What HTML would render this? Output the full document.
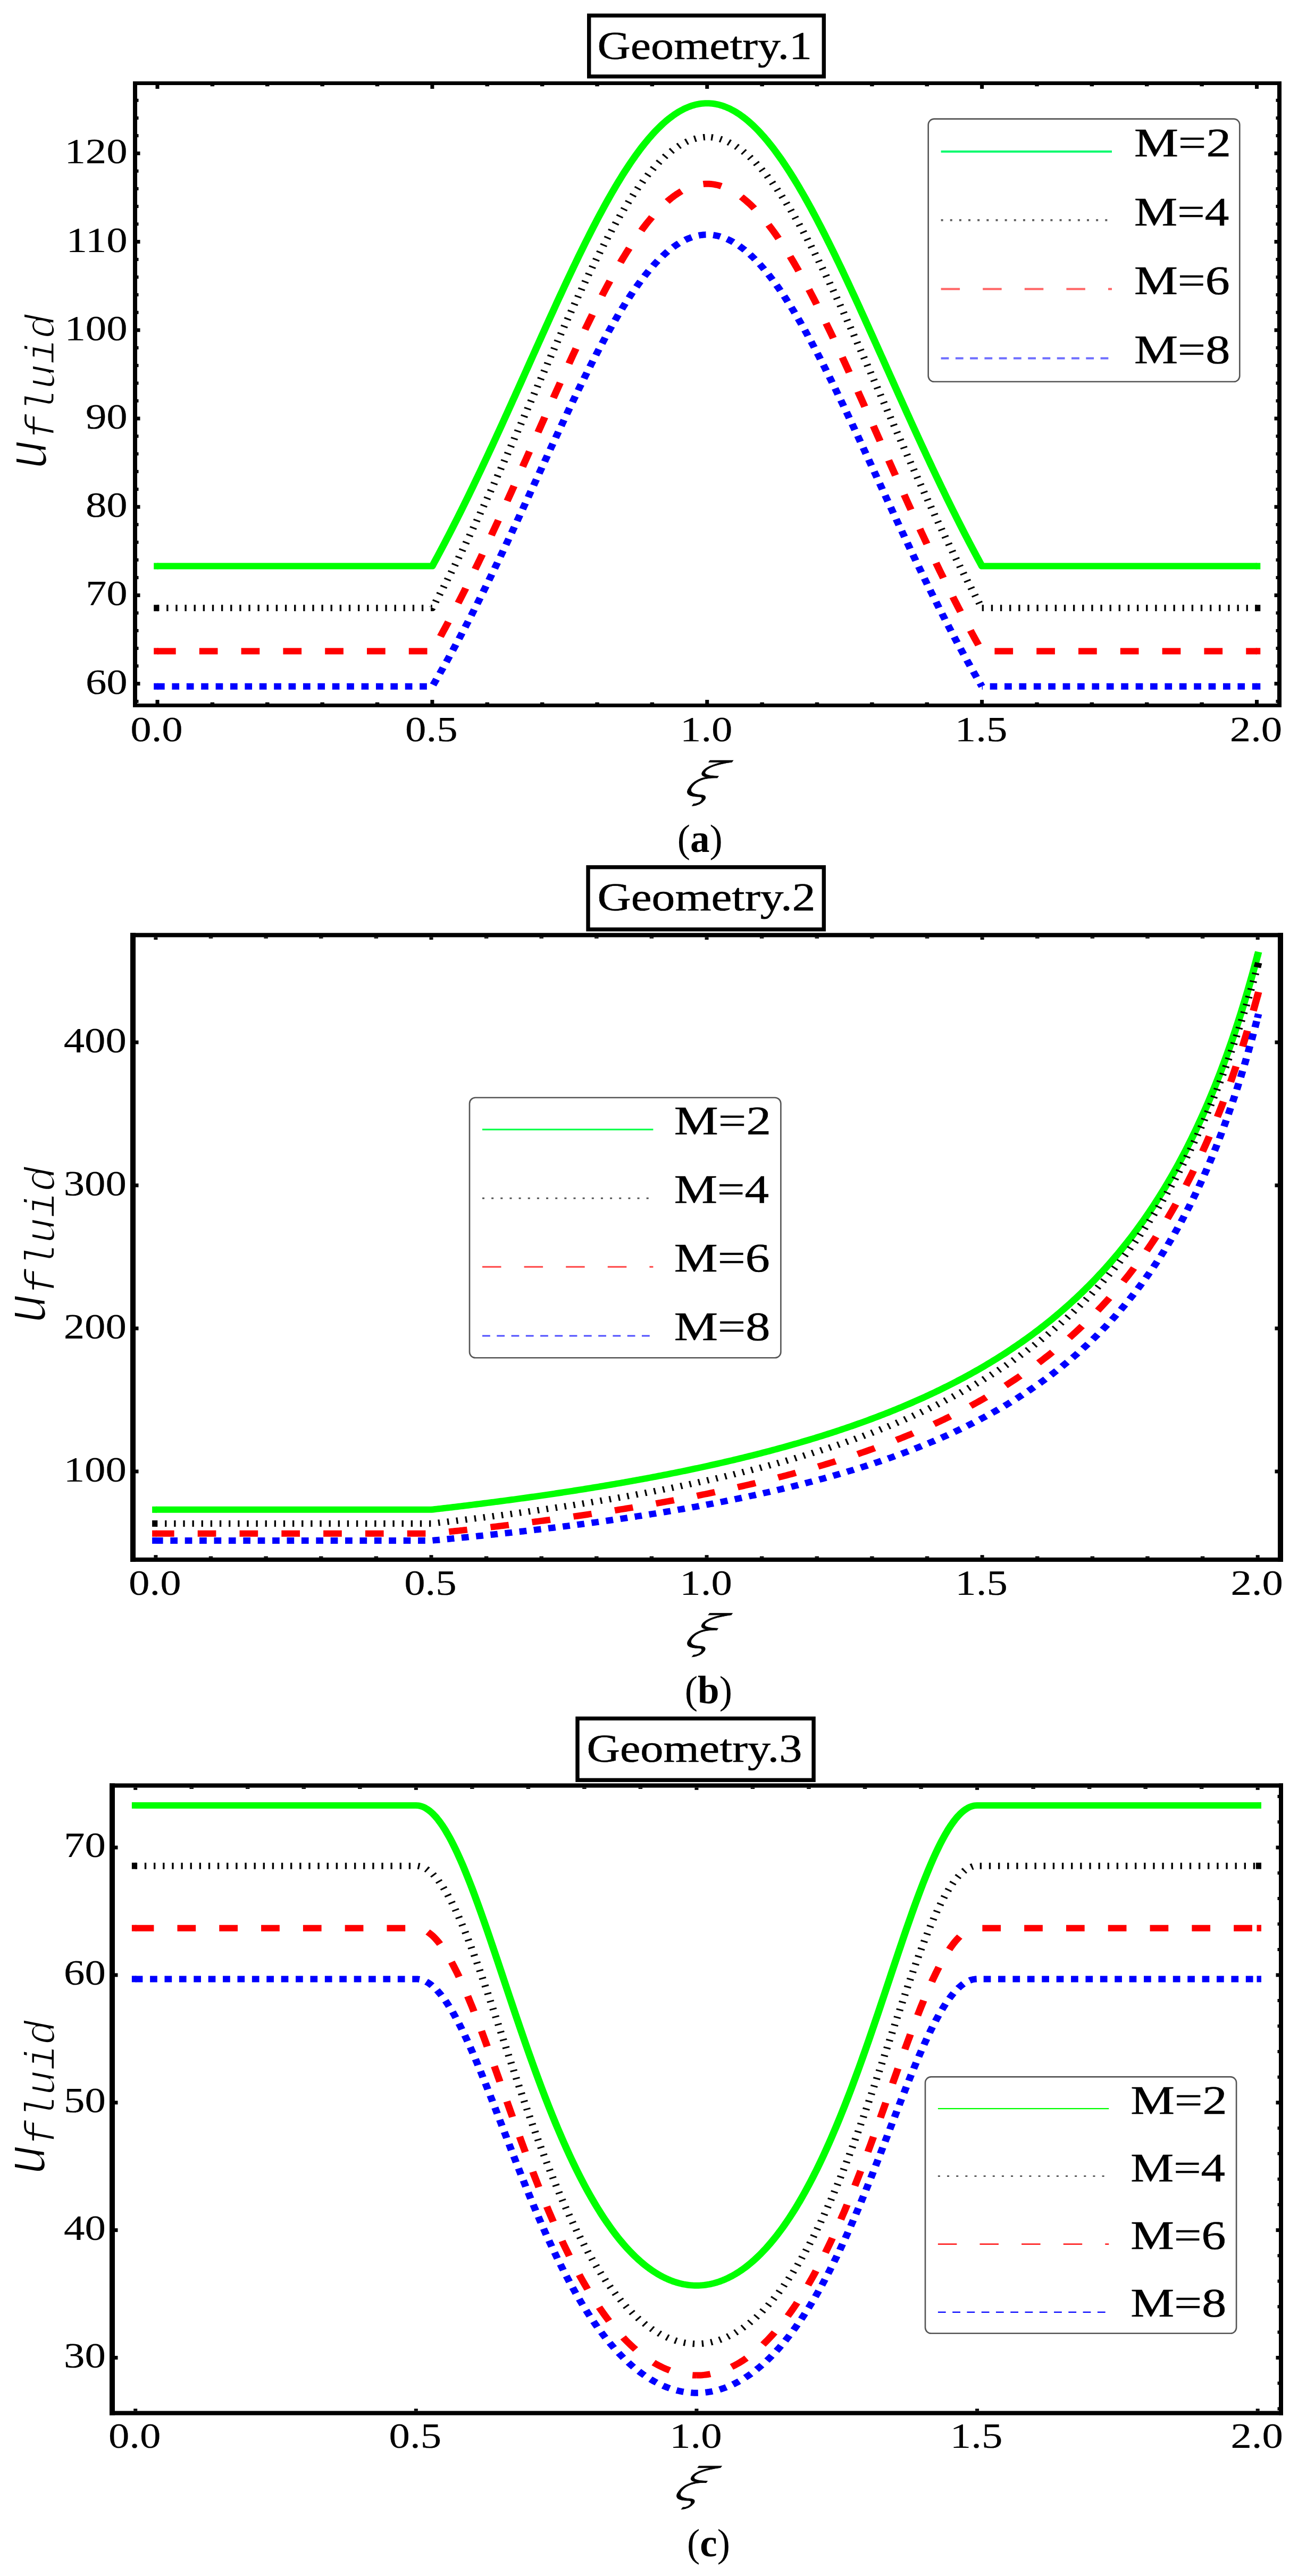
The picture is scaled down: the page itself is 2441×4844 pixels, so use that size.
<!DOCTYPE html>
<html><head><meta charset="utf-8"><title>Figure</title>
<style>html,body{margin:0;padding:0;background:#fff}svg{display:block}text{white-space:pre}</style></head>
<body><svg width="2441" height="4844" viewBox="0 0 2441 4844">
<defs><filter id="thinU" x="-10%" y="-10%" width="120%" height="120%"><feMorphology operator="erode" radius="1"/></filter>
<filter id="thinF" x="-10%" y="-10%" width="120%" height="120%"><feMorphology operator="erode" radius="1"/></filter>
<filter id="thinX" x="-10%" y="-10%" width="120%" height="120%"><feMorphology operator="erode" radius="1"/></filter></defs>
<rect width="2441" height="4844" fill="#fff"/>
<g transform="scale(1.134 1)">
<path d="M261.02 1064.55 L264.06 1064.55 L267.10 1064.55 L270.14 1064.55 L273.18 1064.55 L276.22 1064.55 L279.25 1064.55 L282.29 1064.55 L285.33 1064.55 L288.37 1064.55 L291.41 1064.55 L294.45 1064.55 L297.49 1064.55 L300.53 1064.55 L303.56 1064.55 L306.60 1064.55 L309.64 1064.55 L312.68 1064.55 L315.72 1064.55 L318.76 1064.55 L321.80 1064.55 L324.83 1064.55 L327.87 1064.55 L330.91 1064.55 L333.95 1064.55 L336.99 1064.55 L340.03 1064.55 L343.07 1064.55 L346.11 1064.55 L349.14 1064.55 L352.18 1064.55 L355.22 1064.55 L358.26 1064.55 L361.30 1064.55 L364.34 1064.55 L367.38 1064.55 L370.41 1064.55 L373.45 1064.55 L376.49 1064.55 L379.53 1064.55 L382.57 1064.55 L385.61 1064.55 L388.65 1064.55 L391.69 1064.55 L394.72 1064.55 L397.76 1064.55 L400.80 1064.55 L403.84 1064.55 L406.88 1064.55 L409.92 1064.55 L412.96 1064.55 L415.99 1064.55 L419.03 1064.55 L422.07 1064.55 L425.11 1064.55 L428.15 1064.55 L431.19 1064.55 L434.23 1064.55 L437.26 1064.55 L440.30 1064.55 L443.34 1064.55 L446.38 1064.55 L449.42 1064.55 L452.46 1064.55 L455.50 1064.55 L458.54 1064.55 L461.57 1064.55 L464.61 1064.55 L467.65 1064.55 L470.69 1064.55 L473.73 1064.55 L476.77 1064.55 L479.81 1064.55 L482.84 1064.55 L485.88 1064.55 L488.92 1064.55 L491.96 1064.55 L495.00 1064.55 L498.04 1064.55 L501.08 1064.55 L504.12 1064.55 L507.15 1064.55 L510.19 1064.55 L513.23 1064.55 L516.27 1064.55 L519.31 1064.55 L522.35 1064.55 L525.39 1064.55 L528.42 1064.55 L531.46 1064.55 L534.50 1064.55 L537.54 1064.55 L540.58 1064.55 L543.62 1064.55 L546.66 1064.55 L549.70 1064.55 L552.73 1064.55 L555.77 1064.55 L558.81 1064.55 L561.85 1064.55 L564.89 1064.55 L567.93 1064.55 L570.97 1064.55 L574.00 1064.55 L577.04 1064.55 L580.08 1064.55 L583.12 1064.55 L586.16 1064.55 L589.20 1064.55 L592.24 1064.55 L595.27 1064.55 L598.31 1064.55 L601.35 1064.55 L604.39 1064.55 L607.43 1064.55 L610.47 1064.55 L613.51 1064.55 L616.55 1064.55 L619.58 1064.55 L622.62 1064.55 L625.66 1064.55 L628.70 1064.55 L631.74 1064.55 L634.78 1064.55 L637.82 1064.55 L640.85 1064.55 L643.89 1064.55 L646.93 1064.55 L649.97 1064.55 L653.01 1064.55 L656.05 1064.55 L659.09 1064.55 L662.13 1064.55 L665.16 1064.55 L668.20 1064.55 L671.24 1064.55 L674.28 1064.55 L677.32 1064.55 L680.36 1064.55 L683.40 1064.55 L686.43 1064.55 L689.47 1064.55 L692.51 1064.55 L695.55 1064.55 L698.59 1064.55 L701.63 1064.55 L704.67 1064.55 L707.71 1064.55 L710.74 1064.55 L713.78 1064.55 L716.82 1064.55 L719.86 1058.24 L722.90 1051.88 L725.94 1045.48 L728.98 1039.03 L732.01 1032.54 L735.05 1026.02 L738.09 1019.45 L741.13 1012.84 L744.17 1006.19 L747.21 999.49 L750.25 992.77 L753.28 986.00 L756.32 979.19 L759.36 972.34 L762.40 965.46 L765.44 958.54 L768.48 951.59 L771.52 944.60 L774.56 937.57 L777.59 930.51 L780.63 923.42 L783.67 916.29 L786.71 909.13 L789.75 901.94 L792.79 894.72 L795.83 887.47 L798.86 880.19 L801.90 872.88 L804.94 865.54 L807.98 858.18 L811.02 850.79 L814.06 843.38 L817.10 835.94 L820.14 828.48 L823.17 821.00 L826.21 813.49 L829.25 805.97 L832.29 798.43 L835.33 790.87 L838.37 783.29 L841.41 775.69 L844.44 768.09 L847.48 760.46 L850.52 752.83 L853.56 745.18 L856.60 737.53 L859.64 729.87 L862.68 722.19 L865.72 714.52 L868.75 706.83 L871.79 699.15 L874.83 691.46 L877.87 683.77 L880.91 676.08 L883.95 668.40 L886.99 660.71 L890.02 653.04 L893.06 645.37 L896.10 637.70 L899.14 630.05 L902.18 622.41 L905.22 614.78 L908.26 607.16 L911.29 599.56 L914.33 591.98 L917.37 584.41 L920.41 576.87 L923.45 569.35 L926.49 561.85 L929.53 554.38 L932.57 546.93 L935.60 539.52 L938.64 532.14 L941.68 524.78 L944.72 517.47 L947.76 510.19 L950.80 502.94 L953.84 495.74 L956.87 488.58 L959.91 481.46 L962.95 474.39 L965.99 467.36 L969.03 460.39 L972.07 453.46 L975.11 446.59 L978.15 439.77 L981.18 433.01 L984.22 426.30 L987.26 419.66 L990.30 413.08 L993.34 406.56 L996.38 400.11 L999.42 393.72 L1002.45 387.41 L1005.49 381.16 L1008.53 374.99 L1011.57 368.89 L1014.61 362.87 L1017.65 356.93 L1020.69 351.07 L1023.73 345.29 L1026.76 339.60 L1029.80 333.99 L1032.84 328.47 L1035.88 323.04 L1038.92 317.70 L1041.96 312.45 L1045.00 307.29 L1048.03 302.24 L1051.07 297.28 L1054.11 292.42 L1057.15 287.66 L1060.19 283.00 L1063.23 278.44 L1066.27 274.00 L1069.30 269.66 L1072.34 265.42 L1075.38 261.30 L1078.42 257.29 L1081.46 253.39 L1084.50 249.61 L1087.54 245.94 L1090.58 242.39 L1093.61 238.95 L1096.65 235.64 L1099.69 232.44 L1102.73 229.37 L1105.77 226.42 L1108.81 223.59 L1111.85 220.89 L1114.88 218.31 L1117.92 215.86 L1120.96 213.54 L1124.00 211.34 L1127.04 209.28 L1130.08 207.34 L1133.12 205.54 L1136.16 203.86 L1139.19 202.32 L1142.23 200.91 L1145.27 199.63 L1148.31 198.48 L1151.35 197.47 L1154.39 196.60 L1157.43 195.85 L1160.46 195.25 L1163.50 194.77 L1166.54 194.44 L1169.58 194.23 L1172.62 194.16 L1175.66 194.23 L1178.70 194.44 L1181.74 194.77 L1184.77 195.25 L1187.81 195.85 L1190.85 196.60 L1193.89 197.47 L1196.93 198.48 L1199.97 199.63 L1203.01 200.91 L1206.04 202.32 L1209.08 203.86 L1212.12 205.54 L1215.16 207.34 L1218.20 209.28 L1221.24 211.34 L1224.28 213.54 L1227.31 215.86 L1230.35 218.31 L1233.39 220.89 L1236.43 223.59 L1239.47 226.42 L1242.51 229.37 L1245.55 232.44 L1248.59 235.64 L1251.62 238.95 L1254.66 242.39 L1257.70 245.94 L1260.74 249.61 L1263.78 253.39 L1266.82 257.29 L1269.86 261.30 L1272.89 265.42 L1275.93 269.66 L1278.97 274.00 L1282.01 278.44 L1285.05 283.00 L1288.09 287.66 L1291.13 292.42 L1294.17 297.28 L1297.20 302.24 L1300.24 307.29 L1303.28 312.45 L1306.32 317.70 L1309.36 323.04 L1312.40 328.47 L1315.44 333.99 L1318.47 339.60 L1321.51 345.29 L1324.55 351.07 L1327.59 356.93 L1330.63 362.87 L1333.67 368.89 L1336.71 374.99 L1339.75 381.16 L1342.78 387.41 L1345.82 393.72 L1348.86 400.11 L1351.90 406.56 L1354.94 413.08 L1357.98 419.66 L1361.02 426.30 L1364.05 433.01 L1367.09 439.77 L1370.13 446.59 L1373.17 453.46 L1376.21 460.39 L1379.25 467.36 L1382.29 474.39 L1385.32 481.46 L1388.36 488.58 L1391.40 495.74 L1394.44 502.94 L1397.48 510.19 L1400.52 517.47 L1403.56 524.78 L1406.60 532.14 L1409.63 539.52 L1412.67 546.93 L1415.71 554.38 L1418.75 561.85 L1421.79 569.35 L1424.83 576.87 L1427.87 584.41 L1430.90 591.98 L1433.94 599.56 L1436.98 607.16 L1440.02 614.78 L1443.06 622.41 L1446.10 630.05 L1449.14 637.70 L1452.18 645.37 L1455.21 653.04 L1458.25 660.71 L1461.29 668.40 L1464.33 676.08 L1467.37 683.77 L1470.41 691.46 L1473.45 699.15 L1476.48 706.83 L1479.52 714.52 L1482.56 722.19 L1485.60 729.87 L1488.64 737.53 L1491.68 745.18 L1494.72 752.83 L1497.75 760.46 L1500.79 768.09 L1503.83 775.69 L1506.87 783.29 L1509.91 790.87 L1512.95 798.43 L1515.99 805.97 L1519.03 813.49 L1522.06 821.00 L1525.10 828.48 L1528.14 835.94 L1531.18 843.38 L1534.22 850.79 L1537.26 858.18 L1540.30 865.54 L1543.33 872.88 L1546.37 880.19 L1549.41 887.47 L1552.45 894.72 L1555.49 901.94 L1558.53 909.13 L1561.57 916.29 L1564.61 923.42 L1567.64 930.51 L1570.68 937.57 L1573.72 944.60 L1576.76 951.59 L1579.80 958.54 L1582.84 965.46 L1585.88 972.34 L1588.91 979.19 L1591.95 986.00 L1594.99 992.77 L1598.03 999.49 L1601.07 1006.19 L1604.11 1012.84 L1607.15 1019.45 L1610.19 1026.02 L1613.22 1032.54 L1616.26 1039.03 L1619.30 1045.48 L1622.34 1051.88 L1625.38 1058.24 L1628.42 1064.55 L1631.46 1064.55 L1634.49 1064.55 L1637.53 1064.55 L1640.57 1064.55 L1643.61 1064.55 L1646.65 1064.55 L1649.69 1064.55 L1652.73 1064.55 L1655.76 1064.55 L1658.80 1064.55 L1661.84 1064.55 L1664.88 1064.55 L1667.92 1064.55 L1670.96 1064.55 L1674.00 1064.55 L1677.04 1064.55 L1680.07 1064.55 L1683.11 1064.55 L1686.15 1064.55 L1689.19 1064.55 L1692.23 1064.55 L1695.27 1064.55 L1698.31 1064.55 L1701.34 1064.55 L1704.38 1064.55 L1707.42 1064.55 L1710.46 1064.55 L1713.50 1064.55 L1716.54 1064.55 L1719.58 1064.55 L1722.62 1064.55 L1725.65 1064.55 L1728.69 1064.55 L1731.73 1064.55 L1734.77 1064.55 L1737.81 1064.55 L1740.85 1064.55 L1743.89 1064.55 L1746.92 1064.55 L1749.96 1064.55 L1753.00 1064.55 L1756.04 1064.55 L1759.08 1064.55 L1762.12 1064.55 L1765.16 1064.55 L1768.20 1064.55 L1771.23 1064.55 L1774.27 1064.55 L1777.31 1064.55 L1780.35 1064.55 L1783.39 1064.55 L1786.43 1064.55 L1789.47 1064.55 L1792.50 1064.55 L1795.54 1064.55 L1798.58 1064.55 L1801.62 1064.55 L1804.66 1064.55 L1807.70 1064.55 L1810.74 1064.55 L1813.77 1064.55 L1816.81 1064.55 L1819.85 1064.55 L1822.89 1064.55 L1825.93 1064.55 L1828.97 1064.55 L1832.01 1064.55 L1835.05 1064.55 L1838.08 1064.55 L1841.12 1064.55 L1844.16 1064.55 L1847.20 1064.55 L1850.24 1064.55 L1853.28 1064.55 L1856.32 1064.55 L1859.35 1064.55 L1862.39 1064.55 L1865.43 1064.55 L1868.47 1064.55 L1871.51 1064.55 L1874.55 1064.55 L1877.59 1064.55 L1880.63 1064.55 L1883.66 1064.55 L1886.70 1064.55 L1889.74 1064.55 L1892.78 1064.55 L1895.82 1064.55 L1898.86 1064.55 L1901.90 1064.55 L1904.93 1064.55 L1907.97 1064.55 L1911.01 1064.55 L1914.05 1064.55 L1917.09 1064.55 L1920.13 1064.55 L1923.17 1064.55 L1926.21 1064.55 L1929.24 1064.55 L1932.28 1064.55 L1935.32 1064.55 L1938.36 1064.55 L1941.40 1064.55 L1944.44 1064.55 L1947.48 1064.55 L1950.51 1064.55 L1953.55 1064.55 L1956.59 1064.55 L1959.63 1064.55 L1962.67 1064.55 L1965.71 1064.55 L1968.75 1064.55 L1971.78 1064.55 L1974.82 1064.55 L1977.86 1064.55 L1980.90 1064.55 L1983.94 1064.55 L1986.98 1064.55 L1990.02 1064.55 L1993.06 1064.55 L1996.09 1064.55 L1999.13 1064.55 L2002.17 1064.55 L2005.21 1064.55 L2008.25 1064.55 L2011.29 1064.55 L2014.33 1064.55 L2017.36 1064.55 L2020.40 1064.55 L2023.44 1064.55 L2026.48 1064.55 L2029.52 1064.55 L2032.56 1064.55 L2035.60 1064.55 L2038.64 1064.55 L2041.67 1064.55 L2044.71 1064.55 L2047.75 1064.55 L2050.79 1064.55 L2053.83 1064.55 L2056.87 1064.55 L2059.91 1064.55 L2062.94 1064.55 L2065.98 1064.55 L2069.02 1064.55 L2072.06 1064.55 L2075.10 1064.55 L2078.14 1064.55 L2081.18 1064.55 L2084.22 1064.55" fill="none" stroke="#00ff00" stroke-width="12.0" stroke-linejoin="round"/>
<path d="M262.52 1064.55 L255.02 1064.55" stroke="#00ff00" stroke-width="12.0" fill="none"/>
<path d="M2082.72 1064.55 L2090.22 1064.55" stroke="#00ff00" stroke-width="12.0" fill="none"/>
<path d="M261.02 1143.33 L264.06 1143.33 L267.10 1143.33 L270.14 1143.33 L273.18 1143.33 L276.22 1143.33 L279.25 1143.33 L282.29 1143.33 L285.33 1143.33 L288.37 1143.33 L291.41 1143.33 L294.45 1143.33 L297.49 1143.33 L300.53 1143.33 L303.56 1143.33 L306.60 1143.33 L309.64 1143.33 L312.68 1143.33 L315.72 1143.33 L318.76 1143.33 L321.80 1143.33 L324.83 1143.33 L327.87 1143.33 L330.91 1143.33 L333.95 1143.33 L336.99 1143.33 L340.03 1143.33 L343.07 1143.33 L346.11 1143.33 L349.14 1143.33 L352.18 1143.33 L355.22 1143.33 L358.26 1143.33 L361.30 1143.33 L364.34 1143.33 L367.38 1143.33 L370.41 1143.33 L373.45 1143.33 L376.49 1143.33 L379.53 1143.33 L382.57 1143.33 L385.61 1143.33 L388.65 1143.33 L391.69 1143.33 L394.72 1143.33 L397.76 1143.33 L400.80 1143.33 L403.84 1143.33 L406.88 1143.33 L409.92 1143.33 L412.96 1143.33 L415.99 1143.33 L419.03 1143.33 L422.07 1143.33 L425.11 1143.33 L428.15 1143.33 L431.19 1143.33 L434.23 1143.33 L437.26 1143.33 L440.30 1143.33 L443.34 1143.33 L446.38 1143.33 L449.42 1143.33 L452.46 1143.33 L455.50 1143.33 L458.54 1143.33 L461.57 1143.33 L464.61 1143.33 L467.65 1143.33 L470.69 1143.33 L473.73 1143.33 L476.77 1143.33 L479.81 1143.33 L482.84 1143.33 L485.88 1143.33 L488.92 1143.33 L491.96 1143.33 L495.00 1143.33 L498.04 1143.33 L501.08 1143.33 L504.12 1143.33 L507.15 1143.33 L510.19 1143.33 L513.23 1143.33 L516.27 1143.33 L519.31 1143.33 L522.35 1143.33 L525.39 1143.33 L528.42 1143.33 L531.46 1143.33 L534.50 1143.33 L537.54 1143.33 L540.58 1143.33 L543.62 1143.33 L546.66 1143.33 L549.70 1143.33 L552.73 1143.33 L555.77 1143.33 L558.81 1143.33 L561.85 1143.33 L564.89 1143.33 L567.93 1143.33 L570.97 1143.33 L574.00 1143.33 L577.04 1143.33 L580.08 1143.33 L583.12 1143.33 L586.16 1143.33 L589.20 1143.33 L592.24 1143.33 L595.27 1143.33 L598.31 1143.33 L601.35 1143.33 L604.39 1143.33 L607.43 1143.33 L610.47 1143.33 L613.51 1143.33 L616.55 1143.33 L619.58 1143.33 L622.62 1143.33 L625.66 1143.33 L628.70 1143.33 L631.74 1143.33 L634.78 1143.33 L637.82 1143.33 L640.85 1143.33 L643.89 1143.33 L646.93 1143.33 L649.97 1143.33 L653.01 1143.33 L656.05 1143.33 L659.09 1143.33 L662.13 1143.33 L665.16 1143.33 L668.20 1143.33 L671.24 1143.33 L674.28 1143.33 L677.32 1143.33 L680.36 1143.33 L683.40 1143.33 L686.43 1143.33 L689.47 1143.33 L692.51 1143.33 L695.55 1143.33 L698.59 1143.33 L701.63 1143.33 L704.67 1143.33 L707.71 1143.33 L710.74 1143.33 L713.78 1143.33 L716.82 1143.33 L719.86 1137.07 L722.90 1130.75 L725.94 1124.40 L728.98 1118.00 L732.01 1111.55 L735.05 1105.06 L738.09 1098.53 L741.13 1091.95 L744.17 1085.33 L747.21 1078.67 L750.25 1071.96 L753.28 1065.22 L756.32 1058.43 L759.36 1051.60 L762.40 1044.73 L765.44 1037.82 L768.48 1030.88 L771.52 1023.89 L774.56 1016.87 L777.59 1009.80 L780.63 1002.71 L783.67 995.57 L786.71 988.40 L789.75 981.20 L792.79 973.96 L795.83 966.69 L798.86 959.39 L801.90 952.05 L804.94 944.68 L807.98 937.29 L811.02 929.86 L814.06 922.41 L817.10 914.93 L820.14 907.42 L823.17 899.88 L826.21 892.33 L829.25 884.74 L832.29 877.14 L835.33 869.51 L838.37 861.87 L841.41 854.20 L844.44 846.52 L847.48 838.82 L850.52 831.10 L853.56 823.37 L856.60 815.63 L859.64 807.87 L862.68 800.10 L865.72 792.32 L868.75 784.54 L871.79 776.75 L874.83 768.95 L877.87 761.15 L880.91 753.34 L883.95 745.54 L886.99 737.73 L890.02 729.93 L893.06 722.13 L896.10 714.33 L899.14 706.54 L902.18 698.76 L905.22 690.99 L908.26 683.23 L911.29 675.48 L914.33 667.74 L917.37 660.03 L920.41 652.33 L923.45 644.65 L926.49 636.99 L929.53 629.36 L932.57 621.75 L935.60 614.16 L938.64 606.61 L941.68 599.09 L944.72 591.59 L947.76 584.14 L950.80 576.72 L953.84 569.33 L956.87 561.99 L959.91 554.69 L962.95 547.43 L965.99 540.22 L969.03 533.06 L972.07 525.94 L975.11 518.88 L978.15 511.87 L981.18 504.92 L984.22 498.02 L987.26 491.18 L990.30 484.41 L993.34 477.70 L996.38 471.05 L999.42 464.47 L1002.45 457.96 L1005.49 451.52 L1008.53 445.16 L1011.57 438.87 L1014.61 432.66 L1017.65 426.52 L1020.69 420.47 L1023.73 414.50 L1026.76 408.62 L1029.80 402.83 L1032.84 397.12 L1035.88 391.50 L1038.92 385.98 L1041.96 380.55 L1045.00 375.21 L1048.03 369.98 L1051.07 364.84 L1054.11 359.81 L1057.15 354.88 L1060.19 350.06 L1063.23 345.34 L1066.27 340.73 L1069.30 336.23 L1072.34 331.84 L1075.38 327.56 L1078.42 323.40 L1081.46 319.36 L1084.50 315.43 L1087.54 311.62 L1090.58 307.94 L1093.61 304.37 L1096.65 300.93 L1099.69 297.61 L1102.73 294.42 L1105.77 291.35 L1108.81 288.42 L1111.85 285.61 L1114.88 282.93 L1117.92 280.38 L1120.96 277.97 L1124.00 275.69 L1127.04 273.54 L1130.08 271.53 L1133.12 269.65 L1136.16 267.91 L1139.19 266.30 L1142.23 264.83 L1145.27 263.50 L1148.31 262.31 L1151.35 261.26 L1154.39 260.35 L1157.43 259.58 L1160.46 258.94 L1163.50 258.45 L1166.54 258.10 L1169.58 257.89 L1172.62 257.82" fill="none" stroke="#000000" stroke-width="12.0" stroke-linejoin="round" stroke-dasharray="3.000 12.110"/>
<path d="M1172.62 257.82 L1175.66 257.89 L1178.70 258.10 L1181.74 258.45 L1184.77 258.94 L1187.81 259.58 L1190.85 260.35 L1193.89 261.26 L1196.93 262.31 L1199.97 263.50 L1203.01 264.83 L1206.04 266.30 L1209.08 267.91 L1212.12 269.65 L1215.16 271.53 L1218.20 273.54 L1221.24 275.69 L1224.28 277.97 L1227.31 280.38 L1230.35 282.93 L1233.39 285.61 L1236.43 288.42 L1239.47 291.35 L1242.51 294.42 L1245.55 297.61 L1248.59 300.93 L1251.62 304.37 L1254.66 307.94 L1257.70 311.62 L1260.74 315.43 L1263.78 319.36 L1266.82 323.40 L1269.86 327.56 L1272.89 331.84 L1275.93 336.23 L1278.97 340.73 L1282.01 345.34 L1285.05 350.06 L1288.09 354.88 L1291.13 359.81 L1294.17 364.84 L1297.20 369.98 L1300.24 375.21 L1303.28 380.55 L1306.32 385.98 L1309.36 391.50 L1312.40 397.12 L1315.44 402.83 L1318.47 408.62 L1321.51 414.50 L1324.55 420.47 L1327.59 426.52 L1330.63 432.66 L1333.67 438.87 L1336.71 445.16 L1339.75 451.52 L1342.78 457.96 L1345.82 464.47 L1348.86 471.05 L1351.90 477.70 L1354.94 484.41 L1357.98 491.18 L1361.02 498.02 L1364.05 504.92 L1367.09 511.87 L1370.13 518.88 L1373.17 525.94 L1376.21 533.06 L1379.25 540.22 L1382.29 547.43 L1385.32 554.69 L1388.36 561.99 L1391.40 569.33 L1394.44 576.72 L1397.48 584.14 L1400.52 591.59 L1403.56 599.09 L1406.60 606.61 L1409.63 614.16 L1412.67 621.75 L1415.71 629.36 L1418.75 636.99 L1421.79 644.65 L1424.83 652.33 L1427.87 660.03 L1430.90 667.74 L1433.94 675.48 L1436.98 683.23 L1440.02 690.99 L1443.06 698.76 L1446.10 706.54 L1449.14 714.33 L1452.18 722.13 L1455.21 729.93 L1458.25 737.73 L1461.29 745.54 L1464.33 753.34 L1467.37 761.15 L1470.41 768.95 L1473.45 776.75 L1476.48 784.54 L1479.52 792.32 L1482.56 800.10 L1485.60 807.87 L1488.64 815.63 L1491.68 823.37 L1494.72 831.10 L1497.75 838.82 L1500.79 846.52 L1503.83 854.20 L1506.87 861.87 L1509.91 869.51 L1512.95 877.14 L1515.99 884.74 L1519.03 892.33 L1522.06 899.88 L1525.10 907.42 L1528.14 914.93 L1531.18 922.41 L1534.22 929.86 L1537.26 937.29 L1540.30 944.68 L1543.33 952.05 L1546.37 959.39 L1549.41 966.69 L1552.45 973.96 L1555.49 981.20 L1558.53 988.40 L1561.57 995.57 L1564.61 1002.71 L1567.64 1009.80 L1570.68 1016.87 L1573.72 1023.89 L1576.76 1030.88 L1579.80 1037.82 L1582.84 1044.73 L1585.88 1051.60 L1588.91 1058.43 L1591.95 1065.22 L1594.99 1071.96 L1598.03 1078.67 L1601.07 1085.33 L1604.11 1091.95 L1607.15 1098.53 L1610.19 1105.06 L1613.22 1111.55 L1616.26 1118.00 L1619.30 1124.40 L1622.34 1130.75 L1625.38 1137.07 L1628.42 1143.33" fill="none" stroke="#000000" stroke-width="12.0" stroke-linejoin="round" stroke-dasharray="3.000 12.110" stroke-dashoffset="8.46"/>
<path d="M1628.42 1143.33 L1631.46 1143.33 L1634.49 1143.33 L1637.53 1143.33 L1640.57 1143.33 L1643.61 1143.33 L1646.65 1143.33 L1649.69 1143.33 L1652.73 1143.33 L1655.76 1143.33 L1658.80 1143.33 L1661.84 1143.33 L1664.88 1143.33 L1667.92 1143.33 L1670.96 1143.33 L1674.00 1143.33 L1677.04 1143.33 L1680.07 1143.33 L1683.11 1143.33 L1686.15 1143.33 L1689.19 1143.33 L1692.23 1143.33 L1695.27 1143.33 L1698.31 1143.33 L1701.34 1143.33 L1704.38 1143.33 L1707.42 1143.33 L1710.46 1143.33 L1713.50 1143.33 L1716.54 1143.33 L1719.58 1143.33 L1722.62 1143.33 L1725.65 1143.33 L1728.69 1143.33 L1731.73 1143.33 L1734.77 1143.33 L1737.81 1143.33 L1740.85 1143.33 L1743.89 1143.33 L1746.92 1143.33 L1749.96 1143.33 L1753.00 1143.33 L1756.04 1143.33 L1759.08 1143.33 L1762.12 1143.33 L1765.16 1143.33 L1768.20 1143.33 L1771.23 1143.33 L1774.27 1143.33 L1777.31 1143.33 L1780.35 1143.33 L1783.39 1143.33 L1786.43 1143.33 L1789.47 1143.33 L1792.50 1143.33 L1795.54 1143.33 L1798.58 1143.33 L1801.62 1143.33 L1804.66 1143.33 L1807.70 1143.33 L1810.74 1143.33 L1813.77 1143.33 L1816.81 1143.33 L1819.85 1143.33 L1822.89 1143.33 L1825.93 1143.33 L1828.97 1143.33 L1832.01 1143.33 L1835.05 1143.33 L1838.08 1143.33 L1841.12 1143.33 L1844.16 1143.33 L1847.20 1143.33 L1850.24 1143.33 L1853.28 1143.33 L1856.32 1143.33 L1859.35 1143.33 L1862.39 1143.33 L1865.43 1143.33 L1868.47 1143.33 L1871.51 1143.33 L1874.55 1143.33 L1877.59 1143.33 L1880.63 1143.33 L1883.66 1143.33 L1886.70 1143.33 L1889.74 1143.33 L1892.78 1143.33 L1895.82 1143.33 L1898.86 1143.33 L1901.90 1143.33 L1904.93 1143.33 L1907.97 1143.33 L1911.01 1143.33 L1914.05 1143.33 L1917.09 1143.33 L1920.13 1143.33 L1923.17 1143.33 L1926.21 1143.33 L1929.24 1143.33 L1932.28 1143.33 L1935.32 1143.33 L1938.36 1143.33 L1941.40 1143.33 L1944.44 1143.33 L1947.48 1143.33 L1950.51 1143.33 L1953.55 1143.33 L1956.59 1143.33 L1959.63 1143.33 L1962.67 1143.33 L1965.71 1143.33 L1968.75 1143.33 L1971.78 1143.33 L1974.82 1143.33 L1977.86 1143.33 L1980.90 1143.33 L1983.94 1143.33 L1986.98 1143.33 L1990.02 1143.33 L1993.06 1143.33 L1996.09 1143.33 L1999.13 1143.33 L2002.17 1143.33 L2005.21 1143.33 L2008.25 1143.33 L2011.29 1143.33 L2014.33 1143.33 L2017.36 1143.33 L2020.40 1143.33 L2023.44 1143.33 L2026.48 1143.33 L2029.52 1143.33 L2032.56 1143.33 L2035.60 1143.33 L2038.64 1143.33 L2041.67 1143.33 L2044.71 1143.33 L2047.75 1143.33 L2050.79 1143.33 L2053.83 1143.33 L2056.87 1143.33 L2059.91 1143.33 L2062.94 1143.33 L2065.98 1143.33 L2069.02 1143.33 L2072.06 1143.33 L2075.10 1143.33 L2078.14 1143.33 L2081.18 1143.33 L2084.22 1143.33" fill="none" stroke="#000000" stroke-width="12.0" stroke-linejoin="round" stroke-dasharray="3.000 12.110"/>
<path d="M262.52 1143.33 L255.02 1143.33" stroke="#000000" stroke-width="12.0" fill="none"/>
<path d="M2081.22 1143.33 L2090.22 1143.33" stroke="#000000" stroke-width="12.0" fill="none"/>
<path d="M261.02 1224.44 L264.06 1224.44 L267.10 1224.44 L270.14 1224.44 L273.18 1224.44 L276.22 1224.44 L279.25 1224.44 L282.29 1224.44 L285.33 1224.44 L288.37 1224.44 L291.41 1224.44 L294.45 1224.44 L297.49 1224.44 L300.53 1224.44 L303.56 1224.44 L306.60 1224.44 L309.64 1224.44 L312.68 1224.44 L315.72 1224.44 L318.76 1224.44 L321.80 1224.44 L324.83 1224.44 L327.87 1224.44 L330.91 1224.44 L333.95 1224.44 L336.99 1224.44 L340.03 1224.44 L343.07 1224.44 L346.11 1224.44 L349.14 1224.44 L352.18 1224.44 L355.22 1224.44 L358.26 1224.44 L361.30 1224.44 L364.34 1224.44 L367.38 1224.44 L370.41 1224.44 L373.45 1224.44 L376.49 1224.44 L379.53 1224.44 L382.57 1224.44 L385.61 1224.44 L388.65 1224.44 L391.69 1224.44 L394.72 1224.44 L397.76 1224.44 L400.80 1224.44 L403.84 1224.44 L406.88 1224.44 L409.92 1224.44 L412.96 1224.44 L415.99 1224.44 L419.03 1224.44 L422.07 1224.44 L425.11 1224.44 L428.15 1224.44 L431.19 1224.44 L434.23 1224.44 L437.26 1224.44 L440.30 1224.44 L443.34 1224.44 L446.38 1224.44 L449.42 1224.44 L452.46 1224.44 L455.50 1224.44 L458.54 1224.44 L461.57 1224.44 L464.61 1224.44 L467.65 1224.44 L470.69 1224.44 L473.73 1224.44 L476.77 1224.44 L479.81 1224.44 L482.84 1224.44 L485.88 1224.44 L488.92 1224.44 L491.96 1224.44 L495.00 1224.44 L498.04 1224.44 L501.08 1224.44 L504.12 1224.44 L507.15 1224.44 L510.19 1224.44 L513.23 1224.44 L516.27 1224.44 L519.31 1224.44 L522.35 1224.44 L525.39 1224.44 L528.42 1224.44 L531.46 1224.44 L534.50 1224.44 L537.54 1224.44 L540.58 1224.44 L543.62 1224.44 L546.66 1224.44 L549.70 1224.44 L552.73 1224.44 L555.77 1224.44 L558.81 1224.44 L561.85 1224.44 L564.89 1224.44 L567.93 1224.44 L570.97 1224.44 L574.00 1224.44 L577.04 1224.44 L580.08 1224.44 L583.12 1224.44 L586.16 1224.44 L589.20 1224.44 L592.24 1224.44 L595.27 1224.44 L598.31 1224.44 L601.35 1224.44 L604.39 1224.44 L607.43 1224.44 L610.47 1224.44 L613.51 1224.44 L616.55 1224.44 L619.58 1224.44 L622.62 1224.44 L625.66 1224.44 L628.70 1224.44 L631.74 1224.44 L634.78 1224.44 L637.82 1224.44 L640.85 1224.44 L643.89 1224.44 L646.93 1224.44 L649.97 1224.44 L653.01 1224.44 L656.05 1224.44 L659.09 1224.44 L662.13 1224.44 L665.16 1224.44 L668.20 1224.44 L671.24 1224.44 L674.28 1224.44 L677.32 1224.44 L680.36 1224.44 L683.40 1224.44 L686.43 1224.44 L689.47 1224.44 L692.51 1224.44 L695.55 1224.44 L698.59 1224.44 L701.63 1224.44 L704.67 1224.44 L707.71 1224.44 L710.74 1224.44 L713.78 1224.44 L716.82 1224.44 L719.86 1218.35 L722.90 1212.21 L725.94 1206.03 L728.98 1199.80 L732.01 1193.53 L735.05 1187.21 L738.09 1180.84 L741.13 1174.44 L744.17 1167.98 L747.21 1161.49 L750.25 1154.95 L753.28 1148.37 L756.32 1141.74 L759.36 1135.08 L762.40 1128.37 L765.44 1121.62 L768.48 1114.83 L771.52 1108.00 L774.56 1101.13 L777.59 1094.22 L780.63 1087.27 L783.67 1080.29 L786.71 1073.27 L789.75 1066.21 L792.79 1059.11 L795.83 1051.98 L798.86 1044.82 L801.90 1037.62 L804.94 1030.39 L807.98 1023.13 L811.02 1015.84 L814.06 1008.51 L817.10 1001.16 L820.14 993.77 L823.17 986.36 L826.21 978.93 L829.25 971.46 L832.29 963.98 L835.33 956.46 L838.37 948.93 L841.41 941.37 L844.44 933.79 L847.48 926.20 L850.52 918.58 L853.56 910.95 L856.60 903.30 L859.64 895.64 L862.68 887.96 L865.72 880.27 L868.75 872.57 L871.79 864.87 L874.83 857.15 L877.87 849.42 L880.91 841.70 L883.95 833.96 L886.99 826.23 L890.02 818.49 L893.06 810.75 L896.10 803.02 L899.14 795.29 L902.18 787.56 L905.22 779.85 L908.26 772.14 L911.29 764.44 L914.33 756.75 L917.37 749.08 L920.41 741.42 L923.45 733.78 L926.49 726.15 L929.53 718.55 L932.57 710.97 L935.60 703.42 L938.64 695.89 L941.68 688.39 L944.72 680.91 L947.76 673.47 L950.80 666.07 L953.84 658.70 L956.87 651.37 L959.91 644.07 L962.95 636.82 L965.99 629.61 L969.03 622.45 L972.07 615.34 L975.11 608.27 L978.15 601.26 L981.18 594.30 L984.22 587.39 L987.26 580.55 L990.30 573.76 L993.34 567.04 L996.38 560.37 L999.42 553.78 L1002.45 547.25 L1005.49 540.79 L1008.53 534.41 L1011.57 528.10 L1014.61 521.86 L1017.65 515.70 L1020.69 509.63 L1023.73 503.63 L1026.76 497.72 L1029.80 491.89 L1032.84 486.16 L1035.88 480.51 L1038.92 474.95 L1041.96 469.49 L1045.00 464.13 L1048.03 458.86 L1051.07 453.69 L1054.11 448.62 L1057.15 443.66 L1060.19 438.80 L1063.23 434.05 L1066.27 429.40 L1069.30 424.87 L1072.34 420.45 L1075.38 416.14 L1078.42 411.94 L1081.46 407.86 L1084.50 403.90 L1087.54 400.06 L1090.58 396.34 L1093.61 392.75 L1096.65 389.27 L1099.69 385.93 L1102.73 382.70 L1105.77 379.61 L1108.81 376.65 L1111.85 373.81 L1114.88 371.11 L1117.92 368.53 L1120.96 366.10 L1124.00 363.79 L1127.04 361.62 L1130.08 359.59 L1133.12 357.69 L1136.16 355.93 L1139.19 354.31 L1142.23 352.83 L1145.27 351.48 L1148.31 350.28 L1151.35 349.22 L1154.39 348.30 L1157.43 347.52 L1160.46 346.88 L1163.50 346.38 L1166.54 346.02 L1169.58 345.81 L1172.62 345.74 L1175.66 345.81 L1178.70 346.02 L1181.74 346.38 L1184.77 346.88 L1187.81 347.52 L1190.85 348.30 L1193.89 349.22 L1196.93 350.28 L1199.97 351.48 L1203.01 352.83 L1206.04 354.31 L1209.08 355.93 L1212.12 357.69 L1215.16 359.59 L1218.20 361.62 L1221.24 363.79 L1224.28 366.10 L1227.31 368.53 L1230.35 371.11 L1233.39 373.81 L1236.43 376.65 L1239.47 379.61 L1242.51 382.70 L1245.55 385.93 L1248.59 389.27 L1251.62 392.75 L1254.66 396.34 L1257.70 400.06 L1260.74 403.90 L1263.78 407.86 L1266.82 411.94 L1269.86 416.14 L1272.89 420.45 L1275.93 424.87 L1278.97 429.40 L1282.01 434.05 L1285.05 438.80 L1288.09 443.66 L1291.13 448.62 L1294.17 453.69 L1297.20 458.86 L1300.24 464.13 L1303.28 469.49 L1306.32 474.95 L1309.36 480.51 L1312.40 486.16 L1315.44 491.89 L1318.47 497.72 L1321.51 503.63 L1324.55 509.63 L1327.59 515.70 L1330.63 521.86 L1333.67 528.10 L1336.71 534.41 L1339.75 540.79 L1342.78 547.25 L1345.82 553.78 L1348.86 560.37 L1351.90 567.04 L1354.94 573.76 L1357.98 580.55 L1361.02 587.39 L1364.05 594.30 L1367.09 601.26 L1370.13 608.27 L1373.17 615.34 L1376.21 622.45 L1379.25 629.61 L1382.29 636.82 L1385.32 644.07 L1388.36 651.37 L1391.40 658.70 L1394.44 666.07 L1397.48 673.47 L1400.52 680.91 L1403.56 688.39 L1406.60 695.89 L1409.63 703.42 L1412.67 710.97 L1415.71 718.55 L1418.75 726.15 L1421.79 733.78 L1424.83 741.42 L1427.87 749.08 L1430.90 756.75 L1433.94 764.44 L1436.98 772.14 L1440.02 779.85 L1443.06 787.56 L1446.10 795.29 L1449.14 803.02 L1452.18 810.75 L1455.21 818.49 L1458.25 826.23 L1461.29 833.96 L1464.33 841.70 L1467.37 849.42 L1470.41 857.15 L1473.45 864.87 L1476.48 872.57 L1479.52 880.27 L1482.56 887.96 L1485.60 895.64 L1488.64 903.30 L1491.68 910.95 L1494.72 918.58 L1497.75 926.20 L1500.79 933.79 L1503.83 941.37 L1506.87 948.93 L1509.91 956.46 L1512.95 963.98 L1515.99 971.46 L1519.03 978.93 L1522.06 986.36 L1525.10 993.77 L1528.14 1001.16 L1531.18 1008.51 L1534.22 1015.84 L1537.26 1023.13 L1540.30 1030.39 L1543.33 1037.62 L1546.37 1044.82 L1549.41 1051.98 L1552.45 1059.11 L1555.49 1066.21 L1558.53 1073.27 L1561.57 1080.29 L1564.61 1087.27 L1567.64 1094.22 L1570.68 1101.13 L1573.72 1108.00 L1576.76 1114.83 L1579.80 1121.62 L1582.84 1128.37 L1585.88 1135.08 L1588.91 1141.74 L1591.95 1148.37 L1594.99 1154.95 L1598.03 1161.49 L1601.07 1167.98 L1604.11 1174.44 L1607.15 1180.84 L1610.19 1187.21 L1613.22 1193.53 L1616.26 1199.80 L1619.30 1206.03 L1622.34 1212.21 L1625.38 1218.35 L1628.42 1224.44" fill="none" stroke="#ff0000" stroke-width="12.0" stroke-linejoin="round" stroke-dasharray="30.600 38.890"/>
<path d="M1628.42 1224.44 L1631.46 1224.44 L1634.49 1224.44 L1637.53 1224.44 L1640.57 1224.44 L1643.61 1224.44 L1646.65 1224.44 L1649.69 1224.44 L1652.73 1224.44 L1655.76 1224.44 L1658.80 1224.44 L1661.84 1224.44 L1664.88 1224.44 L1667.92 1224.44 L1670.96 1224.44 L1674.00 1224.44 L1677.04 1224.44 L1680.07 1224.44 L1683.11 1224.44 L1686.15 1224.44 L1689.19 1224.44 L1692.23 1224.44 L1695.27 1224.44 L1698.31 1224.44 L1701.34 1224.44 L1704.38 1224.44 L1707.42 1224.44 L1710.46 1224.44 L1713.50 1224.44 L1716.54 1224.44 L1719.58 1224.44 L1722.62 1224.44 L1725.65 1224.44 L1728.69 1224.44 L1731.73 1224.44 L1734.77 1224.44 L1737.81 1224.44 L1740.85 1224.44 L1743.89 1224.44 L1746.92 1224.44 L1749.96 1224.44 L1753.00 1224.44 L1756.04 1224.44 L1759.08 1224.44 L1762.12 1224.44 L1765.16 1224.44 L1768.20 1224.44 L1771.23 1224.44 L1774.27 1224.44 L1777.31 1224.44 L1780.35 1224.44 L1783.39 1224.44 L1786.43 1224.44 L1789.47 1224.44 L1792.50 1224.44 L1795.54 1224.44 L1798.58 1224.44 L1801.62 1224.44 L1804.66 1224.44 L1807.70 1224.44 L1810.74 1224.44 L1813.77 1224.44 L1816.81 1224.44 L1819.85 1224.44 L1822.89 1224.44 L1825.93 1224.44 L1828.97 1224.44 L1832.01 1224.44 L1835.05 1224.44 L1838.08 1224.44 L1841.12 1224.44 L1844.16 1224.44 L1847.20 1224.44 L1850.24 1224.44 L1853.28 1224.44 L1856.32 1224.44 L1859.35 1224.44 L1862.39 1224.44 L1865.43 1224.44 L1868.47 1224.44 L1871.51 1224.44 L1874.55 1224.44 L1877.59 1224.44 L1880.63 1224.44 L1883.66 1224.44 L1886.70 1224.44 L1889.74 1224.44 L1892.78 1224.44 L1895.82 1224.44 L1898.86 1224.44 L1901.90 1224.44 L1904.93 1224.44 L1907.97 1224.44 L1911.01 1224.44 L1914.05 1224.44 L1917.09 1224.44 L1920.13 1224.44 L1923.17 1224.44 L1926.21 1224.44 L1929.24 1224.44 L1932.28 1224.44 L1935.32 1224.44 L1938.36 1224.44 L1941.40 1224.44 L1944.44 1224.44 L1947.48 1224.44 L1950.51 1224.44 L1953.55 1224.44 L1956.59 1224.44 L1959.63 1224.44 L1962.67 1224.44 L1965.71 1224.44 L1968.75 1224.44 L1971.78 1224.44 L1974.82 1224.44 L1977.86 1224.44 L1980.90 1224.44 L1983.94 1224.44 L1986.98 1224.44 L1990.02 1224.44 L1993.06 1224.44 L1996.09 1224.44 L1999.13 1224.44 L2002.17 1224.44 L2005.21 1224.44 L2008.25 1224.44 L2011.29 1224.44 L2014.33 1224.44 L2017.36 1224.44 L2020.40 1224.44 L2023.44 1224.44 L2026.48 1224.44 L2029.52 1224.44 L2032.56 1224.44 L2035.60 1224.44 L2038.64 1224.44 L2041.67 1224.44 L2044.71 1224.44 L2047.75 1224.44 L2050.79 1224.44 L2053.83 1224.44 L2056.87 1224.44 L2059.91 1224.44 L2062.94 1224.44 L2065.98 1224.44 L2069.02 1224.44 L2072.06 1224.44 L2075.10 1224.44 L2078.14 1224.44 L2081.18 1224.44 L2084.22 1224.44" fill="none" stroke="#ff0000" stroke-width="12.0" stroke-linejoin="round" stroke-dasharray="30.600 38.890" stroke-dashoffset="48.50"/>
<path d="M262.52 1224.44 L255.02 1224.44" stroke="#ff0000" stroke-width="12.0" fill="none"/>
<path d="M2082.72 1224.44 L2090.22 1224.44" stroke="#ff0000" stroke-width="12.0" fill="none"/>
<path d="M261.02 1290.75 L264.06 1290.75 L267.10 1290.75 L270.14 1290.75 L273.18 1290.75 L276.22 1290.75 L279.25 1290.75 L282.29 1290.75 L285.33 1290.75 L288.37 1290.75 L291.41 1290.75 L294.45 1290.75 L297.49 1290.75 L300.53 1290.75 L303.56 1290.75 L306.60 1290.75 L309.64 1290.75 L312.68 1290.75 L315.72 1290.75 L318.76 1290.75 L321.80 1290.75 L324.83 1290.75 L327.87 1290.75 L330.91 1290.75 L333.95 1290.75 L336.99 1290.75 L340.03 1290.75 L343.07 1290.75 L346.11 1290.75 L349.14 1290.75 L352.18 1290.75 L355.22 1290.75 L358.26 1290.75 L361.30 1290.75 L364.34 1290.75 L367.38 1290.75 L370.41 1290.75 L373.45 1290.75 L376.49 1290.75 L379.53 1290.75 L382.57 1290.75 L385.61 1290.75 L388.65 1290.75 L391.69 1290.75 L394.72 1290.75 L397.76 1290.75 L400.80 1290.75 L403.84 1290.75 L406.88 1290.75 L409.92 1290.75 L412.96 1290.75 L415.99 1290.75 L419.03 1290.75 L422.07 1290.75 L425.11 1290.75 L428.15 1290.75 L431.19 1290.75 L434.23 1290.75 L437.26 1290.75 L440.30 1290.75 L443.34 1290.75 L446.38 1290.75 L449.42 1290.75 L452.46 1290.75 L455.50 1290.75 L458.54 1290.75 L461.57 1290.75 L464.61 1290.75 L467.65 1290.75 L470.69 1290.75 L473.73 1290.75 L476.77 1290.75 L479.81 1290.75 L482.84 1290.75 L485.88 1290.75 L488.92 1290.75 L491.96 1290.75 L495.00 1290.75 L498.04 1290.75 L501.08 1290.75 L504.12 1290.75 L507.15 1290.75 L510.19 1290.75 L513.23 1290.75 L516.27 1290.75 L519.31 1290.75 L522.35 1290.75 L525.39 1290.75 L528.42 1290.75 L531.46 1290.75 L534.50 1290.75 L537.54 1290.75 L540.58 1290.75 L543.62 1290.75 L546.66 1290.75 L549.70 1290.75 L552.73 1290.75 L555.77 1290.75 L558.81 1290.75 L561.85 1290.75 L564.89 1290.75 L567.93 1290.75 L570.97 1290.75 L574.00 1290.75 L577.04 1290.75 L580.08 1290.75 L583.12 1290.75 L586.16 1290.75 L589.20 1290.75 L592.24 1290.75 L595.27 1290.75 L598.31 1290.75 L601.35 1290.75 L604.39 1290.75 L607.43 1290.75 L610.47 1290.75 L613.51 1290.75 L616.55 1290.75 L619.58 1290.75 L622.62 1290.75 L625.66 1290.75 L628.70 1290.75 L631.74 1290.75 L634.78 1290.75 L637.82 1290.75 L640.85 1290.75 L643.89 1290.75 L646.93 1290.75 L649.97 1290.75 L653.01 1290.75 L656.05 1290.75 L659.09 1290.75 L662.13 1290.75 L665.16 1290.75 L668.20 1290.75 L671.24 1290.75 L674.28 1290.75 L677.32 1290.75 L680.36 1290.75 L683.40 1290.75 L686.43 1290.75 L689.47 1290.75 L692.51 1290.75 L695.55 1290.75 L698.59 1290.75 L701.63 1290.75 L704.67 1290.75 L707.71 1290.75 L710.74 1290.75 L713.78 1290.75 L716.82 1290.75 L719.86 1284.92 L722.90 1279.05 L725.94 1273.13 L728.98 1267.16 L732.01 1261.16 L735.05 1255.10 L738.09 1249.01 L741.13 1242.87 L744.17 1236.68 L747.21 1230.46 L750.25 1224.19 L753.28 1217.88 L756.32 1211.52 L759.36 1205.13 L762.40 1198.69 L765.44 1192.22 L768.48 1185.70 L771.52 1179.15 L774.56 1172.55 L777.59 1165.92 L780.63 1159.25 L783.67 1152.54 L786.71 1145.79 L789.75 1139.01 L792.79 1132.19 L795.83 1125.34 L798.86 1118.45 L801.90 1111.53 L804.94 1104.58 L807.98 1097.60 L811.02 1090.58 L814.06 1083.53 L817.10 1076.45 L820.14 1069.35 L823.17 1062.22 L826.21 1055.05 L829.25 1047.87 L832.29 1040.66 L835.33 1033.42 L838.37 1026.16 L841.41 1018.88 L844.44 1011.58 L847.48 1004.25 L850.52 996.91 L853.56 989.55 L856.60 982.18 L859.64 974.78 L862.68 967.38 L865.72 959.96 L868.75 952.53 L871.79 945.09 L874.83 937.64 L877.87 930.18 L880.91 922.71 L883.95 915.25 L886.99 907.77 L890.02 900.30 L893.06 892.82 L896.10 885.35 L899.14 877.87 L902.18 870.40 L905.22 862.94 L908.26 855.48 L911.29 848.04 L914.33 840.60 L917.37 833.17 L920.41 825.76 L923.45 818.36 L926.49 810.98 L929.53 803.62 L932.57 796.28 L935.60 788.96 L938.64 781.67 L941.68 774.40 L944.72 767.16 L947.76 759.95 L950.80 752.78 L953.84 745.63 L956.87 738.52 L959.91 731.45 L962.95 724.42 L965.99 717.43 L969.03 710.48 L972.07 703.57 L975.11 696.72 L978.15 689.91 L981.18 683.16 L984.22 676.45 L987.26 669.81 L990.30 663.21 L993.34 656.68 L996.38 650.21 L999.42 643.81 L1002.45 637.46 L1005.49 631.19 L1008.53 624.98 L1011.57 618.85 L1014.61 612.79 L1017.65 606.80 L1020.69 600.89 L1023.73 595.06 L1026.76 589.32 L1029.80 583.65 L1032.84 578.07 L1035.88 572.58 L1038.92 567.17 L1041.96 561.86 L1045.00 556.64 L1048.03 551.51 L1051.07 546.48 L1054.11 541.55 L1057.15 536.71 L1060.19 531.98 L1063.23 527.36 L1066.27 522.83 L1069.30 518.42 L1072.34 514.11 L1075.38 509.91 L1078.42 505.83 L1081.46 501.86 L1084.50 498.00 L1087.54 494.26 L1090.58 490.63 L1093.61 487.13 L1096.65 483.74 L1099.69 480.48 L1102.73 477.34 L1105.77 474.33 L1108.81 471.44 L1111.85 468.67 L1114.88 466.04 L1117.92 463.53 L1120.96 461.15 L1124.00 458.91 L1127.04 456.79 L1130.08 454.81 L1133.12 452.96 L1136.16 451.24 L1139.19 449.66 L1142.23 448.22 L1145.27 446.91 L1148.31 445.73 L1151.35 444.70 L1154.39 443.80 L1157.43 443.04 L1160.46 442.41 L1163.50 441.93 L1166.54 441.58 L1169.58 441.37 L1172.62 441.30 L1175.66 441.37 L1178.70 441.58 L1181.74 441.93 L1184.77 442.41 L1187.81 443.04 L1190.85 443.80 L1193.89 444.70 L1196.93 445.73 L1199.97 446.91 L1203.01 448.22 L1206.04 449.66 L1209.08 451.24 L1212.12 452.96 L1215.16 454.81 L1218.20 456.79 L1221.24 458.91 L1224.28 461.15 L1227.31 463.53 L1230.35 466.04 L1233.39 468.67 L1236.43 471.44 L1239.47 474.33 L1242.51 477.34 L1245.55 480.48 L1248.59 483.74 L1251.62 487.13 L1254.66 490.63 L1257.70 494.26 L1260.74 498.00 L1263.78 501.86 L1266.82 505.83 L1269.86 509.91 L1272.89 514.11 L1275.93 518.42 L1278.97 522.83 L1282.01 527.36 L1285.05 531.98 L1288.09 536.71 L1291.13 541.55 L1294.17 546.48 L1297.20 551.51 L1300.24 556.64 L1303.28 561.86 L1306.32 567.17 L1309.36 572.58 L1312.40 578.07 L1315.44 583.65 L1318.47 589.32 L1321.51 595.06 L1324.55 600.89 L1327.59 606.80 L1330.63 612.79 L1333.67 618.85 L1336.71 624.98 L1339.75 631.19 L1342.78 637.46 L1345.82 643.81 L1348.86 650.21 L1351.90 656.68 L1354.94 663.21 L1357.98 669.81 L1361.02 676.45 L1364.05 683.16 L1367.09 689.91 L1370.13 696.72 L1373.17 703.57 L1376.21 710.48 L1379.25 717.43 L1382.29 724.42 L1385.32 731.45 L1388.36 738.52 L1391.40 745.63 L1394.44 752.78 L1397.48 759.95 L1400.52 767.16 L1403.56 774.40 L1406.60 781.67 L1409.63 788.96 L1412.67 796.28 L1415.71 803.62 L1418.75 810.98 L1421.79 818.36 L1424.83 825.76 L1427.87 833.17 L1430.90 840.60 L1433.94 848.04 L1436.98 855.48 L1440.02 862.94 L1443.06 870.40 L1446.10 877.87 L1449.14 885.35 L1452.18 892.82 L1455.21 900.30 L1458.25 907.77 L1461.29 915.25 L1464.33 922.71 L1467.37 930.18 L1470.41 937.64 L1473.45 945.09 L1476.48 952.53 L1479.52 959.96 L1482.56 967.38 L1485.60 974.78 L1488.64 982.18 L1491.68 989.55 L1494.72 996.91 L1497.75 1004.25 L1500.79 1011.58 L1503.83 1018.88 L1506.87 1026.16 L1509.91 1033.42 L1512.95 1040.66 L1515.99 1047.87 L1519.03 1055.05 L1522.06 1062.22 L1525.10 1069.35 L1528.14 1076.45 L1531.18 1083.53 L1534.22 1090.58 L1537.26 1097.60 L1540.30 1104.58 L1543.33 1111.53 L1546.37 1118.45 L1549.41 1125.34 L1552.45 1132.19 L1555.49 1139.01 L1558.53 1145.79 L1561.57 1152.54 L1564.61 1159.25 L1567.64 1165.92 L1570.68 1172.55 L1573.72 1179.15 L1576.76 1185.70 L1579.80 1192.22 L1582.84 1198.69 L1585.88 1205.13 L1588.91 1211.52 L1591.95 1217.88 L1594.99 1224.19 L1598.03 1230.46 L1601.07 1236.68 L1604.11 1242.87 L1607.15 1249.01 L1610.19 1255.10 L1613.22 1261.16 L1616.26 1267.16 L1619.30 1273.13 L1622.34 1279.05 L1625.38 1284.92 L1628.42 1290.75" fill="none" stroke="#0000ff" stroke-width="12.0" stroke-linejoin="round" stroke-dasharray="12.080 12.080"/>
<path d="M1628.42 1290.75 L1631.46 1290.75 L1634.49 1290.75 L1637.53 1290.75 L1640.57 1290.75 L1643.61 1290.75 L1646.65 1290.75 L1649.69 1290.75 L1652.73 1290.75 L1655.76 1290.75 L1658.80 1290.75 L1661.84 1290.75 L1664.88 1290.75 L1667.92 1290.75 L1670.96 1290.75 L1674.00 1290.75 L1677.04 1290.75 L1680.07 1290.75 L1683.11 1290.75 L1686.15 1290.75 L1689.19 1290.75 L1692.23 1290.75 L1695.27 1290.75 L1698.31 1290.75 L1701.34 1290.75 L1704.38 1290.75 L1707.42 1290.75 L1710.46 1290.75 L1713.50 1290.75 L1716.54 1290.75 L1719.58 1290.75 L1722.62 1290.75 L1725.65 1290.75 L1728.69 1290.75 L1731.73 1290.75 L1734.77 1290.75 L1737.81 1290.75 L1740.85 1290.75 L1743.89 1290.75 L1746.92 1290.75 L1749.96 1290.75 L1753.00 1290.75 L1756.04 1290.75 L1759.08 1290.75 L1762.12 1290.75 L1765.16 1290.75 L1768.20 1290.75 L1771.23 1290.75 L1774.27 1290.75 L1777.31 1290.75 L1780.35 1290.75 L1783.39 1290.75 L1786.43 1290.75 L1789.47 1290.75 L1792.50 1290.75 L1795.54 1290.75 L1798.58 1290.75 L1801.62 1290.75 L1804.66 1290.75 L1807.70 1290.75 L1810.74 1290.75 L1813.77 1290.75 L1816.81 1290.75 L1819.85 1290.75 L1822.89 1290.75 L1825.93 1290.75 L1828.97 1290.75 L1832.01 1290.75 L1835.05 1290.75 L1838.08 1290.75 L1841.12 1290.75 L1844.16 1290.75 L1847.20 1290.75 L1850.24 1290.75 L1853.28 1290.75 L1856.32 1290.75 L1859.35 1290.75 L1862.39 1290.75 L1865.43 1290.75 L1868.47 1290.75 L1871.51 1290.75 L1874.55 1290.75 L1877.59 1290.75 L1880.63 1290.75 L1883.66 1290.75 L1886.70 1290.75 L1889.74 1290.75 L1892.78 1290.75 L1895.82 1290.75 L1898.86 1290.75 L1901.90 1290.75 L1904.93 1290.75 L1907.97 1290.75 L1911.01 1290.75 L1914.05 1290.75 L1917.09 1290.75 L1920.13 1290.75 L1923.17 1290.75 L1926.21 1290.75 L1929.24 1290.75 L1932.28 1290.75 L1935.32 1290.75 L1938.36 1290.75 L1941.40 1290.75 L1944.44 1290.75 L1947.48 1290.75 L1950.51 1290.75 L1953.55 1290.75 L1956.59 1290.75 L1959.63 1290.75 L1962.67 1290.75 L1965.71 1290.75 L1968.75 1290.75 L1971.78 1290.75 L1974.82 1290.75 L1977.86 1290.75 L1980.90 1290.75 L1983.94 1290.75 L1986.98 1290.75 L1990.02 1290.75 L1993.06 1290.75 L1996.09 1290.75 L1999.13 1290.75 L2002.17 1290.75 L2005.21 1290.75 L2008.25 1290.75 L2011.29 1290.75 L2014.33 1290.75 L2017.36 1290.75 L2020.40 1290.75 L2023.44 1290.75 L2026.48 1290.75 L2029.52 1290.75 L2032.56 1290.75 L2035.60 1290.75 L2038.64 1290.75 L2041.67 1290.75 L2044.71 1290.75 L2047.75 1290.75 L2050.79 1290.75 L2053.83 1290.75 L2056.87 1290.75 L2059.91 1290.75 L2062.94 1290.75 L2065.98 1290.75 L2069.02 1290.75 L2072.06 1290.75 L2075.10 1290.75 L2078.14 1290.75 L2081.18 1290.75 L2084.22 1290.75" fill="none" stroke="#0000ff" stroke-width="12.0" stroke-linejoin="round" stroke-dasharray="12.080 12.080" stroke-dashoffset="10.90"/>
<path d="M262.52 1290.75 L255.02 1290.75" stroke="#0000ff" stroke-width="12.0" fill="none"/>
<path d="M2082.72 1290.75 L2090.22 1290.75" stroke="#0000ff" stroke-width="12.0" fill="none"/>
</g>
<rect x="250.00" y="153.00" width="8.00" height="1177.00" fill="#000"/>
<rect x="2402.00" y="153.00" width="8.00" height="1177.00" fill="#000"/>
<rect x="250.00" y="153.00" width="2160.00" height="7.00" fill="#000"/>
<rect x="250.00" y="1323.00" width="2160.00" height="7.00" fill="#000"/>
<rect x="292.50" y="160.00" width="7.00" height="7.00" fill="#000"/>
<rect x="292.50" y="1316.00" width="7.00" height="7.00" fill="#000"/>
<rect x="395.62" y="160.00" width="7.50" height="2.30" fill="#000"/>
<rect x="395.62" y="1320.70" width="7.50" height="2.30" fill="#000"/>
<rect x="499.00" y="160.00" width="7.50" height="2.30" fill="#000"/>
<rect x="499.00" y="1320.70" width="7.50" height="2.30" fill="#000"/>
<rect x="602.38" y="160.00" width="7.50" height="2.30" fill="#000"/>
<rect x="602.38" y="1320.70" width="7.50" height="2.30" fill="#000"/>
<rect x="705.75" y="160.00" width="7.50" height="2.30" fill="#000"/>
<rect x="705.75" y="1320.70" width="7.50" height="2.30" fill="#000"/>
<rect x="809.38" y="160.00" width="7.00" height="7.00" fill="#000"/>
<rect x="809.38" y="1316.00" width="7.00" height="7.00" fill="#000"/>
<rect x="912.50" y="160.00" width="7.50" height="2.30" fill="#000"/>
<rect x="912.50" y="1320.70" width="7.50" height="2.30" fill="#000"/>
<rect x="1015.88" y="160.00" width="7.50" height="2.30" fill="#000"/>
<rect x="1015.88" y="1320.70" width="7.50" height="2.30" fill="#000"/>
<rect x="1119.25" y="160.00" width="7.50" height="2.30" fill="#000"/>
<rect x="1119.25" y="1320.70" width="7.50" height="2.30" fill="#000"/>
<rect x="1222.62" y="160.00" width="7.50" height="2.30" fill="#000"/>
<rect x="1222.62" y="1320.70" width="7.50" height="2.30" fill="#000"/>
<rect x="1326.25" y="160.00" width="7.00" height="7.00" fill="#000"/>
<rect x="1326.25" y="1316.00" width="7.00" height="7.00" fill="#000"/>
<rect x="1429.38" y="160.00" width="7.50" height="2.30" fill="#000"/>
<rect x="1429.38" y="1320.70" width="7.50" height="2.30" fill="#000"/>
<rect x="1532.75" y="160.00" width="7.50" height="2.30" fill="#000"/>
<rect x="1532.75" y="1320.70" width="7.50" height="2.30" fill="#000"/>
<rect x="1636.12" y="160.00" width="7.50" height="2.30" fill="#000"/>
<rect x="1636.12" y="1320.70" width="7.50" height="2.30" fill="#000"/>
<rect x="1739.50" y="160.00" width="7.50" height="2.30" fill="#000"/>
<rect x="1739.50" y="1320.70" width="7.50" height="2.30" fill="#000"/>
<rect x="1843.12" y="160.00" width="7.00" height="7.00" fill="#000"/>
<rect x="1843.12" y="1316.00" width="7.00" height="7.00" fill="#000"/>
<rect x="1946.25" y="160.00" width="7.50" height="2.30" fill="#000"/>
<rect x="1946.25" y="1320.70" width="7.50" height="2.30" fill="#000"/>
<rect x="2049.62" y="160.00" width="7.50" height="2.30" fill="#000"/>
<rect x="2049.62" y="1320.70" width="7.50" height="2.30" fill="#000"/>
<rect x="2153.00" y="160.00" width="7.50" height="2.30" fill="#000"/>
<rect x="2153.00" y="1320.70" width="7.50" height="2.30" fill="#000"/>
<rect x="2256.38" y="160.00" width="7.50" height="2.30" fill="#000"/>
<rect x="2256.38" y="1320.70" width="7.50" height="2.30" fill="#000"/>
<rect x="2360.00" y="160.00" width="7.00" height="7.00" fill="#000"/>
<rect x="2360.00" y="1316.00" width="7.00" height="7.00" fill="#000"/>
<rect x="258.00" y="1315.84" width="2.50" height="6.00" fill="#000"/>
<rect x="2399.50" y="1315.84" width="2.50" height="6.00" fill="#000"/>
<rect x="258.00" y="1282.10" width="5.50" height="7.00" fill="#000"/>
<rect x="2396.50" y="1282.10" width="5.50" height="7.00" fill="#000"/>
<rect x="258.00" y="1249.36" width="2.50" height="6.00" fill="#000"/>
<rect x="2399.50" y="1249.36" width="2.50" height="6.00" fill="#000"/>
<rect x="258.00" y="1216.12" width="2.50" height="6.00" fill="#000"/>
<rect x="2399.50" y="1216.12" width="2.50" height="6.00" fill="#000"/>
<rect x="258.00" y="1182.88" width="2.50" height="6.00" fill="#000"/>
<rect x="2399.50" y="1182.88" width="2.50" height="6.00" fill="#000"/>
<rect x="258.00" y="1149.64" width="2.50" height="6.00" fill="#000"/>
<rect x="2399.50" y="1149.64" width="2.50" height="6.00" fill="#000"/>
<rect x="258.00" y="1115.90" width="5.50" height="7.00" fill="#000"/>
<rect x="2396.50" y="1115.90" width="5.50" height="7.00" fill="#000"/>
<rect x="258.00" y="1083.16" width="2.50" height="6.00" fill="#000"/>
<rect x="2399.50" y="1083.16" width="2.50" height="6.00" fill="#000"/>
<rect x="258.00" y="1049.92" width="2.50" height="6.00" fill="#000"/>
<rect x="2399.50" y="1049.92" width="2.50" height="6.00" fill="#000"/>
<rect x="258.00" y="1016.68" width="2.50" height="6.00" fill="#000"/>
<rect x="2399.50" y="1016.68" width="2.50" height="6.00" fill="#000"/>
<rect x="258.00" y="983.44" width="2.50" height="6.00" fill="#000"/>
<rect x="2399.50" y="983.44" width="2.50" height="6.00" fill="#000"/>
<rect x="258.00" y="949.70" width="5.50" height="7.00" fill="#000"/>
<rect x="2396.50" y="949.70" width="5.50" height="7.00" fill="#000"/>
<rect x="258.00" y="916.96" width="2.50" height="6.00" fill="#000"/>
<rect x="2399.50" y="916.96" width="2.50" height="6.00" fill="#000"/>
<rect x="258.00" y="883.72" width="2.50" height="6.00" fill="#000"/>
<rect x="2399.50" y="883.72" width="2.50" height="6.00" fill="#000"/>
<rect x="258.00" y="850.48" width="2.50" height="6.00" fill="#000"/>
<rect x="2399.50" y="850.48" width="2.50" height="6.00" fill="#000"/>
<rect x="258.00" y="817.24" width="2.50" height="6.00" fill="#000"/>
<rect x="2399.50" y="817.24" width="2.50" height="6.00" fill="#000"/>
<rect x="258.00" y="783.50" width="5.50" height="7.00" fill="#000"/>
<rect x="2396.50" y="783.50" width="5.50" height="7.00" fill="#000"/>
<rect x="258.00" y="750.76" width="2.50" height="6.00" fill="#000"/>
<rect x="2399.50" y="750.76" width="2.50" height="6.00" fill="#000"/>
<rect x="258.00" y="717.52" width="2.50" height="6.00" fill="#000"/>
<rect x="2399.50" y="717.52" width="2.50" height="6.00" fill="#000"/>
<rect x="258.00" y="684.28" width="2.50" height="6.00" fill="#000"/>
<rect x="2399.50" y="684.28" width="2.50" height="6.00" fill="#000"/>
<rect x="258.00" y="651.04" width="2.50" height="6.00" fill="#000"/>
<rect x="2399.50" y="651.04" width="2.50" height="6.00" fill="#000"/>
<rect x="258.00" y="617.30" width="5.50" height="7.00" fill="#000"/>
<rect x="2396.50" y="617.30" width="5.50" height="7.00" fill="#000"/>
<rect x="258.00" y="584.56" width="2.50" height="6.00" fill="#000"/>
<rect x="2399.50" y="584.56" width="2.50" height="6.00" fill="#000"/>
<rect x="258.00" y="551.32" width="2.50" height="6.00" fill="#000"/>
<rect x="2399.50" y="551.32" width="2.50" height="6.00" fill="#000"/>
<rect x="258.00" y="518.08" width="2.50" height="6.00" fill="#000"/>
<rect x="2399.50" y="518.08" width="2.50" height="6.00" fill="#000"/>
<rect x="258.00" y="484.84" width="2.50" height="6.00" fill="#000"/>
<rect x="2399.50" y="484.84" width="2.50" height="6.00" fill="#000"/>
<rect x="258.00" y="451.10" width="5.50" height="7.00" fill="#000"/>
<rect x="2396.50" y="451.10" width="5.50" height="7.00" fill="#000"/>
<rect x="258.00" y="418.36" width="2.50" height="6.00" fill="#000"/>
<rect x="2399.50" y="418.36" width="2.50" height="6.00" fill="#000"/>
<rect x="258.00" y="385.12" width="2.50" height="6.00" fill="#000"/>
<rect x="2399.50" y="385.12" width="2.50" height="6.00" fill="#000"/>
<rect x="258.00" y="351.88" width="2.50" height="6.00" fill="#000"/>
<rect x="2399.50" y="351.88" width="2.50" height="6.00" fill="#000"/>
<rect x="258.00" y="318.64" width="2.50" height="6.00" fill="#000"/>
<rect x="2399.50" y="318.64" width="2.50" height="6.00" fill="#000"/>
<rect x="258.00" y="284.90" width="5.50" height="7.00" fill="#000"/>
<rect x="2396.50" y="284.90" width="5.50" height="7.00" fill="#000"/>
<rect x="258.00" y="252.16" width="2.50" height="6.00" fill="#000"/>
<rect x="2399.50" y="252.16" width="2.50" height="6.00" fill="#000"/>
<rect x="258.00" y="218.92" width="2.50" height="6.00" fill="#000"/>
<rect x="2399.50" y="218.92" width="2.50" height="6.00" fill="#000"/>
<rect x="258.00" y="185.68" width="2.50" height="6.00" fill="#000"/>
<rect x="2399.50" y="185.68" width="2.50" height="6.00" fill="#000"/>
<text transform="translate(245.20 1394.30) scale(1.1600 1)" style="font-family:'Liberation Serif',serif;font-size:68px" fill="#000" stroke="#000" stroke-width="0.2">0.0</text>
<text transform="translate(762.08 1394.30) scale(1.1600 1)" style="font-family:'Liberation Serif',serif;font-size:68px" fill="#000" stroke="#000" stroke-width="0.2">0.5</text>
<text transform="translate(1278.95 1394.30) scale(1.1600 1)" style="font-family:'Liberation Serif',serif;font-size:68px" fill="#000" stroke="#000" stroke-width="0.2">1.0</text>
<text transform="translate(1795.83 1394.30) scale(1.1600 1)" style="font-family:'Liberation Serif',serif;font-size:68px" fill="#000" stroke="#000" stroke-width="0.2">1.5</text>
<text transform="translate(2312.70 1394.30) scale(1.1600 1)" style="font-family:'Liberation Serif',serif;font-size:68px" fill="#000" stroke="#000" stroke-width="0.2">2.0</text>
<text transform="translate(160.88 1304.60) scale(1.1600 1)" style="font-family:'Liberation Serif',serif;font-size:68px" fill="#000" stroke="#000" stroke-width="0.2">60</text>
<text transform="translate(160.88 1138.40) scale(1.1600 1)" style="font-family:'Liberation Serif',serif;font-size:68px" fill="#000" stroke="#000" stroke-width="0.2">70</text>
<text transform="translate(160.88 972.20) scale(1.1600 1)" style="font-family:'Liberation Serif',serif;font-size:68px" fill="#000" stroke="#000" stroke-width="0.2">80</text>
<text transform="translate(160.88 806.00) scale(1.1600 1)" style="font-family:'Liberation Serif',serif;font-size:68px" fill="#000" stroke="#000" stroke-width="0.2">90</text>
<text transform="translate(121.44 639.80) scale(1.1600 1)" style="font-family:'Liberation Serif',serif;font-size:68px" fill="#000" stroke="#000" stroke-width="0.2">100</text>
<text transform="translate(124.40 473.60) scale(1.1600 1)" style="font-family:'Liberation Serif',serif;font-size:68px" fill="#000" stroke="#000" stroke-width="0.2">110</text>
<text transform="translate(121.44 307.40) scale(1.1600 1)" style="font-family:'Liberation Serif',serif;font-size:68px" fill="#000" stroke="#000" stroke-width="0.2">120</text>
<rect x="1107.70" y="29.20" width="441.60" height="114.60" fill="#fff" stroke="#000" stroke-width="7.4"/>
<text transform="translate(1123.55 110.60) scale(1.1808 1)" style="font-family:'Liberation Serif',serif;font-size:73px" fill="#000" stroke="#000" stroke-width="0.6">Geometry.1</text>
<g filter="url(#thinU)">
<text transform="translate(86.92 882.51) rotate(-90) scale(0.9246 1.0791)" style="font-family:'Liberation Mono',monospace;font-style:italic;font-size:100px">u</text>
</g><g filter="url(#thinF)">
<text transform="translate(102.02 826.69) rotate(-90) scale(1.0123 1.0083)" style="font-family:'Liberation Mono',monospace;font-style:italic;font-size:78px">fluid</text>
</g>
<text transform="translate(1275.92 1497.35) scale(1.1320 0.8835) skewX(-30)" style="font-family:'DejaVu Sans',sans-serif;font-weight:200;font-size:100px" stroke="#000" stroke-width="0.9">ξ</text>
<text x="1316.30" y="1601.70" text-anchor="middle" style="font-family:'Liberation Serif',serif;font-size:73px">(<tspan font-weight="bold">a</tspan>)</text>
<rect x="1745.70" y="223.60" width="585.60" height="494.20" rx="11" ry="11" fill="#fff" stroke="#555" stroke-width="2.6"/>
<path d="M1769.60 284.90 L2091.00 284.90" stroke="#00fa6e" stroke-width="4" fill="none"/>
<text transform="translate(2132.90 293.75) scale(1.2274 1)" style="font-family:'Liberation Serif',serif;font-size:76px" fill="#000" stroke="#000" stroke-width="0.6">M=2</text>
<path d="M1769.60 414.00 L2091.00 414.00" stroke="#666" stroke-width="4" fill="none" stroke-dasharray="4.0 13.15"/>
<text transform="translate(2132.96 423.55) scale(1.2016 1)" style="font-family:'Liberation Serif',serif;font-size:76px" fill="#000" stroke="#000" stroke-width="0.6">M=4</text>
<path d="M1769.60 543.60 L2091.00 543.60" stroke="#ff6464" stroke-width="4" fill="none" stroke-dasharray="35.5 43.1"/>
<text transform="translate(2132.94 553.35) scale(1.2112 1)" style="font-family:'Liberation Serif',serif;font-size:76px" fill="#000" stroke="#000" stroke-width="0.6">M=6</text>
<path d="M1769.60 673.80 L2091.00 673.80" stroke="#6e6eff" stroke-width="4" fill="none" stroke-dasharray="14.8 12.47"/>
<text transform="translate(2132.93 683.15) scale(1.2160 1)" style="font-family:'Liberation Serif',serif;font-size:76px" fill="#000" stroke="#000" stroke-width="0.6">M=8</text>
<g transform="scale(1.134 1)">
<path d="M258.29 2838.82 L261.33 2838.82 L264.38 2838.82 L267.43 2838.82 L270.47 2838.82 L273.52 2838.82 L276.56 2838.82 L279.61 2838.82 L282.65 2838.82 L285.70 2838.82 L288.75 2838.82 L291.79 2838.82 L294.84 2838.82 L297.88 2838.82 L300.93 2838.82 L303.97 2838.82 L307.02 2838.82 L310.07 2838.82 L313.11 2838.82 L316.16 2838.82 L319.20 2838.82 L322.25 2838.82 L325.29 2838.82 L328.34 2838.82 L331.39 2838.82 L334.43 2838.82 L337.48 2838.82 L340.52 2838.82 L343.57 2838.82 L346.61 2838.82 L349.66 2838.82 L352.71 2838.82 L355.75 2838.82 L358.80 2838.82 L361.84 2838.82 L364.89 2838.82 L367.93 2838.82 L370.98 2838.82 L374.03 2838.82 L377.07 2838.82 L380.12 2838.82 L383.16 2838.82 L386.21 2838.82 L389.25 2838.82 L392.30 2838.82 L395.35 2838.82 L398.39 2838.82 L401.44 2838.82 L404.48 2838.82 L407.53 2838.82 L410.57 2838.82 L413.62 2838.82 L416.67 2838.82 L419.71 2838.82 L422.76 2838.82 L425.80 2838.82 L428.85 2838.82 L431.89 2838.82 L434.94 2838.82 L437.99 2838.82 L441.03 2838.82 L444.08 2838.82 L447.12 2838.82 L450.17 2838.82 L453.21 2838.82 L456.26 2838.82 L459.31 2838.82 L462.35 2838.82 L465.40 2838.82 L468.44 2838.82 L471.49 2838.82 L474.53 2838.82 L477.58 2838.82 L480.63 2838.82 L483.67 2838.82 L486.72 2838.82 L489.76 2838.82 L492.81 2838.82 L495.85 2838.82 L498.90 2838.82 L501.95 2838.82 L504.99 2838.82 L508.04 2838.82 L511.08 2838.82 L514.13 2838.82 L517.17 2838.82 L520.22 2838.82 L523.27 2838.82 L526.31 2838.82 L529.36 2838.82 L532.40 2838.82 L535.45 2838.82 L538.49 2838.82 L541.54 2838.82 L544.59 2838.82 L547.63 2838.82 L550.68 2838.82 L553.72 2838.82 L556.77 2838.82 L559.81 2838.82 L562.86 2838.82 L565.91 2838.82 L568.95 2838.82 L572.00 2838.82 L575.04 2838.82 L578.09 2838.82 L581.13 2838.82 L584.18 2838.82 L587.23 2838.82 L590.27 2838.82 L593.32 2838.82 L596.36 2838.82 L599.41 2838.82 L602.45 2838.82 L605.50 2838.82 L608.55 2838.82 L611.59 2838.82 L614.64 2838.82 L617.68 2838.82 L620.73 2838.82 L623.77 2838.82 L626.82 2838.82 L629.87 2838.82 L632.91 2838.82 L635.96 2838.82 L639.00 2838.82 L642.05 2838.82 L645.09 2838.82 L648.14 2838.82 L651.19 2838.82 L654.23 2838.82 L657.28 2838.82 L660.32 2838.82 L663.37 2838.82 L666.41 2838.82 L669.46 2838.82 L672.51 2838.82 L675.55 2838.82 L678.60 2838.82 L681.64 2838.82 L684.69 2838.82 L687.73 2838.82 L690.78 2838.82 L693.83 2838.82 L696.87 2838.82 L699.92 2838.82 L702.96 2838.82 L706.01 2838.82 L709.05 2838.82 L712.10 2838.82 L715.15 2838.82 L718.19 2838.43 L721.24 2838.04 L724.28 2837.64 L727.33 2837.25 L730.37 2836.85 L733.42 2836.45 L736.47 2836.05 L739.51 2835.64 L742.56 2835.24 L745.60 2834.83 L748.65 2834.43 L751.69 2834.02 L754.74 2833.61 L757.79 2833.19 L760.83 2832.78 L763.88 2832.36 L766.92 2831.95 L769.97 2831.53 L773.01 2831.11 L776.06 2830.69 L779.11 2830.26 L782.15 2829.84 L785.20 2829.41 L788.24 2828.98 L791.29 2828.55 L794.33 2828.12 L797.38 2827.69 L800.43 2827.25 L803.47 2826.81 L806.52 2826.37 L809.56 2825.93 L812.61 2825.49 L815.65 2825.05 L818.70 2824.60 L821.75 2824.15 L824.79 2823.70 L827.84 2823.25 L830.88 2822.80 L833.93 2822.34 L836.97 2821.88 L840.02 2821.42 L843.07 2820.96 L846.11 2820.50 L849.16 2820.04 L852.20 2819.57 L855.25 2819.10 L858.29 2818.63 L861.34 2818.16 L864.39 2817.68 L867.43 2817.21 L870.48 2816.73 L873.52 2816.25 L876.57 2815.77 L879.61 2815.28 L882.66 2814.79 L885.71 2814.31 L888.75 2813.82 L891.80 2813.32 L894.84 2812.83 L897.89 2812.33 L900.93 2811.83 L903.98 2811.33 L907.03 2810.83 L910.07 2810.32 L913.12 2809.82 L916.16 2809.31 L919.21 2808.79 L922.25 2808.28 L925.30 2807.76 L928.35 2807.24 L931.39 2806.72 L934.44 2806.20 L937.48 2805.67 L940.53 2805.15 L943.57 2804.62 L946.62 2804.08 L949.67 2803.55 L952.71 2803.01 L955.76 2802.47 L958.80 2801.93 L961.85 2801.39 L964.89 2800.84 L967.94 2800.29 L970.99 2799.74 L974.03 2799.19 L977.08 2798.63 L980.12 2798.07 L983.17 2797.51 L986.21 2796.94 L989.26 2796.38 L992.30 2795.81 L995.35 2795.24 L998.40 2794.66 L1001.44 2794.09 L1004.49 2793.51 L1007.53 2792.92 L1010.58 2792.34 L1013.62 2791.75 L1016.67 2791.16 L1019.72 2790.57 L1022.76 2789.97 L1025.81 2789.37 L1028.85 2788.77 L1031.90 2788.17 L1034.94 2787.56 L1037.99 2786.95 L1041.04 2786.34 L1044.08 2785.72 L1047.13 2785.10 L1050.17 2784.48 L1053.22 2783.86 L1056.26 2783.23 L1059.31 2782.60 L1062.36 2781.97 L1065.40 2781.33 L1068.45 2780.69 L1071.49 2780.05 L1074.54 2779.40 L1077.58 2778.75 L1080.63 2778.10 L1083.68 2777.45 L1086.72 2776.79 L1089.77 2776.13 L1092.81 2775.46 L1095.86 2774.79 L1098.90 2774.12 L1101.95 2773.45 L1105.00 2772.77 L1108.04 2772.09 L1111.09 2771.40 L1114.13 2770.72 L1117.18 2770.02 L1120.22 2769.33 L1123.27 2768.63 L1126.32 2767.93 L1129.36 2767.22 L1132.41 2766.52 L1135.45 2765.80 L1138.50 2765.09 L1141.54 2764.37 L1144.59 2763.64 L1147.64 2762.92 L1150.68 2762.19 L1153.73 2761.45 L1156.77 2760.71 L1159.82 2759.97 L1162.86 2759.23 L1165.91 2758.48 L1168.96 2757.72 L1172.00 2756.96 L1175.05 2756.20 L1178.09 2755.44 L1181.14 2754.67 L1184.18 2753.89 L1187.23 2753.12 L1190.28 2752.34 L1193.32 2751.55 L1196.37 2750.76 L1199.41 2749.97 L1202.46 2749.17 L1205.50 2748.36 L1208.55 2747.56 L1211.60 2746.75 L1214.64 2745.93 L1217.69 2745.11 L1220.73 2744.29 L1223.78 2743.46 L1226.82 2742.62 L1229.87 2741.78 L1232.92 2740.94 L1235.96 2740.09 L1239.01 2739.24 L1242.05 2738.39 L1245.10 2737.52 L1248.14 2736.66 L1251.19 2735.79 L1254.24 2734.91 L1257.28 2734.03 L1260.33 2733.15 L1263.37 2732.26 L1266.42 2731.36 L1269.46 2730.46 L1272.51 2729.55 L1275.56 2728.64 L1278.60 2727.73 L1281.65 2726.80 L1284.69 2725.88 L1287.74 2724.95 L1290.78 2724.01 L1293.83 2723.07 L1296.88 2722.12 L1299.92 2721.16 L1302.97 2720.21 L1306.01 2719.24 L1309.06 2718.27 L1312.10 2717.29 L1315.15 2716.31 L1318.20 2715.33 L1321.24 2714.33 L1324.29 2713.33 L1327.33 2712.33 L1330.38 2711.32 L1333.42 2710.30 L1336.47 2709.27 L1339.52 2708.25 L1342.56 2707.21 L1345.61 2706.17 L1348.65 2705.12 L1351.70 2704.06 L1354.74 2703.00 L1357.79 2701.94 L1360.84 2700.86 L1363.88 2699.78 L1366.93 2698.69 L1369.97 2697.60 L1373.02 2696.50 L1376.06 2695.39 L1379.11 2694.27 L1382.16 2693.15 L1385.20 2692.02 L1388.25 2690.89 L1391.29 2689.74 L1394.34 2688.59 L1397.38 2687.44 L1400.43 2686.27 L1403.48 2685.10 L1406.52 2683.92 L1409.57 2682.73 L1412.61 2681.54 L1415.66 2680.33 L1418.70 2679.12 L1421.75 2677.90 L1424.80 2676.68 L1427.84 2675.44 L1430.89 2674.20 L1433.93 2672.95 L1436.98 2671.69 L1440.02 2670.42 L1443.07 2669.14 L1446.12 2667.86 L1449.16 2666.56 L1452.21 2665.26 L1455.25 2663.95 L1458.30 2662.63 L1461.34 2661.30 L1464.39 2659.96 L1467.44 2658.62 L1470.48 2657.26 L1473.53 2655.90 L1476.57 2654.52 L1479.62 2653.14 L1482.66 2651.74 L1485.71 2650.34 L1488.76 2648.92 L1491.80 2647.50 L1494.85 2646.07 L1497.89 2644.62 L1500.94 2643.17 L1503.98 2641.70 L1507.03 2640.23 L1510.08 2638.74 L1513.12 2637.25 L1516.17 2635.74 L1519.21 2634.22 L1522.26 2632.69 L1525.30 2631.15 L1528.35 2629.60 L1531.40 2628.04 L1534.44 2626.47 L1537.49 2624.88 L1540.53 2623.28 L1543.58 2621.67 L1546.62 2620.05 L1549.67 2618.42 L1552.72 2616.77 L1555.76 2615.11 L1558.81 2613.44 L1561.85 2611.76 L1564.90 2610.06 L1567.94 2608.35 L1570.99 2606.63 L1574.04 2604.89 L1577.08 2603.14 L1580.13 2601.38 L1583.17 2599.60 L1586.22 2597.81 L1589.26 2596.01 L1592.31 2594.19 L1595.36 2592.36 L1598.40 2590.51 L1601.45 2588.65 L1604.49 2586.77 L1607.54 2584.87 L1610.58 2582.97 L1613.63 2581.04 L1616.68 2579.10 L1619.72 2577.15 L1622.77 2575.18 L1625.81 2573.19 L1628.86 2571.19 L1631.90 2569.17 L1634.95 2567.13 L1638.00 2565.07 L1641.04 2563.00 L1644.09 2560.91 L1647.13 2558.81 L1650.18 2556.68 L1653.22 2554.54 L1656.27 2552.38 L1659.32 2550.20 L1662.36 2548.00 L1665.41 2545.78 L1668.45 2543.55 L1671.50 2541.29 L1674.54 2539.01 L1677.59 2536.72 L1680.64 2534.40 L1683.68 2532.06 L1686.73 2529.71 L1689.77 2527.33 L1692.82 2524.93 L1695.86 2522.50 L1698.91 2520.06 L1701.96 2517.59 L1705.00 2515.10 L1708.05 2512.59 L1711.09 2510.05 L1714.14 2507.50 L1717.18 2504.91 L1720.23 2502.31 L1723.27 2499.67 L1726.32 2497.02 L1729.37 2494.33 L1732.41 2491.63 L1735.46 2488.89 L1738.50 2486.13 L1741.55 2483.35 L1744.59 2480.53 L1747.64 2477.69 L1750.69 2474.82 L1753.73 2471.93 L1756.78 2469.00 L1759.82 2466.05 L1762.87 2463.06 L1765.91 2460.05 L1768.96 2457.00 L1772.01 2453.93 L1775.05 2450.82 L1778.10 2447.68 L1781.14 2444.51 L1784.19 2441.31 L1787.23 2438.07 L1790.28 2434.80 L1793.33 2431.49 L1796.37 2428.15 L1799.42 2424.78 L1802.46 2421.36 L1805.51 2417.92 L1808.55 2414.43 L1811.60 2410.91 L1814.65 2407.35 L1817.69 2403.74 L1820.74 2400.10 L1823.78 2396.42 L1826.83 2392.70 L1829.87 2388.94 L1832.92 2385.14 L1835.97 2381.29 L1839.01 2377.40 L1842.06 2373.46 L1845.10 2369.48 L1848.15 2365.45 L1851.19 2361.38 L1854.24 2357.26 L1857.29 2353.09 L1860.33 2348.87 L1863.38 2344.60 L1866.42 2340.28 L1869.47 2335.91 L1872.51 2331.49 L1875.56 2327.01 L1878.61 2322.48 L1881.65 2317.89 L1884.70 2313.24 L1887.74 2308.54 L1890.79 2303.78 L1893.83 2298.96 L1896.88 2294.08 L1899.93 2289.13 L1902.97 2284.13 L1906.02 2279.05 L1909.06 2273.92 L1912.11 2268.71 L1915.15 2263.44 L1918.20 2258.10 L1921.25 2252.68 L1924.29 2247.20 L1927.34 2241.64 L1930.38 2236.00 L1933.43 2230.29 L1936.47 2224.50 L1939.52 2218.63 L1942.57 2212.68 L1945.61 2206.64 L1948.66 2200.53 L1951.70 2194.32 L1954.75 2188.02 L1957.79 2181.64 L1960.84 2175.16 L1963.89 2168.59 L1966.93 2161.92 L1969.98 2155.15 L1973.02 2148.28 L1976.07 2141.31 L1979.11 2134.23 L1982.16 2127.05 L1985.21 2119.75 L1988.25 2112.35 L1991.30 2104.82 L1994.34 2097.18 L1997.39 2089.42 L2000.43 2081.54 L2003.48 2073.53 L2006.53 2065.39 L2009.57 2057.12 L2012.62 2048.71 L2015.66 2040.16 L2018.71 2031.47 L2021.75 2022.64 L2024.80 2013.65 L2027.85 2004.52 L2030.89 1995.22 L2033.94 1985.77 L2036.98 1976.14 L2040.03 1966.35 L2043.07 1956.39 L2046.12 1946.24 L2049.17 1935.92 L2052.21 1925.40 L2055.26 1914.69 L2058.30 1903.78 L2061.35 1892.67 L2064.39 1881.34 L2067.44 1869.80 L2070.49 1858.04 L2073.53 1846.05 L2076.58 1833.83 L2079.62 1821.36 L2082.67 1808.64 L2085.71 1795.67" fill="none" stroke="#00ff00" stroke-width="12.0" stroke-linejoin="round"/>
<path d="M259.79 2838.82 L252.29 2838.82" stroke="#00ff00" stroke-width="12.0" fill="none"/>
<path d="M2085.37 1797.13 L2087.09 1789.83" stroke="#00ff00" stroke-width="12.0" fill="none"/>
<path d="M258.29 2864.92 L261.33 2864.92 L264.38 2864.92 L267.43 2864.92 L270.47 2864.92 L273.52 2864.92 L276.56 2864.92 L279.61 2864.92 L282.65 2864.92 L285.70 2864.92 L288.75 2864.92 L291.79 2864.92 L294.84 2864.92 L297.88 2864.92 L300.93 2864.92 L303.97 2864.92 L307.02 2864.92 L310.07 2864.92 L313.11 2864.92 L316.16 2864.92 L319.20 2864.92 L322.25 2864.92 L325.29 2864.92 L328.34 2864.92 L331.39 2864.92 L334.43 2864.92 L337.48 2864.92 L340.52 2864.92 L343.57 2864.92 L346.61 2864.92 L349.66 2864.92 L352.71 2864.92 L355.75 2864.92 L358.80 2864.92 L361.84 2864.92 L364.89 2864.92 L367.93 2864.92 L370.98 2864.92 L374.03 2864.92 L377.07 2864.92 L380.12 2864.92 L383.16 2864.92 L386.21 2864.92 L389.25 2864.92 L392.30 2864.92 L395.35 2864.92 L398.39 2864.92 L401.44 2864.92 L404.48 2864.92 L407.53 2864.92 L410.57 2864.92 L413.62 2864.92 L416.67 2864.92 L419.71 2864.92 L422.76 2864.92 L425.80 2864.92 L428.85 2864.92 L431.89 2864.92 L434.94 2864.92 L437.99 2864.92 L441.03 2864.92 L444.08 2864.92 L447.12 2864.92 L450.17 2864.92 L453.21 2864.92 L456.26 2864.92 L459.31 2864.92 L462.35 2864.92 L465.40 2864.92 L468.44 2864.92 L471.49 2864.92 L474.53 2864.92 L477.58 2864.92 L480.63 2864.92 L483.67 2864.92 L486.72 2864.92 L489.76 2864.92 L492.81 2864.92 L495.85 2864.92 L498.90 2864.92 L501.95 2864.92 L504.99 2864.92 L508.04 2864.92 L511.08 2864.92 L514.13 2864.92 L517.17 2864.92 L520.22 2864.92 L523.27 2864.92 L526.31 2864.92 L529.36 2864.92 L532.40 2864.92 L535.45 2864.92 L538.49 2864.92 L541.54 2864.92 L544.59 2864.92 L547.63 2864.92 L550.68 2864.92 L553.72 2864.92 L556.77 2864.92 L559.81 2864.92 L562.86 2864.92 L565.91 2864.92 L568.95 2864.92 L572.00 2864.92 L575.04 2864.92 L578.09 2864.92 L581.13 2864.92 L584.18 2864.92 L587.23 2864.92 L590.27 2864.92 L593.32 2864.92 L596.36 2864.92 L599.41 2864.92 L602.45 2864.92 L605.50 2864.92 L608.55 2864.92 L611.59 2864.92 L614.64 2864.92 L617.68 2864.92 L620.73 2864.92 L623.77 2864.92 L626.82 2864.92 L629.87 2864.92 L632.91 2864.92 L635.96 2864.92 L639.00 2864.92 L642.05 2864.92 L645.09 2864.92 L648.14 2864.92 L651.19 2864.92 L654.23 2864.92 L657.28 2864.92 L660.32 2864.92 L663.37 2864.92 L666.41 2864.92 L669.46 2864.92 L672.51 2864.92 L675.55 2864.92 L678.60 2864.92 L681.64 2864.92 L684.69 2864.92 L687.73 2864.92 L690.78 2864.92 L693.83 2864.92 L696.87 2864.92 L699.92 2864.92 L702.96 2864.92 L706.01 2864.92 L709.05 2864.92 L712.10 2864.92 L715.15 2864.92 L718.19 2864.53 L721.24 2864.15 L724.28 2863.77 L727.33 2863.38 L730.37 2862.99 L733.42 2862.60 L736.47 2862.21 L739.51 2861.82 L742.56 2861.43 L745.60 2861.03 L748.65 2860.63 L751.69 2860.24 L754.74 2859.84 L757.79 2859.43 L760.83 2859.03 L763.88 2858.63 L766.92 2858.22 L769.97 2857.81 L773.01 2857.40 L776.06 2856.99 L779.11 2856.57 L782.15 2856.16 L785.20 2855.74 L788.24 2855.32 L791.29 2854.90 L794.33 2854.48 L797.38 2854.06 L800.43 2853.63 L803.47 2853.20 L806.52 2852.77 L809.56 2852.34 L812.61 2851.91 L815.65 2851.47 L818.70 2851.04 L821.75 2850.60 L824.79 2850.16 L827.84 2849.72 L830.88 2849.27 L833.93 2848.83 L836.97 2848.38 L840.02 2847.93 L843.07 2847.48 L846.11 2847.02 L849.16 2846.57 L852.20 2846.11 L855.25 2845.65 L858.29 2845.19 L861.34 2844.73 L864.39 2844.26 L867.43 2843.79 L870.48 2843.32 L873.52 2842.85 L876.57 2842.38 L879.61 2841.90 L882.66 2841.42 L885.71 2840.94 L888.75 2840.46 L891.80 2839.98 L894.84 2839.49 L897.89 2839.00 L900.93 2838.51 L903.98 2838.02 L907.03 2837.52 L910.07 2837.03 L913.12 2836.53 L916.16 2836.02 L919.21 2835.52 L922.25 2835.01 L925.30 2834.50 L928.35 2833.99 L931.39 2833.48 L934.44 2832.96 L937.48 2832.45 L940.53 2831.93 L943.57 2831.40 L946.62 2830.88 L949.67 2830.35 L952.71 2829.82 L955.76 2829.29 L958.80 2828.75 L961.85 2828.22 L964.89 2827.68 L967.94 2827.13 L970.99 2826.59 L974.03 2826.04 L977.08 2825.49 L980.12 2824.94 L983.17 2824.38 L986.21 2823.83 L989.26 2823.27 L992.30 2822.70 L995.35 2822.14 L998.40 2821.57 L1001.44 2821.00 L1004.49 2820.42 L1007.53 2819.85 L1010.58 2819.27 L1013.62 2818.69 L1016.67 2818.10 L1019.72 2817.51 L1022.76 2816.92 L1025.81 2816.33 L1028.85 2815.73 L1031.90 2815.13 L1034.94 2814.53 L1037.99 2813.93 L1041.04 2813.32 L1044.08 2812.71 L1047.13 2812.10 L1050.17 2811.48 L1053.22 2810.86 L1056.26 2810.24 L1059.31 2809.61 L1062.36 2808.98 L1065.40 2808.35 L1068.45 2807.71 L1071.49 2807.07 L1074.54 2806.43 L1077.58 2805.79 L1080.63 2805.14 L1083.68 2804.49 L1086.72 2803.83 L1089.77 2803.17 L1092.81 2802.51 L1095.86 2801.85 L1098.90 2801.18 L1101.95 2800.51 L1105.00 2799.83 L1108.04 2799.15 L1111.09 2798.47 L1114.13 2797.79 L1117.18 2797.10 L1120.22 2796.40 L1123.27 2795.71 L1126.32 2795.01 L1129.36 2794.30 L1132.41 2793.60 L1135.45 2792.89 L1138.50 2792.17 L1141.54 2791.45 L1144.59 2790.73 L1147.64 2790.00 L1150.68 2789.27 L1153.73 2788.54 L1156.77 2787.80 L1159.82 2787.06 L1162.86 2786.32 L1165.91 2785.57 L1168.96 2784.81 L1172.00 2784.06 L1175.05 2783.29 L1178.09 2782.53 L1181.14 2781.76 L1184.18 2780.98 L1187.23 2780.20 L1190.28 2779.42 L1193.32 2778.64 L1196.37 2777.84 L1199.41 2777.05 L1202.46 2776.25 L1205.50 2775.44 L1208.55 2774.64 L1211.60 2773.82 L1214.64 2773.00 L1217.69 2772.18 L1220.73 2771.35 L1223.78 2770.52 L1226.82 2769.69 L1229.87 2768.85 L1232.92 2768.00 L1235.96 2767.15 L1239.01 2766.29 L1242.05 2765.43 L1245.10 2764.57 L1248.14 2763.70 L1251.19 2762.82 L1254.24 2761.94 L1257.28 2761.06 L1260.33 2760.17 L1263.37 2759.27 L1266.42 2758.37 L1269.46 2757.46 L1272.51 2756.55 L1275.56 2755.64 L1278.60 2754.71 L1281.65 2753.79 L1284.69 2752.85 L1287.74 2751.91 L1290.78 2750.97 L1293.83 2750.02 L1296.88 2749.07 L1299.92 2748.10 L1302.97 2747.14 L1306.01 2746.17 L1309.06 2745.19 L1312.10 2744.20 L1315.15 2743.21 L1318.20 2742.22 L1321.24 2741.21 L1324.29 2740.21 L1327.33 2739.19 L1330.38 2738.17 L1333.42 2737.14 L1336.47 2736.11 L1339.52 2735.07 L1342.56 2734.02 L1345.61 2732.97 L1348.65 2731.91 L1351.70 2730.84 L1354.74 2729.77 L1357.79 2728.69 L1360.84 2727.61 L1363.88 2726.51 L1366.93 2725.41 L1369.97 2724.30 L1373.02 2723.19 L1376.06 2722.07 L1379.11 2720.94 L1382.16 2719.80 L1385.20 2718.66 L1388.25 2717.51 L1391.29 2716.35 L1394.34 2715.19 L1397.38 2714.01 L1400.43 2712.83 L1403.48 2711.64 L1406.52 2710.45 L1409.57 2709.24 L1412.61 2708.03 L1415.66 2706.81 L1418.70 2705.58 L1421.75 2704.35 L1424.80 2703.10 L1427.84 2701.85 L1430.89 2700.59 L1433.93 2699.32 L1436.98 2698.04 L1440.02 2696.75 L1443.07 2695.45 L1446.12 2694.15 L1449.16 2692.83 L1452.21 2691.51 L1455.25 2690.18 L1458.30 2688.84 L1461.34 2687.48 L1464.39 2686.12 L1467.44 2684.75 L1470.48 2683.37 L1473.53 2681.99 L1476.57 2680.59 L1479.62 2679.18 L1482.66 2677.76 L1485.71 2676.33 L1488.76 2674.89 L1491.80 2673.44 L1494.85 2671.98 L1497.89 2670.51 L1500.94 2669.03 L1503.98 2667.54 L1507.03 2666.03 L1510.08 2664.52 L1513.12 2663.00 L1516.17 2661.46 L1519.21 2659.91 L1522.26 2658.35 L1525.30 2656.78 L1528.35 2655.20 L1531.40 2653.61 L1534.44 2652.00 L1537.49 2650.38 L1540.53 2648.75 L1543.58 2647.11 L1546.62 2645.46 L1549.67 2643.79 L1552.72 2642.11 L1555.76 2640.42 L1558.81 2638.71 L1561.85 2636.99 L1564.90 2635.26 L1567.94 2633.51 L1570.99 2631.75 L1574.04 2629.98 L1577.08 2628.19 L1580.13 2626.39 L1583.17 2624.57 L1586.22 2622.74 L1589.26 2620.90 L1592.31 2619.04 L1595.36 2617.16 L1598.40 2615.27 L1601.45 2613.37 L1604.49 2611.45 L1607.54 2609.51 L1610.58 2607.56 L1613.63 2605.59 L1616.68 2603.61 L1619.72 2601.61 L1622.77 2599.59 L1625.81 2597.56 L1628.86 2595.51 L1631.90 2593.44 L1634.95 2591.35 L1638.00 2589.25 L1641.04 2587.13 L1644.09 2584.99 L1647.13 2582.84 L1650.18 2580.66 L1653.22 2578.47 L1656.27 2576.25 L1659.32 2574.02 L1662.36 2571.77 L1665.41 2569.50 L1668.45 2567.21 L1671.50 2564.89 L1674.54 2562.56 L1677.59 2560.21 L1680.64 2557.84 L1683.68 2555.44 L1686.73 2553.03 L1689.77 2550.59 L1692.82 2548.13 L1695.86 2545.64 L1698.91 2543.14 L1701.96 2540.61 L1705.00 2538.06 L1708.05 2535.49 L1711.09 2532.89 L1714.14 2530.26 L1717.18 2527.62 L1720.23 2524.95 L1723.27 2522.25 L1726.32 2519.53 L1729.37 2516.78 L1732.41 2514.00 L1735.46 2511.20 L1738.50 2508.37 L1741.55 2505.52 L1744.59 2502.63 L1747.64 2499.72 L1750.69 2496.78 L1753.73 2493.81 L1756.78 2490.81 L1759.82 2487.79 L1762.87 2484.73 L1765.91 2481.64 L1768.96 2478.52 L1772.01 2475.37 L1775.05 2472.18 L1778.10 2468.97 L1781.14 2465.72 L1784.19 2462.44 L1787.23 2459.12 L1790.28 2455.77 L1793.33 2452.39 L1796.37 2448.97 L1799.42 2445.51 L1802.46 2442.02 L1805.51 2438.49 L1808.55 2434.92 L1811.60 2431.32 L1814.65 2427.67 L1817.69 2423.99 L1820.74 2420.26 L1823.78 2416.50 L1826.83 2412.69 L1829.87 2408.85 L1832.92 2404.96 L1835.97 2401.02 L1839.01 2397.04 L1842.06 2393.02 L1845.10 2388.95 L1848.15 2384.84 L1851.19 2380.68 L1854.24 2376.47 L1857.29 2372.21 L1860.33 2367.91 L1863.38 2363.55 L1866.42 2359.14 L1869.47 2354.69 L1872.51 2350.17 L1875.56 2345.61 L1878.61 2340.99 L1881.65 2336.31 L1884.70 2331.58 L1887.74 2326.79 L1890.79 2321.94 L1893.83 2317.04 L1896.88 2312.07 L1899.93 2307.04 L1902.97 2301.95 L1906.02 2296.79 L1909.06 2291.57 L1912.11 2286.28 L1915.15 2280.93 L1918.20 2275.51 L1921.25 2270.01 L1924.29 2264.45 L1927.34 2258.81 L1930.38 2253.10 L1933.43 2247.32 L1936.47 2241.45 L1939.52 2235.51 L1942.57 2229.49 L1945.61 2223.39 L1948.66 2217.20 L1951.70 2210.93 L1954.75 2204.58 L1957.79 2198.13 L1960.84 2191.60 L1963.89 2184.98 L1966.93 2178.26 L1969.98 2171.44 L1973.02 2164.53 L1976.07 2157.52 L1979.11 2150.41 L1982.16 2143.20 L1985.21 2135.88 L1988.25 2128.45 L1991.30 2120.91 L1994.34 2113.26 L1997.39 2105.50 L2000.43 2097.61 L2003.48 2089.61 L2006.53 2081.48 L2009.57 2073.23 L2012.62 2064.85 L2015.66 2056.34 L2018.71 2047.70 L2021.75 2038.92 L2024.80 2030.00 L2027.85 2020.93 L2030.89 2011.72 L2033.94 2002.36 L2036.98 1992.84 L2040.03 1983.17 L2043.07 1973.33 L2046.12 1963.33 L2049.17 1953.16 L2052.21 1942.82 L2055.26 1932.30 L2058.30 1921.60 L2061.35 1910.71 L2064.39 1899.63 L2067.44 1888.35 L2070.49 1876.87 L2073.53 1865.19 L2076.58 1853.29 L2079.62 1841.18 L2082.67 1828.84 L2085.71 1816.27" fill="none" stroke="#000000" stroke-width="12.0" stroke-linejoin="round" stroke-dasharray="3.000 12.110"/>
<path d="M259.79 2864.92 L252.29 2864.92" stroke="#000000" stroke-width="12.0" fill="none"/>
<path d="M2085.01 1819.19 L2087.13 1810.44" stroke="#000000" stroke-width="12.0" fill="none"/>
<path d="M258.29 2883.75 L261.33 2883.75 L264.38 2883.75 L267.43 2883.75 L270.47 2883.75 L273.52 2883.75 L276.56 2883.75 L279.61 2883.75 L282.65 2883.75 L285.70 2883.75 L288.75 2883.75 L291.79 2883.75 L294.84 2883.75 L297.88 2883.75 L300.93 2883.75 L303.97 2883.75 L307.02 2883.75 L310.07 2883.75 L313.11 2883.75 L316.16 2883.75 L319.20 2883.75 L322.25 2883.75 L325.29 2883.75 L328.34 2883.75 L331.39 2883.75 L334.43 2883.75 L337.48 2883.75 L340.52 2883.75 L343.57 2883.75 L346.61 2883.75 L349.66 2883.75 L352.71 2883.75 L355.75 2883.75 L358.80 2883.75 L361.84 2883.75 L364.89 2883.75 L367.93 2883.75 L370.98 2883.75 L374.03 2883.75 L377.07 2883.75 L380.12 2883.75 L383.16 2883.75 L386.21 2883.75 L389.25 2883.75 L392.30 2883.75 L395.35 2883.75 L398.39 2883.75 L401.44 2883.75 L404.48 2883.75 L407.53 2883.75 L410.57 2883.75 L413.62 2883.75 L416.67 2883.75 L419.71 2883.75 L422.76 2883.75 L425.80 2883.75 L428.85 2883.75 L431.89 2883.75 L434.94 2883.75 L437.99 2883.75 L441.03 2883.75 L444.08 2883.75 L447.12 2883.75 L450.17 2883.75 L453.21 2883.75 L456.26 2883.75 L459.31 2883.75 L462.35 2883.75 L465.40 2883.75 L468.44 2883.75 L471.49 2883.75 L474.53 2883.75 L477.58 2883.75 L480.63 2883.75 L483.67 2883.75 L486.72 2883.75 L489.76 2883.75 L492.81 2883.75 L495.85 2883.75 L498.90 2883.75 L501.95 2883.75 L504.99 2883.75 L508.04 2883.75 L511.08 2883.75 L514.13 2883.75 L517.17 2883.75 L520.22 2883.75 L523.27 2883.75 L526.31 2883.75 L529.36 2883.75 L532.40 2883.75 L535.45 2883.75 L538.49 2883.75 L541.54 2883.75 L544.59 2883.75 L547.63 2883.75 L550.68 2883.75 L553.72 2883.75 L556.77 2883.75 L559.81 2883.75 L562.86 2883.75 L565.91 2883.75 L568.95 2883.75 L572.00 2883.75 L575.04 2883.75 L578.09 2883.75 L581.13 2883.75 L584.18 2883.75 L587.23 2883.75 L590.27 2883.75 L593.32 2883.75 L596.36 2883.75 L599.41 2883.75 L602.45 2883.75 L605.50 2883.75 L608.55 2883.75 L611.59 2883.75 L614.64 2883.75 L617.68 2883.75 L620.73 2883.75 L623.77 2883.75 L626.82 2883.75 L629.87 2883.75 L632.91 2883.75 L635.96 2883.75 L639.00 2883.75 L642.05 2883.75 L645.09 2883.75 L648.14 2883.75 L651.19 2883.75 L654.23 2883.75 L657.28 2883.75 L660.32 2883.75 L663.37 2883.75 L666.41 2883.75 L669.46 2883.75 L672.51 2883.75 L675.55 2883.75 L678.60 2883.75 L681.64 2883.75 L684.69 2883.75 L687.73 2883.75 L690.78 2883.75 L693.83 2883.75 L696.87 2883.75 L699.92 2883.75 L702.96 2883.75 L706.01 2883.75 L709.05 2883.75 L712.10 2883.75 L715.15 2883.75 L718.19 2883.40 L721.24 2883.04 L724.28 2882.69 L727.33 2882.34 L730.37 2881.98 L733.42 2881.62 L736.47 2881.27 L739.51 2880.91 L742.56 2880.54 L745.60 2880.18 L748.65 2879.82 L751.69 2879.45 L754.74 2879.08 L757.79 2878.71 L760.83 2878.34 L763.88 2877.97 L766.92 2877.60 L769.97 2877.22 L773.01 2876.85 L776.06 2876.47 L779.11 2876.09 L782.15 2875.71 L785.20 2875.32 L788.24 2874.94 L791.29 2874.55 L794.33 2874.16 L797.38 2873.77 L800.43 2873.38 L803.47 2872.99 L806.52 2872.59 L809.56 2872.20 L812.61 2871.80 L815.65 2871.40 L818.70 2871.00 L821.75 2870.60 L824.79 2870.19 L827.84 2869.78 L830.88 2869.37 L833.93 2868.96 L836.97 2868.55 L840.02 2868.14 L843.07 2867.72 L846.11 2867.31 L849.16 2866.89 L852.20 2866.46 L855.25 2866.04 L858.29 2865.62 L861.34 2865.19 L864.39 2864.76 L867.43 2864.33 L870.48 2863.90 L873.52 2863.46 L876.57 2863.03 L879.61 2862.59 L882.66 2862.15 L885.71 2861.71 L888.75 2861.26 L891.80 2860.82 L894.84 2860.37 L897.89 2859.92 L900.93 2859.46 L903.98 2859.01 L907.03 2858.55 L910.07 2858.10 L913.12 2857.63 L916.16 2857.17 L919.21 2856.71 L922.25 2856.24 L925.30 2855.77 L928.35 2855.30 L931.39 2854.83 L934.44 2854.35 L937.48 2853.87 L940.53 2853.39 L943.57 2852.91 L946.62 2852.42 L949.67 2851.94 L952.71 2851.45 L955.76 2850.96 L958.80 2850.46 L961.85 2849.97 L964.89 2849.47 L967.94 2848.97 L970.99 2848.46 L974.03 2847.96 L977.08 2847.45 L980.12 2846.94 L983.17 2846.43 L986.21 2845.91 L989.26 2845.39 L992.30 2844.87 L995.35 2844.35 L998.40 2843.83 L1001.44 2843.30 L1004.49 2842.77 L1007.53 2842.23 L1010.58 2841.70 L1013.62 2841.16 L1016.67 2840.62 L1019.72 2840.08 L1022.76 2839.53 L1025.81 2838.98 L1028.85 2838.43 L1031.90 2837.88 L1034.94 2837.32 L1037.99 2836.76 L1041.04 2836.20 L1044.08 2835.63 L1047.13 2835.06 L1050.17 2834.49 L1053.22 2833.92 L1056.26 2833.34 L1059.31 2832.76 L1062.36 2832.18 L1065.40 2831.59 L1068.45 2831.00 L1071.49 2830.41 L1074.54 2829.82 L1077.58 2829.22 L1080.63 2828.62 L1083.68 2828.01 L1086.72 2827.41 L1089.77 2826.80 L1092.81 2826.18 L1095.86 2825.57 L1098.90 2824.95 L1101.95 2824.32 L1105.00 2823.70 L1108.04 2823.07 L1111.09 2822.44 L1114.13 2821.80 L1117.18 2821.16 L1120.22 2820.52 L1123.27 2819.87 L1126.32 2819.22 L1129.36 2818.57 L1132.41 2817.91 L1135.45 2817.25 L1138.50 2816.59 L1141.54 2815.92 L1144.59 2815.25 L1147.64 2814.58 L1150.68 2813.90 L1153.73 2813.22 L1156.77 2812.53 L1159.82 2811.84 L1162.86 2811.15 L1165.91 2810.45 L1168.96 2809.75 L1172.00 2809.05 L1175.05 2808.34 L1178.09 2807.63 L1181.14 2806.91 L1184.18 2806.19 L1187.23 2805.47 L1190.28 2804.74 L1193.32 2804.01 L1196.37 2803.27 L1199.41 2802.53 L1202.46 2801.79 L1205.50 2801.04 L1208.55 2800.28 L1211.60 2799.53 L1214.64 2798.77 L1217.69 2798.00 L1220.73 2797.23 L1223.78 2796.45 L1226.82 2795.68 L1229.87 2794.89 L1232.92 2794.10 L1235.96 2793.31 L1239.01 2792.51 L1242.05 2791.71 L1245.10 2790.91 L1248.14 2790.09 L1251.19 2789.28 L1254.24 2788.46 L1257.28 2787.63 L1260.33 2786.80 L1263.37 2785.97 L1266.42 2785.13 L1269.46 2784.28 L1272.51 2783.43 L1275.56 2782.57 L1278.60 2781.71 L1281.65 2780.85 L1284.69 2779.98 L1287.74 2779.10 L1290.78 2778.22 L1293.83 2777.33 L1296.88 2776.44 L1299.92 2775.54 L1302.97 2774.64 L1306.01 2773.73 L1309.06 2772.82 L1312.10 2771.90 L1315.15 2770.97 L1318.20 2770.04 L1321.24 2769.10 L1324.29 2768.16 L1327.33 2767.21 L1330.38 2766.25 L1333.42 2765.29 L1336.47 2764.33 L1339.52 2763.35 L1342.56 2762.37 L1345.61 2761.39 L1348.65 2760.40 L1351.70 2759.40 L1354.74 2758.39 L1357.79 2757.38 L1360.84 2756.37 L1363.88 2755.34 L1366.93 2754.31 L1369.97 2753.27 L1373.02 2752.23 L1376.06 2751.18 L1379.11 2750.12 L1382.16 2749.06 L1385.20 2747.99 L1388.25 2746.91 L1391.29 2745.82 L1394.34 2744.73 L1397.38 2743.63 L1400.43 2742.52 L1403.48 2741.40 L1406.52 2740.28 L1409.57 2739.15 L1412.61 2738.01 L1415.66 2736.87 L1418.70 2735.71 L1421.75 2734.55 L1424.80 2733.38 L1427.84 2732.21 L1430.89 2731.02 L1433.93 2729.83 L1436.98 2728.62 L1440.02 2727.41 L1443.07 2726.20 L1446.12 2724.97 L1449.16 2723.73 L1452.21 2722.49 L1455.25 2721.23 L1458.30 2719.97 L1461.34 2718.70 L1464.39 2717.42 L1467.44 2716.13 L1470.48 2714.83 L1473.53 2713.52 L1476.57 2712.21 L1479.62 2710.88 L1482.66 2709.54 L1485.71 2708.20 L1488.76 2706.84 L1491.80 2705.48 L1494.85 2704.10 L1497.89 2702.71 L1500.94 2701.32 L1503.98 2699.91 L1507.03 2698.49 L1510.08 2697.07 L1513.12 2695.63 L1516.17 2694.18 L1519.21 2692.72 L1522.26 2691.25 L1525.30 2689.77 L1528.35 2688.27 L1531.40 2686.77 L1534.44 2685.25 L1537.49 2683.72 L1540.53 2682.18 L1543.58 2680.63 L1546.62 2679.07 L1549.67 2677.49 L1552.72 2675.90 L1555.76 2674.30 L1558.81 2672.69 L1561.85 2671.06 L1564.90 2669.42 L1567.94 2667.77 L1570.99 2666.10 L1574.04 2664.42 L1577.08 2662.73 L1580.13 2661.03 L1583.17 2659.31 L1586.22 2657.57 L1589.26 2655.83 L1592.31 2654.06 L1595.36 2652.29 L1598.40 2650.50 L1601.45 2648.69 L1604.49 2646.87 L1607.54 2645.03 L1610.58 2643.18 L1613.63 2641.31 L1616.68 2639.43 L1619.72 2637.53 L1622.77 2635.62 L1625.81 2633.69 L1628.86 2631.74 L1631.90 2629.78 L1634.95 2627.80 L1638.00 2625.80 L1641.04 2623.78 L1644.09 2621.75 L1647.13 2619.70 L1650.18 2617.63 L1653.22 2615.54 L1656.27 2613.44 L1659.32 2611.31 L1662.36 2609.17 L1665.41 2607.01 L1668.45 2604.83 L1671.50 2602.62 L1674.54 2600.40 L1677.59 2598.16 L1680.64 2595.90 L1683.68 2593.62 L1686.73 2591.32 L1689.77 2588.99 L1692.82 2586.64 L1695.86 2584.28 L1698.91 2581.89 L1701.96 2579.47 L1705.00 2577.04 L1708.05 2574.58 L1711.09 2572.10 L1714.14 2569.59 L1717.18 2567.07 L1720.23 2564.51 L1723.27 2561.93 L1726.32 2559.33 L1729.37 2556.70 L1732.41 2554.05 L1735.46 2551.37 L1738.50 2548.66 L1741.55 2545.93 L1744.59 2543.17 L1747.64 2540.38 L1750.69 2537.57 L1753.73 2534.72 L1756.78 2531.85 L1759.82 2528.95 L1762.87 2526.02 L1765.91 2523.05 L1768.96 2520.06 L1772.01 2517.04 L1775.05 2513.98 L1778.10 2510.90 L1781.14 2507.78 L1784.19 2504.63 L1787.23 2501.44 L1790.28 2498.22 L1793.33 2494.97 L1796.37 2491.68 L1799.42 2488.36 L1802.46 2485.00 L1805.51 2481.60 L1808.55 2478.17 L1811.60 2474.70 L1814.65 2471.19 L1817.69 2467.64 L1820.74 2464.06 L1823.78 2460.43 L1826.83 2456.76 L1829.87 2453.05 L1832.92 2449.30 L1835.97 2445.50 L1839.01 2441.67 L1842.06 2437.78 L1845.10 2433.86 L1848.15 2429.88 L1851.19 2425.86 L1854.24 2421.80 L1857.29 2417.68 L1860.33 2413.52 L1863.38 2409.31 L1866.42 2405.04 L1869.47 2400.73 L1872.51 2396.36 L1875.56 2391.94 L1878.61 2387.46 L1881.65 2382.93 L1884.70 2378.34 L1887.74 2373.70 L1890.79 2369.00 L1893.83 2364.24 L1896.88 2359.42 L1899.93 2354.53 L1902.97 2349.59 L1906.02 2344.58 L1909.06 2339.50 L1912.11 2334.36 L1915.15 2329.16 L1918.20 2323.88 L1921.25 2318.54 L1924.29 2313.12 L1927.34 2307.63 L1930.38 2302.07 L1933.43 2296.43 L1936.47 2290.71 L1939.52 2284.92 L1942.57 2279.04 L1945.61 2273.09 L1948.66 2267.05 L1951.70 2260.93 L1954.75 2254.72 L1957.79 2248.42 L1960.84 2242.03 L1963.89 2235.55 L1966.93 2228.97 L1969.98 2222.30 L1973.02 2215.53 L1976.07 2208.67 L1979.11 2201.70 L1982.16 2194.62 L1985.21 2187.44 L1988.25 2180.15 L1991.30 2172.75 L1994.34 2165.23 L1997.39 2157.60 L2000.43 2149.85 L2003.48 2141.98 L2006.53 2133.98 L2009.57 2125.86 L2012.62 2117.61 L2015.66 2109.22 L2018.71 2100.70 L2021.75 2092.04 L2024.80 2083.24 L2027.85 2074.29 L2030.89 2065.19 L2033.94 2055.94 L2036.98 2046.53 L2040.03 2036.96 L2043.07 2027.23 L2046.12 2017.33 L2049.17 2007.25 L2052.21 1997.00 L2055.26 1986.57 L2058.30 1975.95 L2061.35 1965.14 L2064.39 1954.13 L2067.44 1942.92 L2070.49 1931.51 L2073.53 1919.88 L2076.58 1908.04 L2079.62 1895.97 L2082.67 1883.67 L2085.71 1871.14" fill="none" stroke="#ff0000" stroke-width="12.0" stroke-linejoin="round" stroke-dasharray="30.600 38.890"/>
<path d="M259.79 2883.75 L252.29 2883.75" stroke="#ff0000" stroke-width="12.0" fill="none"/>
<path d="M2085.36 1872.60 L2087.13 1865.31" stroke="#ff0000" stroke-width="12.0" fill="none"/>
<path d="M258.29 2896.93 L261.33 2896.93 L264.38 2896.93 L267.43 2896.93 L270.47 2896.93 L273.52 2896.93 L276.56 2896.93 L279.61 2896.93 L282.65 2896.93 L285.70 2896.93 L288.75 2896.93 L291.79 2896.93 L294.84 2896.93 L297.88 2896.93 L300.93 2896.93 L303.97 2896.93 L307.02 2896.93 L310.07 2896.93 L313.11 2896.93 L316.16 2896.93 L319.20 2896.93 L322.25 2896.93 L325.29 2896.93 L328.34 2896.93 L331.39 2896.93 L334.43 2896.93 L337.48 2896.93 L340.52 2896.93 L343.57 2896.93 L346.61 2896.93 L349.66 2896.93 L352.71 2896.93 L355.75 2896.93 L358.80 2896.93 L361.84 2896.93 L364.89 2896.93 L367.93 2896.93 L370.98 2896.93 L374.03 2896.93 L377.07 2896.93 L380.12 2896.93 L383.16 2896.93 L386.21 2896.93 L389.25 2896.93 L392.30 2896.93 L395.35 2896.93 L398.39 2896.93 L401.44 2896.93 L404.48 2896.93 L407.53 2896.93 L410.57 2896.93 L413.62 2896.93 L416.67 2896.93 L419.71 2896.93 L422.76 2896.93 L425.80 2896.93 L428.85 2896.93 L431.89 2896.93 L434.94 2896.93 L437.99 2896.93 L441.03 2896.93 L444.08 2896.93 L447.12 2896.93 L450.17 2896.93 L453.21 2896.93 L456.26 2896.93 L459.31 2896.93 L462.35 2896.93 L465.40 2896.93 L468.44 2896.93 L471.49 2896.93 L474.53 2896.93 L477.58 2896.93 L480.63 2896.93 L483.67 2896.93 L486.72 2896.93 L489.76 2896.93 L492.81 2896.93 L495.85 2896.93 L498.90 2896.93 L501.95 2896.93 L504.99 2896.93 L508.04 2896.93 L511.08 2896.93 L514.13 2896.93 L517.17 2896.93 L520.22 2896.93 L523.27 2896.93 L526.31 2896.93 L529.36 2896.93 L532.40 2896.93 L535.45 2896.93 L538.49 2896.93 L541.54 2896.93 L544.59 2896.93 L547.63 2896.93 L550.68 2896.93 L553.72 2896.93 L556.77 2896.93 L559.81 2896.93 L562.86 2896.93 L565.91 2896.93 L568.95 2896.93 L572.00 2896.93 L575.04 2896.93 L578.09 2896.93 L581.13 2896.93 L584.18 2896.93 L587.23 2896.93 L590.27 2896.93 L593.32 2896.93 L596.36 2896.93 L599.41 2896.93 L602.45 2896.93 L605.50 2896.93 L608.55 2896.93 L611.59 2896.93 L614.64 2896.93 L617.68 2896.93 L620.73 2896.93 L623.77 2896.93 L626.82 2896.93 L629.87 2896.93 L632.91 2896.93 L635.96 2896.93 L639.00 2896.93 L642.05 2896.93 L645.09 2896.93 L648.14 2896.93 L651.19 2896.93 L654.23 2896.93 L657.28 2896.93 L660.32 2896.93 L663.37 2896.93 L666.41 2896.93 L669.46 2896.93 L672.51 2896.93 L675.55 2896.93 L678.60 2896.93 L681.64 2896.93 L684.69 2896.93 L687.73 2896.93 L690.78 2896.93 L693.83 2896.93 L696.87 2896.93 L699.92 2896.93 L702.96 2896.93 L706.01 2896.93 L709.05 2896.93 L712.10 2896.93 L715.15 2896.93 L718.19 2896.61 L721.24 2896.30 L724.28 2895.98 L727.33 2895.66 L730.37 2895.34 L733.42 2895.02 L736.47 2894.69 L739.51 2894.37 L742.56 2894.04 L745.60 2893.72 L748.65 2893.39 L751.69 2893.06 L754.74 2892.73 L757.79 2892.40 L760.83 2892.06 L763.88 2891.73 L766.92 2891.39 L769.97 2891.05 L773.01 2890.71 L776.06 2890.37 L779.11 2890.03 L782.15 2889.69 L785.20 2889.34 L788.24 2888.99 L791.29 2888.65 L794.33 2888.30 L797.38 2887.95 L800.43 2887.59 L803.47 2887.24 L806.52 2886.88 L809.56 2886.53 L812.61 2886.17 L815.65 2885.81 L818.70 2885.44 L821.75 2885.08 L824.79 2884.72 L827.84 2884.35 L830.88 2883.98 L833.93 2883.61 L836.97 2883.24 L840.02 2882.87 L843.07 2882.49 L846.11 2882.12 L849.16 2881.74 L852.20 2881.36 L855.25 2880.98 L858.29 2880.59 L861.34 2880.21 L864.39 2879.82 L867.43 2879.43 L870.48 2879.04 L873.52 2878.65 L876.57 2878.26 L879.61 2877.86 L882.66 2877.47 L885.71 2877.07 L888.75 2876.67 L891.80 2876.27 L894.84 2875.86 L897.89 2875.46 L900.93 2875.05 L903.98 2874.64 L907.03 2874.23 L910.07 2873.81 L913.12 2873.40 L916.16 2872.98 L919.21 2872.56 L922.25 2872.14 L925.30 2871.72 L928.35 2871.29 L931.39 2870.86 L934.44 2870.43 L937.48 2870.00 L940.53 2869.57 L943.57 2869.13 L946.62 2868.70 L949.67 2868.26 L952.71 2867.82 L955.76 2867.37 L958.80 2866.93 L961.85 2866.48 L964.89 2866.03 L967.94 2865.58 L970.99 2865.12 L974.03 2864.67 L977.08 2864.21 L980.12 2863.75 L983.17 2863.28 L986.21 2862.82 L989.26 2862.35 L992.30 2861.88 L995.35 2861.41 L998.40 2860.94 L1001.44 2860.46 L1004.49 2859.98 L1007.53 2859.50 L1010.58 2859.02 L1013.62 2858.53 L1016.67 2858.04 L1019.72 2857.55 L1022.76 2857.06 L1025.81 2856.56 L1028.85 2856.06 L1031.90 2855.56 L1034.94 2855.06 L1037.99 2854.55 L1041.04 2854.04 L1044.08 2853.53 L1047.13 2853.02 L1050.17 2852.50 L1053.22 2851.98 L1056.26 2851.46 L1059.31 2850.94 L1062.36 2850.41 L1065.40 2849.88 L1068.45 2849.35 L1071.49 2848.82 L1074.54 2848.28 L1077.58 2847.74 L1080.63 2847.19 L1083.68 2846.65 L1086.72 2846.10 L1089.77 2845.55 L1092.81 2844.99 L1095.86 2844.44 L1098.90 2843.87 L1101.95 2843.31 L1105.00 2842.74 L1108.04 2842.18 L1111.09 2841.60 L1114.13 2841.03 L1117.18 2840.45 L1120.22 2839.87 L1123.27 2839.28 L1126.32 2838.69 L1129.36 2838.10 L1132.41 2837.51 L1135.45 2836.91 L1138.50 2836.31 L1141.54 2835.71 L1144.59 2835.10 L1147.64 2834.49 L1150.68 2833.87 L1153.73 2833.26 L1156.77 2832.64 L1159.82 2832.01 L1162.86 2831.39 L1165.91 2830.75 L1168.96 2830.12 L1172.00 2829.48 L1175.05 2828.84 L1178.09 2828.19 L1181.14 2827.55 L1184.18 2826.89 L1187.23 2826.24 L1190.28 2825.58 L1193.32 2824.91 L1196.37 2824.25 L1199.41 2823.57 L1202.46 2822.90 L1205.50 2822.22 L1208.55 2821.54 L1211.60 2820.85 L1214.64 2820.16 L1217.69 2819.47 L1220.73 2818.77 L1223.78 2818.06 L1226.82 2817.36 L1229.87 2816.65 L1232.92 2815.93 L1235.96 2815.21 L1239.01 2814.49 L1242.05 2813.76 L1245.10 2813.03 L1248.14 2812.29 L1251.19 2811.55 L1254.24 2810.80 L1257.28 2810.05 L1260.33 2809.30 L1263.37 2808.54 L1266.42 2807.78 L1269.46 2807.01 L1272.51 2806.24 L1275.56 2805.46 L1278.60 2804.68 L1281.65 2803.89 L1284.69 2803.10 L1287.74 2802.30 L1290.78 2801.50 L1293.83 2800.69 L1296.88 2799.88 L1299.92 2799.07 L1302.97 2798.25 L1306.01 2797.42 L1309.06 2796.59 L1312.10 2795.75 L1315.15 2794.91 L1318.20 2794.06 L1321.24 2793.21 L1324.29 2792.35 L1327.33 2791.48 L1330.38 2790.61 L1333.42 2789.74 L1336.47 2788.86 L1339.52 2787.97 L1342.56 2787.08 L1345.61 2786.18 L1348.65 2785.28 L1351.70 2784.37 L1354.74 2783.45 L1357.79 2782.53 L1360.84 2781.60 L1363.88 2780.67 L1366.93 2779.73 L1369.97 2778.78 L1373.02 2777.83 L1376.06 2776.87 L1379.11 2775.91 L1382.16 2774.94 L1385.20 2773.96 L1388.25 2772.97 L1391.29 2771.98 L1394.34 2770.98 L1397.38 2769.98 L1400.43 2768.97 L1403.48 2767.95 L1406.52 2766.92 L1409.57 2765.89 L1412.61 2764.85 L1415.66 2763.80 L1418.70 2762.75 L1421.75 2761.68 L1424.80 2760.61 L1427.84 2759.54 L1430.89 2758.45 L1433.93 2757.36 L1436.98 2756.26 L1440.02 2755.15 L1443.07 2754.04 L1446.12 2752.91 L1449.16 2751.78 L1452.21 2750.64 L1455.25 2749.49 L1458.30 2748.34 L1461.34 2747.17 L1464.39 2746.00 L1467.44 2744.82 L1470.48 2743.63 L1473.53 2742.43 L1476.57 2741.22 L1479.62 2740.00 L1482.66 2738.77 L1485.71 2737.54 L1488.76 2736.29 L1491.80 2735.04 L1494.85 2733.78 L1497.89 2732.50 L1500.94 2731.22 L1503.98 2729.93 L1507.03 2728.63 L1510.08 2727.31 L1513.12 2725.99 L1516.17 2724.66 L1519.21 2723.31 L1522.26 2721.96 L1525.30 2720.60 L1528.35 2719.22 L1531.40 2717.84 L1534.44 2716.44 L1537.49 2715.03 L1540.53 2713.61 L1543.58 2712.18 L1546.62 2710.74 L1549.67 2709.29 L1552.72 2707.82 L1555.76 2706.35 L1558.81 2704.86 L1561.85 2703.36 L1564.90 2701.84 L1567.94 2700.32 L1570.99 2698.78 L1574.04 2697.23 L1577.08 2695.67 L1580.13 2694.09 L1583.17 2692.50 L1586.22 2690.90 L1589.26 2689.28 L1592.31 2687.65 L1595.36 2686.01 L1598.40 2684.35 L1601.45 2682.68 L1604.49 2680.99 L1607.54 2679.29 L1610.58 2677.57 L1613.63 2675.84 L1616.68 2674.10 L1619.72 2672.34 L1622.77 2670.56 L1625.81 2668.77 L1628.86 2666.96 L1631.90 2665.14 L1634.95 2663.29 L1638.00 2661.44 L1641.04 2659.56 L1644.09 2657.67 L1647.13 2655.77 L1650.18 2653.84 L1653.22 2651.90 L1656.27 2649.94 L1659.32 2647.96 L1662.36 2645.96 L1665.41 2643.95 L1668.45 2641.92 L1671.50 2639.86 L1674.54 2637.79 L1677.59 2635.70 L1680.64 2633.59 L1683.68 2631.46 L1686.73 2629.30 L1689.77 2627.13 L1692.82 2624.94 L1695.86 2622.72 L1698.91 2620.49 L1701.96 2618.23 L1705.00 2615.95 L1708.05 2613.64 L1711.09 2611.32 L1714.14 2608.97 L1717.18 2606.60 L1720.23 2604.20 L1723.27 2601.78 L1726.32 2599.34 L1729.37 2596.87 L1732.41 2594.37 L1735.46 2591.85 L1738.50 2589.31 L1741.55 2586.73 L1744.59 2584.13 L1747.64 2581.51 L1750.69 2578.85 L1753.73 2576.17 L1756.78 2573.46 L1759.82 2570.72 L1762.87 2567.95 L1765.91 2565.15 L1768.96 2562.33 L1772.01 2559.47 L1775.05 2556.58 L1778.10 2553.65 L1781.14 2550.70 L1784.19 2547.71 L1787.23 2544.69 L1790.28 2541.64 L1793.33 2538.55 L1796.37 2535.43 L1799.42 2532.27 L1802.46 2529.08 L1805.51 2525.85 L1808.55 2522.58 L1811.60 2519.27 L1814.65 2515.93 L1817.69 2512.54 L1820.74 2509.12 L1823.78 2505.66 L1826.83 2502.15 L1829.87 2498.61 L1832.92 2495.02 L1835.97 2491.39 L1839.01 2487.71 L1842.06 2483.99 L1845.10 2480.22 L1848.15 2476.41 L1851.19 2472.55 L1854.24 2468.64 L1857.29 2464.68 L1860.33 2460.67 L1863.38 2456.62 L1866.42 2452.51 L1869.47 2448.34 L1872.51 2444.13 L1875.56 2439.86 L1878.61 2435.53 L1881.65 2431.14 L1884.70 2426.70 L1887.74 2422.20 L1890.79 2417.64 L1893.83 2413.02 L1896.88 2408.34 L1899.93 2403.59 L1902.97 2398.78 L1906.02 2393.90 L1909.06 2388.95 L1912.11 2383.94 L1915.15 2378.85 L1918.20 2373.69 L1921.25 2368.46 L1924.29 2363.16 L1927.34 2357.78 L1930.38 2352.32 L1933.43 2346.78 L1936.47 2341.16 L1939.52 2335.46 L1942.57 2329.67 L1945.61 2323.79 L1948.66 2317.83 L1951.70 2311.78 L1954.75 2305.64 L1957.79 2299.40 L1960.84 2293.06 L1963.89 2286.63 L1966.93 2280.09 L1969.98 2273.45 L1973.02 2266.71 L1976.07 2259.86 L1979.11 2252.90 L1982.16 2245.82 L1985.21 2238.63 L1988.25 2231.32 L1991.30 2223.89 L1994.34 2216.34 L1997.39 2208.66 L2000.43 2200.85 L2003.48 2192.90 L2006.53 2184.82 L2009.57 2176.59 L2012.62 2168.23 L2015.66 2159.71 L2018.71 2151.05 L2021.75 2142.23 L2024.80 2133.25 L2027.85 2124.11 L2030.89 2114.80 L2033.94 2105.31 L2036.98 2095.65 L2040.03 2085.81 L2043.07 2075.78 L2046.12 2065.56 L2049.17 2055.15 L2052.21 2044.53 L2055.26 2033.70 L2058.30 2022.66 L2061.35 2011.39 L2064.39 1999.90 L2067.44 1988.18 L2070.49 1976.22 L2073.53 1964.00 L2076.58 1951.54 L2079.62 1938.81 L2082.67 1925.81 L2085.71 1912.53" fill="none" stroke="#0000ff" stroke-width="12.0" stroke-linejoin="round" stroke-dasharray="12.080 12.080"/>
<path d="M259.79 2896.93 L252.29 2896.93" stroke="#0000ff" stroke-width="12.0" fill="none"/>
<path d="M2085.38 1913.99 L2087.06 1906.68" stroke="#0000ff" stroke-width="12.0" fill="none"/>
</g>
<rect x="245.00" y="1754.30" width="10.00" height="1182.60" fill="#000"/>
<rect x="2403.00" y="1754.30" width="10.00" height="1182.60" fill="#000"/>
<rect x="245.00" y="1754.30" width="2168.00" height="8.10" fill="#000"/>
<rect x="245.00" y="2928.80" width="2168.00" height="8.10" fill="#000"/>
<rect x="289.40" y="1762.40" width="7.00" height="4.60" fill="#000"/>
<rect x="289.40" y="2924.20" width="7.00" height="4.60" fill="#000"/>
<rect x="392.76" y="1762.40" width="7.50" height="2.30" fill="#000"/>
<rect x="392.76" y="2926.50" width="7.50" height="2.30" fill="#000"/>
<rect x="496.38" y="1762.40" width="7.50" height="2.30" fill="#000"/>
<rect x="496.38" y="2926.50" width="7.50" height="2.30" fill="#000"/>
<rect x="600.00" y="1762.40" width="7.50" height="2.30" fill="#000"/>
<rect x="600.00" y="2926.50" width="7.50" height="2.30" fill="#000"/>
<rect x="703.61" y="1762.40" width="7.50" height="2.30" fill="#000"/>
<rect x="703.61" y="2926.50" width="7.50" height="2.30" fill="#000"/>
<rect x="807.48" y="1762.40" width="7.00" height="4.60" fill="#000"/>
<rect x="807.48" y="2924.20" width="7.00" height="4.60" fill="#000"/>
<rect x="910.84" y="1762.40" width="7.50" height="2.30" fill="#000"/>
<rect x="910.84" y="2926.50" width="7.50" height="2.30" fill="#000"/>
<rect x="1014.46" y="1762.40" width="7.50" height="2.30" fill="#000"/>
<rect x="1014.46" y="2926.50" width="7.50" height="2.30" fill="#000"/>
<rect x="1118.07" y="1762.40" width="7.50" height="2.30" fill="#000"/>
<rect x="1118.07" y="2926.50" width="7.50" height="2.30" fill="#000"/>
<rect x="1221.68" y="1762.40" width="7.50" height="2.30" fill="#000"/>
<rect x="1221.68" y="2926.50" width="7.50" height="2.30" fill="#000"/>
<rect x="1325.55" y="1762.40" width="7.00" height="4.60" fill="#000"/>
<rect x="1325.55" y="2924.20" width="7.00" height="4.60" fill="#000"/>
<rect x="1428.91" y="1762.40" width="7.50" height="2.30" fill="#000"/>
<rect x="1428.91" y="2926.50" width="7.50" height="2.30" fill="#000"/>
<rect x="1532.53" y="1762.40" width="7.50" height="2.30" fill="#000"/>
<rect x="1532.53" y="2926.50" width="7.50" height="2.30" fill="#000"/>
<rect x="1636.14" y="1762.40" width="7.50" height="2.30" fill="#000"/>
<rect x="1636.14" y="2926.50" width="7.50" height="2.30" fill="#000"/>
<rect x="1739.76" y="1762.40" width="7.50" height="2.30" fill="#000"/>
<rect x="1739.76" y="2926.50" width="7.50" height="2.30" fill="#000"/>
<rect x="1843.62" y="1762.40" width="7.00" height="4.60" fill="#000"/>
<rect x="1843.62" y="2924.20" width="7.00" height="4.60" fill="#000"/>
<rect x="1946.99" y="1762.40" width="7.50" height="2.30" fill="#000"/>
<rect x="1946.99" y="2926.50" width="7.50" height="2.30" fill="#000"/>
<rect x="2050.61" y="1762.40" width="7.50" height="2.30" fill="#000"/>
<rect x="2050.61" y="2926.50" width="7.50" height="2.30" fill="#000"/>
<rect x="2154.22" y="1762.40" width="7.50" height="2.30" fill="#000"/>
<rect x="2154.22" y="2926.50" width="7.50" height="2.30" fill="#000"/>
<rect x="2257.84" y="1762.40" width="7.50" height="2.30" fill="#000"/>
<rect x="2257.84" y="2926.50" width="7.50" height="2.30" fill="#000"/>
<rect x="2361.70" y="1762.40" width="7.00" height="4.60" fill="#000"/>
<rect x="2361.70" y="2924.20" width="7.00" height="4.60" fill="#000"/>
<rect x="255.00" y="2763.50" width="5.50" height="7.00" fill="#000"/>
<rect x="2397.50" y="2763.50" width="5.50" height="7.00" fill="#000"/>
<rect x="255.00" y="2494.50" width="5.50" height="7.00" fill="#000"/>
<rect x="2397.50" y="2494.50" width="5.50" height="7.00" fill="#000"/>
<rect x="255.00" y="2225.50" width="5.50" height="7.00" fill="#000"/>
<rect x="2397.50" y="2225.50" width="5.50" height="7.00" fill="#000"/>
<rect x="255.00" y="1956.50" width="5.50" height="7.00" fill="#000"/>
<rect x="2397.50" y="1956.50" width="5.50" height="7.00" fill="#000"/>
<text transform="translate(242.10 2999.40) scale(1.1600 1)" style="font-family:'Liberation Serif',serif;font-size:68px" fill="#000" stroke="#000" stroke-width="0.2">0.0</text>
<text transform="translate(760.18 2999.40) scale(1.1600 1)" style="font-family:'Liberation Serif',serif;font-size:68px" fill="#000" stroke="#000" stroke-width="0.2">0.5</text>
<text transform="translate(1278.25 2999.40) scale(1.1600 1)" style="font-family:'Liberation Serif',serif;font-size:68px" fill="#000" stroke="#000" stroke-width="0.2">1.0</text>
<text transform="translate(1796.33 2999.40) scale(1.1600 1)" style="font-family:'Liberation Serif',serif;font-size:68px" fill="#000" stroke="#000" stroke-width="0.2">1.5</text>
<text transform="translate(2314.40 2999.40) scale(1.1600 1)" style="font-family:'Liberation Serif',serif;font-size:68px" fill="#000" stroke="#000" stroke-width="0.2">2.0</text>
<text transform="translate(119.64 2785.50) scale(1.1600 1)" style="font-family:'Liberation Serif',serif;font-size:68px" fill="#000" stroke="#000" stroke-width="0.2">100</text>
<text transform="translate(119.64 2516.50) scale(1.1600 1)" style="font-family:'Liberation Serif',serif;font-size:68px" fill="#000" stroke="#000" stroke-width="0.2">200</text>
<text transform="translate(119.64 2247.50) scale(1.1600 1)" style="font-family:'Liberation Serif',serif;font-size:68px" fill="#000" stroke="#000" stroke-width="0.2">300</text>
<text transform="translate(119.64 1978.50) scale(1.1600 1)" style="font-family:'Liberation Serif',serif;font-size:68px" fill="#000" stroke="#000" stroke-width="0.2">400</text>
<rect x="1106.00" y="1630.70" width="443.30" height="117.00" fill="#fff" stroke="#000" stroke-width="7.4"/>
<text transform="translate(1123.50 1711.70) scale(1.1836 1)" style="font-family:'Liberation Serif',serif;font-size:74px" fill="#000" stroke="#000" stroke-width="0.6">Geometry.2</text>
<g filter="url(#thinU)">
<text transform="translate(85.00 2488.62) rotate(-90) scale(0.9266 1.0995)" style="font-family:'Liberation Mono',monospace;font-style:italic;font-size:100px">u</text>
</g><g filter="url(#thinF)">
<text transform="translate(102.21 2434.97) rotate(-90) scale(1.0345 1.0117)" style="font-family:'Liberation Mono',monospace;font-style:italic;font-size:78px">fluid</text>
</g>
<text transform="translate(1276.18 3098.10) scale(1.1147 0.8474) skewX(-30)" style="font-family:'DejaVu Sans',sans-serif;font-weight:200;font-size:100px" stroke="#000" stroke-width="0.9">ξ</text>
<text x="1332.40" y="3202.80" text-anchor="middle" style="font-family:'Liberation Serif',serif;font-size:73px">(<tspan font-weight="bold">b</tspan>)</text>
<rect x="883.00" y="2064.00" width="585.40" height="489.30" rx="11" ry="11" fill="#fff" stroke="#555" stroke-width="2.6"/>
<path d="M907.00 2123.90 L1228.40 2123.90" stroke="#00ff40" stroke-width="3" fill="none"/>
<text transform="translate(1267.80 2132.70) scale(1.2281 1)" style="font-family:'Liberation Serif',serif;font-size:76px" fill="#000" stroke="#000" stroke-width="0.6">M=2</text>
<path d="M907.00 2253.30 L1228.40 2253.30" stroke="#555" stroke-width="3" fill="none" stroke-dasharray="4.0 13.15"/>
<text transform="translate(1267.86 2261.80) scale(1.2023 1)" style="font-family:'Liberation Serif',serif;font-size:76px" fill="#000" stroke="#000" stroke-width="0.6">M=4</text>
<path d="M907.00 2382.20 L1228.40 2382.20" stroke="#ff4646" stroke-width="3" fill="none" stroke-dasharray="35.5 43.1"/>
<text transform="translate(1267.84 2390.50) scale(1.2118 1)" style="font-family:'Liberation Serif',serif;font-size:76px" fill="#000" stroke="#000" stroke-width="0.6">M=6</text>
<path d="M907.00 2512.00 L1228.40 2512.00" stroke="#5050ff" stroke-width="3" fill="none" stroke-dasharray="14.8 12.47"/>
<text transform="translate(1267.83 2519.70) scale(1.2167 1)" style="font-family:'Liberation Serif',serif;font-size:76px" fill="#000" stroke="#000" stroke-width="0.6">M=8</text>
<g transform="scale(1.134 1)">
<path d="M224.60 3394.95 L227.71 3394.95 L230.81 3394.95 L233.91 3394.95 L237.01 3394.95 L240.11 3394.95 L243.21 3394.95 L246.32 3394.95 L249.42 3394.95 L252.52 3394.95 L255.62 3394.95 L258.72 3394.95 L261.83 3394.95 L264.93 3394.95 L268.03 3394.95 L271.13 3394.95 L274.23 3394.95 L277.33 3394.95 L280.44 3394.95 L283.54 3394.95 L286.64 3394.95 L289.74 3394.95 L292.84 3394.95 L295.95 3394.95 L299.05 3394.95 L302.15 3394.95 L305.25 3394.95 L308.35 3394.95 L311.46 3394.95 L314.56 3394.95 L317.66 3394.95 L320.76 3394.95 L323.86 3394.95 L326.96 3394.95 L330.07 3394.95 L333.17 3394.95 L336.27 3394.95 L339.37 3394.95 L342.47 3394.95 L345.58 3394.95 L348.68 3394.95 L351.78 3394.95 L354.88 3394.95 L357.98 3394.95 L361.08 3394.95 L364.19 3394.95 L367.29 3394.95 L370.39 3394.95 L373.49 3394.95 L376.59 3394.95 L379.70 3394.95 L382.80 3394.95 L385.90 3394.95 L389.00 3394.95 L392.10 3394.95 L395.21 3394.95 L398.31 3394.95 L401.41 3394.95 L404.51 3394.95 L407.61 3394.95 L410.71 3394.95 L413.82 3394.95 L416.92 3394.95 L420.02 3394.95 L423.12 3394.95 L426.22 3394.95 L429.33 3394.95 L432.43 3394.95 L435.53 3394.95 L438.63 3394.95 L441.73 3394.95 L444.83 3394.95 L447.94 3394.95 L451.04 3394.95 L454.14 3394.95 L457.24 3394.95 L460.34 3394.95 L463.45 3394.95 L466.55 3394.95 L469.65 3394.95 L472.75 3394.95 L475.85 3394.95 L478.96 3394.95 L482.06 3394.95 L485.16 3394.95 L488.26 3394.95 L491.36 3394.95 L494.46 3394.95 L497.57 3394.95 L500.67 3394.95 L503.77 3394.95 L506.87 3394.95 L509.97 3394.95 L513.08 3394.95 L516.18 3394.95 L519.28 3394.95 L522.38 3394.95 L525.48 3394.95 L528.58 3394.95 L531.69 3394.95 L534.79 3394.95 L537.89 3394.95 L540.99 3394.95 L544.09 3394.95 L547.20 3394.95 L550.30 3394.95 L553.40 3394.95 L556.50 3394.95 L559.60 3394.95 L562.71 3394.95 L565.81 3394.95 L568.91 3394.95 L572.01 3394.95 L575.11 3394.95 L578.21 3394.95 L581.32 3394.95 L584.42 3394.95 L587.52 3394.95 L590.62 3394.95 L593.72 3394.95 L596.83 3394.95 L599.93 3394.95 L603.03 3394.95 L606.13 3394.95 L609.23 3394.95 L612.33 3394.95 L615.44 3394.95 L618.54 3394.95 L621.64 3394.95 L624.74 3394.95 L627.84 3394.95 L630.95 3394.95 L634.05 3394.95 L637.15 3394.95 L640.25 3394.95 L643.35 3394.95 L646.46 3394.95 L649.56 3394.95 L652.66 3394.95 L655.76 3394.95 L658.86 3394.95 L661.96 3394.95 L665.07 3394.95 L668.17 3394.95 L671.27 3394.95 L674.37 3394.95 L677.47 3394.95 L680.58 3394.95 L683.68 3394.95 L686.78 3394.95 L689.88 3394.95 L692.98 3395.15 L696.08 3395.73 L699.19 3396.71 L702.29 3398.08 L705.39 3399.84 L708.49 3401.98 L711.59 3404.50 L714.70 3407.39 L717.80 3410.66 L720.90 3414.29 L724.00 3418.29 L727.10 3422.63 L730.21 3427.33 L733.31 3432.36 L736.41 3437.72 L739.51 3443.40 L742.61 3449.40 L745.71 3455.70 L748.82 3462.30 L751.92 3469.17 L755.02 3476.33 L758.12 3483.75 L761.22 3491.42 L764.33 3499.33 L767.43 3507.48 L770.53 3515.84 L773.63 3524.42 L776.73 3533.19 L779.83 3542.15 L782.94 3551.28 L786.04 3560.58 L789.14 3570.04 L792.24 3579.63 L795.34 3589.36 L798.45 3599.21 L801.55 3609.16 L804.65 3619.22 L807.75 3629.37 L810.85 3639.59 L813.96 3649.88 L817.06 3660.24 L820.16 3670.64 L823.26 3681.08 L826.36 3691.56 L829.46 3702.06 L832.57 3712.57 L835.67 3723.09 L838.77 3733.61 L841.87 3744.12 L844.97 3754.61 L848.08 3765.08 L851.18 3775.52 L854.28 3785.92 L857.38 3796.28 L860.48 3806.60 L863.58 3816.85 L866.69 3827.05 L869.79 3837.19 L872.89 3847.25 L875.99 3857.24 L879.09 3867.16 L882.20 3876.99 L885.30 3886.73 L888.40 3896.39 L891.50 3905.95 L894.60 3915.42 L897.71 3924.78 L900.81 3934.05 L903.91 3943.21 L907.01 3952.26 L910.11 3961.20 L913.21 3970.04 L916.32 3978.76 L919.42 3987.37 L922.52 3995.86 L925.62 4004.23 L928.72 4012.48 L931.83 4020.62 L934.93 4028.63 L938.03 4036.53 L941.13 4044.30 L944.23 4051.95 L947.33 4059.47 L950.44 4066.87 L953.54 4074.15 L956.64 4081.30 L959.74 4088.33 L962.84 4095.24 L965.95 4102.02 L969.05 4108.67 L972.15 4115.20 L975.25 4121.61 L978.35 4127.89 L981.46 4134.05 L984.56 4140.09 L987.66 4146.00 L990.76 4151.79 L993.86 4157.46 L996.96 4163.01 L1000.07 4168.43 L1003.17 4173.74 L1006.27 4178.92 L1009.37 4183.99 L1012.47 4188.93 L1015.58 4193.76 L1018.68 4198.47 L1021.78 4203.06 L1024.88 4207.54 L1027.98 4211.90 L1031.08 4216.14 L1034.19 4220.27 L1037.29 4224.29 L1040.39 4228.19 L1043.49 4231.98 L1046.59 4235.66 L1049.70 4239.22 L1052.80 4242.68 L1055.90 4246.02 L1059.00 4249.26 L1062.10 4252.39 L1065.21 4255.40 L1068.31 4258.31 L1071.41 4261.11 L1074.51 4263.81 L1077.61 4266.40 L1080.71 4268.88 L1083.82 4271.26 L1086.92 4273.53 L1090.02 4275.70 L1093.12 4277.76 L1096.22 4279.73 L1099.33 4281.58 L1102.43 4283.34 L1105.53 4284.99 L1108.63 4286.54 L1111.73 4287.99 L1114.83 4289.34 L1117.94 4290.59 L1121.04 4291.73 L1124.14 4292.78 L1127.24 4293.72 L1130.34 4294.57 L1133.45 4295.31 L1136.55 4295.96 L1139.65 4296.50 L1142.75 4296.95 L1145.85 4297.30 L1148.96 4297.55 L1152.06 4297.70 L1155.16 4297.74 L1158.26 4297.70 L1161.36 4297.55 L1164.46 4297.30 L1167.57 4296.95 L1170.67 4296.50 L1173.77 4295.96 L1176.87 4295.31 L1179.97 4294.57 L1183.08 4293.72 L1186.18 4292.78 L1189.28 4291.73 L1192.38 4290.59 L1195.48 4289.34 L1198.58 4287.99 L1201.69 4286.54 L1204.79 4284.99 L1207.89 4283.34 L1210.99 4281.58 L1214.09 4279.73 L1217.20 4277.76 L1220.30 4275.70 L1223.40 4273.53 L1226.50 4271.26 L1229.60 4268.88 L1232.71 4266.40 L1235.81 4263.81 L1238.91 4261.11 L1242.01 4258.31 L1245.11 4255.40 L1248.21 4252.39 L1251.32 4249.26 L1254.42 4246.02 L1257.52 4242.68 L1260.62 4239.22 L1263.72 4235.66 L1266.83 4231.98 L1269.93 4228.19 L1273.03 4224.29 L1276.13 4220.27 L1279.23 4216.14 L1282.33 4211.90 L1285.44 4207.54 L1288.54 4203.06 L1291.64 4198.47 L1294.74 4193.76 L1297.84 4188.93 L1300.95 4183.99 L1304.05 4178.92 L1307.15 4173.74 L1310.25 4168.43 L1313.35 4163.01 L1316.46 4157.46 L1319.56 4151.79 L1322.66 4146.00 L1325.76 4140.09 L1328.86 4134.05 L1331.96 4127.89 L1335.07 4121.61 L1338.17 4115.20 L1341.27 4108.67 L1344.37 4102.02 L1347.47 4095.24 L1350.58 4088.33 L1353.68 4081.30 L1356.78 4074.15 L1359.88 4066.87 L1362.98 4059.47 L1366.08 4051.95 L1369.19 4044.30 L1372.29 4036.53 L1375.39 4028.63 L1378.49 4020.62 L1381.59 4012.48 L1384.70 4004.23 L1387.80 3995.86 L1390.90 3987.37 L1394.00 3978.76 L1397.10 3970.04 L1400.21 3961.20 L1403.31 3952.26 L1406.41 3943.21 L1409.51 3934.05 L1412.61 3924.78 L1415.71 3915.42 L1418.82 3905.95 L1421.92 3896.39 L1425.02 3886.73 L1428.12 3876.99 L1431.22 3867.16 L1434.33 3857.24 L1437.43 3847.25 L1440.53 3837.19 L1443.63 3827.05 L1446.73 3816.85 L1449.83 3806.60 L1452.94 3796.28 L1456.04 3785.92 L1459.14 3775.52 L1462.24 3765.08 L1465.34 3754.61 L1468.45 3744.12 L1471.55 3733.61 L1474.65 3723.09 L1477.75 3712.57 L1480.85 3702.06 L1483.96 3691.56 L1487.06 3681.08 L1490.16 3670.64 L1493.26 3660.24 L1496.36 3649.88 L1499.46 3639.59 L1502.57 3629.37 L1505.67 3619.22 L1508.77 3609.16 L1511.87 3599.21 L1514.97 3589.36 L1518.08 3579.63 L1521.18 3570.04 L1524.28 3560.58 L1527.38 3551.28 L1530.48 3542.15 L1533.58 3533.19 L1536.69 3524.42 L1539.79 3515.84 L1542.89 3507.48 L1545.99 3499.33 L1549.09 3491.42 L1552.20 3483.75 L1555.30 3476.33 L1558.40 3469.17 L1561.50 3462.30 L1564.60 3455.70 L1567.71 3449.40 L1570.81 3443.40 L1573.91 3437.72 L1577.01 3432.36 L1580.11 3427.33 L1583.21 3422.63 L1586.32 3418.29 L1589.42 3414.29 L1592.52 3410.66 L1595.62 3407.39 L1598.72 3404.50 L1601.83 3401.98 L1604.93 3399.84 L1608.03 3398.08 L1611.13 3396.71 L1614.23 3395.73 L1617.33 3395.15 L1620.44 3394.95 L1623.54 3394.95 L1626.64 3394.95 L1629.74 3394.95 L1632.84 3394.95 L1635.95 3394.95 L1639.05 3394.95 L1642.15 3394.95 L1645.25 3394.95 L1648.35 3394.95 L1651.46 3394.95 L1654.56 3394.95 L1657.66 3394.95 L1660.76 3394.95 L1663.86 3394.95 L1666.96 3394.95 L1670.07 3394.95 L1673.17 3394.95 L1676.27 3394.95 L1679.37 3394.95 L1682.47 3394.95 L1685.58 3394.95 L1688.68 3394.95 L1691.78 3394.95 L1694.88 3394.95 L1697.98 3394.95 L1701.08 3394.95 L1704.19 3394.95 L1707.29 3394.95 L1710.39 3394.95 L1713.49 3394.95 L1716.59 3394.95 L1719.70 3394.95 L1722.80 3394.95 L1725.90 3394.95 L1729.00 3394.95 L1732.10 3394.95 L1735.21 3394.95 L1738.31 3394.95 L1741.41 3394.95 L1744.51 3394.95 L1747.61 3394.95 L1750.71 3394.95 L1753.82 3394.95 L1756.92 3394.95 L1760.02 3394.95 L1763.12 3394.95 L1766.22 3394.95 L1769.33 3394.95 L1772.43 3394.95 L1775.53 3394.95 L1778.63 3394.95 L1781.73 3394.95 L1784.83 3394.95 L1787.94 3394.95 L1791.04 3394.95 L1794.14 3394.95 L1797.24 3394.95 L1800.34 3394.95 L1803.45 3394.95 L1806.55 3394.95 L1809.65 3394.95 L1812.75 3394.95 L1815.85 3394.95 L1818.96 3394.95 L1822.06 3394.95 L1825.16 3394.95 L1828.26 3394.95 L1831.36 3394.95 L1834.46 3394.95 L1837.57 3394.95 L1840.67 3394.95 L1843.77 3394.95 L1846.87 3394.95 L1849.97 3394.95 L1853.08 3394.95 L1856.18 3394.95 L1859.28 3394.95 L1862.38 3394.95 L1865.48 3394.95 L1868.58 3394.95 L1871.69 3394.95 L1874.79 3394.95 L1877.89 3394.95 L1880.99 3394.95 L1884.09 3394.95 L1887.20 3394.95 L1890.30 3394.95 L1893.40 3394.95 L1896.50 3394.95 L1899.60 3394.95 L1902.71 3394.95 L1905.81 3394.95 L1908.91 3394.95 L1912.01 3394.95 L1915.11 3394.95 L1918.21 3394.95 L1921.32 3394.95 L1924.42 3394.95 L1927.52 3394.95 L1930.62 3394.95 L1933.72 3394.95 L1936.83 3394.95 L1939.93 3394.95 L1943.03 3394.95 L1946.13 3394.95 L1949.23 3394.95 L1952.33 3394.95 L1955.44 3394.95 L1958.54 3394.95 L1961.64 3394.95 L1964.74 3394.95 L1967.84 3394.95 L1970.95 3394.95 L1974.05 3394.95 L1977.15 3394.95 L1980.25 3394.95 L1983.35 3394.95 L1986.46 3394.95 L1989.56 3394.95 L1992.66 3394.95 L1995.76 3394.95 L1998.86 3394.95 L2001.96 3394.95 L2005.07 3394.95 L2008.17 3394.95 L2011.27 3394.95 L2014.37 3394.95 L2017.47 3394.95 L2020.58 3394.95 L2023.68 3394.95 L2026.78 3394.95 L2029.88 3394.95 L2032.98 3394.95 L2036.08 3394.95 L2039.19 3394.95 L2042.29 3394.95 L2045.39 3394.95 L2048.49 3394.95 L2051.59 3394.95 L2054.70 3394.95 L2057.80 3394.95 L2060.90 3394.95 L2064.00 3394.95 L2067.10 3394.95 L2070.21 3394.95 L2073.31 3394.95 L2076.41 3394.95 L2079.51 3394.95 L2082.61 3394.95 L2085.71 3394.95" fill="none" stroke="#00ff00" stroke-width="12.0" stroke-linejoin="round"/>
<path d="M226.10 3394.95 L218.60 3394.95" stroke="#00ff00" stroke-width="12.0" fill="none"/>
<path d="M2084.21 3394.95 L2091.71 3394.95" stroke="#00ff00" stroke-width="12.0" fill="none"/>
<path d="M224.60 3508.64 L227.71 3508.64 L230.81 3508.64 L233.91 3508.64 L237.01 3508.64 L240.11 3508.64 L243.21 3508.64 L246.32 3508.64 L249.42 3508.64 L252.52 3508.64 L255.62 3508.64 L258.72 3508.64 L261.83 3508.64 L264.93 3508.64 L268.03 3508.64 L271.13 3508.64 L274.23 3508.64 L277.33 3508.64 L280.44 3508.64 L283.54 3508.64 L286.64 3508.64 L289.74 3508.64 L292.84 3508.64 L295.95 3508.64 L299.05 3508.64 L302.15 3508.64 L305.25 3508.64 L308.35 3508.64 L311.46 3508.64 L314.56 3508.64 L317.66 3508.64 L320.76 3508.64 L323.86 3508.64 L326.96 3508.64 L330.07 3508.64 L333.17 3508.64 L336.27 3508.64 L339.37 3508.64 L342.47 3508.64 L345.58 3508.64 L348.68 3508.64 L351.78 3508.64 L354.88 3508.64 L357.98 3508.64 L361.08 3508.64 L364.19 3508.64 L367.29 3508.64 L370.39 3508.64 L373.49 3508.64 L376.59 3508.64 L379.70 3508.64 L382.80 3508.64 L385.90 3508.64 L389.00 3508.64 L392.10 3508.64 L395.21 3508.64 L398.31 3508.64 L401.41 3508.64 L404.51 3508.64 L407.61 3508.64 L410.71 3508.64 L413.82 3508.64 L416.92 3508.64 L420.02 3508.64 L423.12 3508.64 L426.22 3508.64 L429.33 3508.64 L432.43 3508.64 L435.53 3508.64 L438.63 3508.64 L441.73 3508.64 L444.83 3508.64 L447.94 3508.64 L451.04 3508.64 L454.14 3508.64 L457.24 3508.64 L460.34 3508.64 L463.45 3508.64 L466.55 3508.64 L469.65 3508.64 L472.75 3508.64 L475.85 3508.64 L478.96 3508.64 L482.06 3508.64 L485.16 3508.64 L488.26 3508.64 L491.36 3508.64 L494.46 3508.64 L497.57 3508.64 L500.67 3508.64 L503.77 3508.64 L506.87 3508.64 L509.97 3508.64 L513.08 3508.64 L516.18 3508.64 L519.28 3508.64 L522.38 3508.64 L525.48 3508.64 L528.58 3508.64 L531.69 3508.64 L534.79 3508.64 L537.89 3508.64 L540.99 3508.64 L544.09 3508.64 L547.20 3508.64 L550.30 3508.64 L553.40 3508.64 L556.50 3508.64 L559.60 3508.64 L562.71 3508.64 L565.81 3508.64 L568.91 3508.64 L572.01 3508.64 L575.11 3508.64 L578.21 3508.64 L581.32 3508.64 L584.42 3508.64 L587.52 3508.64 L590.62 3508.64 L593.72 3508.64 L596.83 3508.64 L599.93 3508.64 L603.03 3508.64 L606.13 3508.64 L609.23 3508.64 L612.33 3508.64 L615.44 3508.64 L618.54 3508.64 L621.64 3508.64 L624.74 3508.64 L627.84 3508.64 L630.95 3508.64 L634.05 3508.64 L637.15 3508.64 L640.25 3508.64 L643.35 3508.64 L646.46 3508.64 L649.56 3508.64 L652.66 3508.64 L655.76 3508.64 L658.86 3508.64 L661.96 3508.64 L665.07 3508.64 L668.17 3508.64 L671.27 3508.64 L674.37 3508.64 L677.47 3508.64 L680.58 3508.64 L683.68 3508.64 L686.78 3508.64 L689.88 3508.64 L692.98 3508.84 L696.08 3509.43 L699.19 3510.42 L702.29 3511.80 L705.39 3513.57 L708.49 3515.72 L711.59 3518.27 L714.70 3521.19 L717.80 3524.48 L720.90 3528.14 L724.00 3532.17 L727.10 3536.55 L730.21 3541.28 L733.31 3546.35 L736.41 3551.76 L739.51 3557.48 L742.61 3563.53 L745.71 3569.88 L748.82 3576.52 L751.92 3583.46 L755.02 3590.66 L758.12 3598.14 L761.22 3605.86 L764.33 3613.83 L767.43 3622.03 L770.53 3630.46 L773.63 3639.09 L776.73 3647.92 L779.83 3656.94 L782.94 3666.13 L786.04 3675.49 L789.14 3685.00 L792.24 3694.65 L795.34 3704.43 L798.45 3714.33 L801.55 3724.34 L804.65 3734.45 L807.75 3744.64 L810.85 3754.91 L813.96 3765.25 L817.06 3775.64 L820.16 3786.09 L823.26 3796.57 L826.36 3807.08 L829.46 3817.61 L832.57 3828.15 L835.67 3838.69 L838.77 3849.24 L841.87 3859.76 L844.97 3870.27 L848.08 3880.76 L851.18 3891.21 L854.28 3901.61 L857.38 3911.98 L860.48 3922.29 L863.58 3932.54 L866.69 3942.73 L869.79 3952.86 L872.89 3962.91 L875.99 3972.88 L879.09 3982.77 L882.20 3992.57 L885.30 4002.29 L888.40 4011.91 L891.50 4021.43 L894.60 4030.86 L897.71 4040.18 L900.81 4049.40 L903.91 4058.51 L907.01 4067.51 L910.11 4076.40 L913.21 4085.17 L916.32 4093.83 L919.42 4102.37 L922.52 4110.80 L925.62 4119.10 L928.72 4127.28 L931.83 4135.34 L934.93 4143.28 L938.03 4151.09 L941.13 4158.78 L944.23 4166.34 L947.33 4173.78 L950.44 4181.10 L953.54 4188.28 L956.64 4195.35 L959.74 4202.28 L962.84 4209.09 L965.95 4215.78 L969.05 4222.34 L972.15 4228.77 L975.25 4235.08 L978.35 4241.27 L981.46 4247.33 L984.56 4253.26 L987.66 4259.08 L990.76 4264.77 L993.86 4270.33 L996.96 4275.78 L1000.07 4281.11 L1003.17 4286.31 L1006.27 4291.40 L1009.37 4296.36 L1012.47 4301.21 L1015.58 4305.94 L1018.68 4310.55 L1021.78 4315.05 L1024.88 4319.43 L1027.98 4323.69 L1031.08 4327.84 L1034.19 4331.88 L1037.29 4335.81 L1040.39 4339.62 L1043.49 4343.32 L1046.59 4346.91 L1049.70 4350.39 L1052.80 4353.76 L1055.90 4357.03 L1059.00 4360.18 L1062.10 4363.23 L1065.21 4366.17 L1068.31 4369.00 L1071.41 4371.73 L1074.51 4374.36 L1077.61 4376.88 L1080.71 4379.30 L1083.82 4381.61 L1086.92 4383.82 L1090.02 4385.93 L1093.12 4387.94 L1096.22 4389.85 L1099.33 4391.65 L1102.43 4393.36 L1105.53 4394.97 L1108.63 4396.47 L1111.73 4397.88 L1114.83 4399.19 L1117.94 4400.40 L1121.04 4401.52 L1124.14 4402.53 L1127.24 4403.45 L1130.34 4404.27 L1133.45 4405.00 L1136.55 4405.62 L1139.65 4406.15 L1142.75 4406.59 L1145.85 4406.92 L1148.96 4407.16 L1152.06 4407.31 L1155.16 4407.36" fill="none" stroke="#000000" stroke-width="12.0" stroke-linejoin="round" stroke-dasharray="3.000 12.110"/>
<path d="M1155.16 4407.36 L1158.26 4407.31 L1161.36 4407.16 L1164.46 4406.92 L1167.57 4406.59 L1170.67 4406.15 L1173.77 4405.62 L1176.87 4405.00 L1179.97 4404.27 L1183.08 4403.45 L1186.18 4402.53 L1189.28 4401.52 L1192.38 4400.40 L1195.48 4399.19 L1198.58 4397.88 L1201.69 4396.47 L1204.79 4394.97 L1207.89 4393.36 L1210.99 4391.65 L1214.09 4389.85 L1217.20 4387.94 L1220.30 4385.93 L1223.40 4383.82 L1226.50 4381.61 L1229.60 4379.30 L1232.71 4376.88 L1235.81 4374.36 L1238.91 4371.73 L1242.01 4369.00 L1245.11 4366.17 L1248.21 4363.23 L1251.32 4360.18 L1254.42 4357.03 L1257.52 4353.76 L1260.62 4350.39 L1263.72 4346.91 L1266.83 4343.32 L1269.93 4339.62 L1273.03 4335.81 L1276.13 4331.88 L1279.23 4327.84 L1282.33 4323.69 L1285.44 4319.43 L1288.54 4315.05 L1291.64 4310.55 L1294.74 4305.94 L1297.84 4301.21 L1300.95 4296.36 L1304.05 4291.40 L1307.15 4286.31 L1310.25 4281.11 L1313.35 4275.78 L1316.46 4270.33 L1319.56 4264.77 L1322.66 4259.08 L1325.76 4253.26 L1328.86 4247.33 L1331.96 4241.27 L1335.07 4235.08 L1338.17 4228.77 L1341.27 4222.34 L1344.37 4215.78 L1347.47 4209.09 L1350.58 4202.28 L1353.68 4195.35 L1356.78 4188.28 L1359.88 4181.10 L1362.98 4173.78 L1366.08 4166.34 L1369.19 4158.78 L1372.29 4151.09 L1375.39 4143.28 L1378.49 4135.34 L1381.59 4127.28 L1384.70 4119.10 L1387.80 4110.80 L1390.90 4102.37 L1394.00 4093.83 L1397.10 4085.17 L1400.21 4076.40 L1403.31 4067.51 L1406.41 4058.51 L1409.51 4049.40 L1412.61 4040.18 L1415.71 4030.86 L1418.82 4021.43 L1421.92 4011.91 L1425.02 4002.29 L1428.12 3992.57 L1431.22 3982.77 L1434.33 3972.88 L1437.43 3962.91 L1440.53 3952.86 L1443.63 3942.73 L1446.73 3932.54 L1449.83 3922.29 L1452.94 3911.98 L1456.04 3901.61 L1459.14 3891.21 L1462.24 3880.76 L1465.34 3870.27 L1468.45 3859.76 L1471.55 3849.24 L1474.65 3838.69 L1477.75 3828.15 L1480.85 3817.61 L1483.96 3807.08 L1487.06 3796.57 L1490.16 3786.09 L1493.26 3775.64 L1496.36 3765.25 L1499.46 3754.91 L1502.57 3744.64 L1505.67 3734.45 L1508.77 3724.34 L1511.87 3714.33 L1514.97 3704.43 L1518.08 3694.65 L1521.18 3685.00 L1524.28 3675.49 L1527.38 3666.13 L1530.48 3656.94 L1533.58 3647.92 L1536.69 3639.09 L1539.79 3630.46 L1542.89 3622.03 L1545.99 3613.83 L1549.09 3605.86 L1552.20 3598.14 L1555.30 3590.66 L1558.40 3583.46 L1561.50 3576.52 L1564.60 3569.88 L1567.71 3563.53 L1570.81 3557.48 L1573.91 3551.76 L1577.01 3546.35 L1580.11 3541.28 L1583.21 3536.55 L1586.32 3532.17 L1589.42 3528.14 L1592.52 3524.48 L1595.62 3521.19 L1598.72 3518.27 L1601.83 3515.72 L1604.93 3513.57 L1608.03 3511.80 L1611.13 3510.42 L1614.23 3509.43 L1617.33 3508.84 L1620.44 3508.64" fill="none" stroke="#000000" stroke-width="12.0" stroke-linejoin="round" stroke-dasharray="2.973 12.001" stroke-dashoffset="6.34"/>
<path d="M1620.44 3508.64 L1623.54 3508.64 L1626.64 3508.64 L1629.74 3508.64 L1632.84 3508.64 L1635.95 3508.64 L1639.05 3508.64 L1642.15 3508.64 L1645.25 3508.64 L1648.35 3508.64 L1651.46 3508.64 L1654.56 3508.64 L1657.66 3508.64 L1660.76 3508.64 L1663.86 3508.64 L1666.96 3508.64 L1670.07 3508.64 L1673.17 3508.64 L1676.27 3508.64 L1679.37 3508.64 L1682.47 3508.64 L1685.58 3508.64 L1688.68 3508.64 L1691.78 3508.64 L1694.88 3508.64 L1697.98 3508.64 L1701.08 3508.64 L1704.19 3508.64 L1707.29 3508.64 L1710.39 3508.64 L1713.49 3508.64 L1716.59 3508.64 L1719.70 3508.64 L1722.80 3508.64 L1725.90 3508.64 L1729.00 3508.64 L1732.10 3508.64 L1735.21 3508.64 L1738.31 3508.64 L1741.41 3508.64 L1744.51 3508.64 L1747.61 3508.64 L1750.71 3508.64 L1753.82 3508.64 L1756.92 3508.64 L1760.02 3508.64 L1763.12 3508.64 L1766.22 3508.64 L1769.33 3508.64 L1772.43 3508.64 L1775.53 3508.64 L1778.63 3508.64 L1781.73 3508.64 L1784.83 3508.64 L1787.94 3508.64 L1791.04 3508.64 L1794.14 3508.64 L1797.24 3508.64 L1800.34 3508.64 L1803.45 3508.64 L1806.55 3508.64 L1809.65 3508.64 L1812.75 3508.64 L1815.85 3508.64 L1818.96 3508.64 L1822.06 3508.64 L1825.16 3508.64 L1828.26 3508.64 L1831.36 3508.64 L1834.46 3508.64 L1837.57 3508.64 L1840.67 3508.64 L1843.77 3508.64 L1846.87 3508.64 L1849.97 3508.64 L1853.08 3508.64 L1856.18 3508.64 L1859.28 3508.64 L1862.38 3508.64 L1865.48 3508.64 L1868.58 3508.64 L1871.69 3508.64 L1874.79 3508.64 L1877.89 3508.64 L1880.99 3508.64 L1884.09 3508.64 L1887.20 3508.64 L1890.30 3508.64 L1893.40 3508.64 L1896.50 3508.64 L1899.60 3508.64 L1902.71 3508.64 L1905.81 3508.64 L1908.91 3508.64 L1912.01 3508.64 L1915.11 3508.64 L1918.21 3508.64 L1921.32 3508.64 L1924.42 3508.64 L1927.52 3508.64 L1930.62 3508.64 L1933.72 3508.64 L1936.83 3508.64 L1939.93 3508.64 L1943.03 3508.64 L1946.13 3508.64 L1949.23 3508.64 L1952.33 3508.64 L1955.44 3508.64 L1958.54 3508.64 L1961.64 3508.64 L1964.74 3508.64 L1967.84 3508.64 L1970.95 3508.64 L1974.05 3508.64 L1977.15 3508.64 L1980.25 3508.64 L1983.35 3508.64 L1986.46 3508.64 L1989.56 3508.64 L1992.66 3508.64 L1995.76 3508.64 L1998.86 3508.64 L2001.96 3508.64 L2005.07 3508.64 L2008.17 3508.64 L2011.27 3508.64 L2014.37 3508.64 L2017.47 3508.64 L2020.58 3508.64 L2023.68 3508.64 L2026.78 3508.64 L2029.88 3508.64 L2032.98 3508.64 L2036.08 3508.64 L2039.19 3508.64 L2042.29 3508.64 L2045.39 3508.64 L2048.49 3508.64 L2051.59 3508.64 L2054.70 3508.64 L2057.80 3508.64 L2060.90 3508.64 L2064.00 3508.64 L2067.10 3508.64 L2070.21 3508.64 L2073.31 3508.64 L2076.41 3508.64 L2079.51 3508.64 L2082.61 3508.64 L2085.71 3508.64" fill="none" stroke="#000000" stroke-width="12.0" stroke-linejoin="round" stroke-dasharray="3.000 12.110" stroke-dashoffset="10.60"/>
<path d="M226.10 3508.64 L218.60 3508.64" stroke="#000000" stroke-width="12.0" fill="none"/>
<path d="M2082.71 3508.64 L2091.71 3508.64" stroke="#000000" stroke-width="12.0" fill="none"/>
<path d="M224.60 3625.69 L227.71 3625.69 L230.81 3625.69 L233.91 3625.69 L237.01 3625.69 L240.11 3625.69 L243.21 3625.69 L246.32 3625.69 L249.42 3625.69 L252.52 3625.69 L255.62 3625.69 L258.72 3625.69 L261.83 3625.69 L264.93 3625.69 L268.03 3625.69 L271.13 3625.69 L274.23 3625.69 L277.33 3625.69 L280.44 3625.69 L283.54 3625.69 L286.64 3625.69 L289.74 3625.69 L292.84 3625.69 L295.95 3625.69 L299.05 3625.69 L302.15 3625.69 L305.25 3625.69 L308.35 3625.69 L311.46 3625.69 L314.56 3625.69 L317.66 3625.69 L320.76 3625.69 L323.86 3625.69 L326.96 3625.69 L330.07 3625.69 L333.17 3625.69 L336.27 3625.69 L339.37 3625.69 L342.47 3625.69 L345.58 3625.69 L348.68 3625.69 L351.78 3625.69 L354.88 3625.69 L357.98 3625.69 L361.08 3625.69 L364.19 3625.69 L367.29 3625.69 L370.39 3625.69 L373.49 3625.69 L376.59 3625.69 L379.70 3625.69 L382.80 3625.69 L385.90 3625.69 L389.00 3625.69 L392.10 3625.69 L395.21 3625.69 L398.31 3625.69 L401.41 3625.69 L404.51 3625.69 L407.61 3625.69 L410.71 3625.69 L413.82 3625.69 L416.92 3625.69 L420.02 3625.69 L423.12 3625.69 L426.22 3625.69 L429.33 3625.69 L432.43 3625.69 L435.53 3625.69 L438.63 3625.69 L441.73 3625.69 L444.83 3625.69 L447.94 3625.69 L451.04 3625.69 L454.14 3625.69 L457.24 3625.69 L460.34 3625.69 L463.45 3625.69 L466.55 3625.69 L469.65 3625.69 L472.75 3625.69 L475.85 3625.69 L478.96 3625.69 L482.06 3625.69 L485.16 3625.69 L488.26 3625.69 L491.36 3625.69 L494.46 3625.69 L497.57 3625.69 L500.67 3625.69 L503.77 3625.69 L506.87 3625.69 L509.97 3625.69 L513.08 3625.69 L516.18 3625.69 L519.28 3625.69 L522.38 3625.69 L525.48 3625.69 L528.58 3625.69 L531.69 3625.69 L534.79 3625.69 L537.89 3625.69 L540.99 3625.69 L544.09 3625.69 L547.20 3625.69 L550.30 3625.69 L553.40 3625.69 L556.50 3625.69 L559.60 3625.69 L562.71 3625.69 L565.81 3625.69 L568.91 3625.69 L572.01 3625.69 L575.11 3625.69 L578.21 3625.69 L581.32 3625.69 L584.42 3625.69 L587.52 3625.69 L590.62 3625.69 L593.72 3625.69 L596.83 3625.69 L599.93 3625.69 L603.03 3625.69 L606.13 3625.69 L609.23 3625.69 L612.33 3625.69 L615.44 3625.69 L618.54 3625.69 L621.64 3625.69 L624.74 3625.69 L627.84 3625.69 L630.95 3625.69 L634.05 3625.69 L637.15 3625.69 L640.25 3625.69 L643.35 3625.69 L646.46 3625.69 L649.56 3625.69 L652.66 3625.69 L655.76 3625.69 L658.86 3625.69 L661.96 3625.69 L665.07 3625.69 L668.17 3625.69 L671.27 3625.69 L674.37 3625.69 L677.47 3625.69 L680.58 3625.69 L683.68 3625.69 L686.78 3625.69 L689.88 3625.69 L692.98 3625.87 L696.08 3626.43 L699.19 3627.36 L702.29 3628.66 L705.39 3630.33 L708.49 3632.36 L711.59 3634.75 L714.70 3637.50 L717.80 3640.60 L720.90 3644.05 L724.00 3647.84 L727.10 3651.96 L730.21 3656.42 L733.31 3661.19 L736.41 3666.28 L739.51 3671.67 L742.61 3677.36 L745.71 3683.33 L748.82 3689.58 L751.92 3696.11 L755.02 3702.89 L758.12 3709.91 L761.22 3717.18 L764.33 3724.68 L767.43 3732.39 L770.53 3740.31 L773.63 3748.42 L776.73 3756.72 L779.83 3765.20 L782.94 3773.84 L786.04 3782.63 L789.14 3791.57 L792.24 3800.63 L795.34 3809.82 L798.45 3819.12 L801.55 3828.52 L804.65 3838.01 L807.75 3847.58 L810.85 3857.22 L813.96 3866.92 L817.06 3876.67 L820.16 3886.47 L823.26 3896.30 L826.36 3906.16 L829.46 3916.03 L832.57 3925.92 L835.67 3935.81 L838.77 3945.69 L841.87 3955.55 L844.97 3965.40 L848.08 3975.22 L851.18 3985.01 L854.28 3994.76 L857.38 4004.47 L860.48 4014.13 L863.58 4023.73 L866.69 4033.26 L869.79 4042.74 L872.89 4052.14 L875.99 4061.47 L879.09 4070.73 L882.20 4079.90 L885.30 4088.99 L888.40 4097.98 L891.50 4106.89 L894.60 4115.70 L897.71 4124.42 L900.81 4133.03 L903.91 4141.54 L907.01 4149.95 L910.11 4158.26 L913.21 4166.45 L916.32 4174.54 L919.42 4182.52 L922.52 4190.38 L925.62 4198.13 L928.72 4205.77 L931.83 4213.29 L934.93 4220.70 L938.03 4227.99 L941.13 4235.16 L944.23 4242.22 L947.33 4249.16 L950.44 4255.98 L953.54 4262.68 L956.64 4269.27 L959.74 4275.74 L962.84 4282.09 L965.95 4288.32 L969.05 4294.43 L972.15 4300.43 L975.25 4306.31 L978.35 4312.07 L981.46 4317.71 L984.56 4323.24 L987.66 4328.66 L990.76 4333.96 L993.86 4339.15 L996.96 4344.22 L1000.07 4349.18 L1003.17 4354.02 L1006.27 4358.76 L1009.37 4363.38 L1012.47 4367.89 L1015.58 4372.29 L1018.68 4376.58 L1021.78 4380.77 L1024.88 4384.84 L1027.98 4388.81 L1031.08 4392.68 L1034.19 4396.43 L1037.29 4400.08 L1040.39 4403.63 L1043.49 4407.07 L1046.59 4410.41 L1049.70 4413.65 L1052.80 4416.78 L1055.90 4419.82 L1059.00 4422.75 L1062.10 4425.59 L1065.21 4428.32 L1068.31 4430.96 L1071.41 4433.49 L1074.51 4435.93 L1077.61 4438.28 L1080.71 4440.52 L1083.82 4442.67 L1086.92 4444.73 L1090.02 4446.69 L1093.12 4448.56 L1096.22 4450.33 L1099.33 4452.01 L1102.43 4453.59 L1105.53 4455.09 L1108.63 4456.49 L1111.73 4457.80 L1114.83 4459.01 L1117.94 4460.14 L1121.04 4461.17 L1124.14 4462.12 L1127.24 4462.97 L1130.34 4463.73 L1133.45 4464.41 L1136.55 4464.99 L1139.65 4465.48 L1142.75 4465.88 L1145.85 4466.20 L1148.96 4466.42 L1152.06 4466.55 L1155.16 4466.60" fill="none" stroke="#ff0000" stroke-width="12.0" stroke-linejoin="round" stroke-dasharray="30.600 38.890"/>
<path d="M1155.16 4466.60 L1158.26 4466.55 L1161.36 4466.42 L1164.46 4466.20 L1167.57 4465.88 L1170.67 4465.48 L1173.77 4464.99 L1176.87 4464.41 L1179.97 4463.73 L1183.08 4462.97 L1186.18 4462.12 L1189.28 4461.17 L1192.38 4460.14 L1195.48 4459.01 L1198.58 4457.80 L1201.69 4456.49 L1204.79 4455.09 L1207.89 4453.59 L1210.99 4452.01 L1214.09 4450.33 L1217.20 4448.56 L1220.30 4446.69 L1223.40 4444.73 L1226.50 4442.67 L1229.60 4440.52 L1232.71 4438.28 L1235.81 4435.93 L1238.91 4433.49 L1242.01 4430.96 L1245.11 4428.32 L1248.21 4425.59 L1251.32 4422.75 L1254.42 4419.82 L1257.52 4416.78 L1260.62 4413.65 L1263.72 4410.41 L1266.83 4407.07 L1269.93 4403.63 L1273.03 4400.08 L1276.13 4396.43 L1279.23 4392.68 L1282.33 4388.81 L1285.44 4384.84 L1288.54 4380.77 L1291.64 4376.58 L1294.74 4372.29 L1297.84 4367.89 L1300.95 4363.38 L1304.05 4358.76 L1307.15 4354.02 L1310.25 4349.18 L1313.35 4344.22 L1316.46 4339.15 L1319.56 4333.96 L1322.66 4328.66 L1325.76 4323.24 L1328.86 4317.71 L1331.96 4312.07 L1335.07 4306.31 L1338.17 4300.43 L1341.27 4294.43 L1344.37 4288.32 L1347.47 4282.09 L1350.58 4275.74 L1353.68 4269.27 L1356.78 4262.68 L1359.88 4255.98 L1362.98 4249.16 L1366.08 4242.22 L1369.19 4235.16 L1372.29 4227.99 L1375.39 4220.70 L1378.49 4213.29 L1381.59 4205.77 L1384.70 4198.13 L1387.80 4190.38 L1390.90 4182.52 L1394.00 4174.54 L1397.10 4166.45 L1400.21 4158.26 L1403.31 4149.95 L1406.41 4141.54 L1409.51 4133.03 L1412.61 4124.42 L1415.71 4115.70 L1418.82 4106.89 L1421.92 4097.98 L1425.02 4088.99 L1428.12 4079.90 L1431.22 4070.73 L1434.33 4061.47 L1437.43 4052.14 L1440.53 4042.74 L1443.63 4033.26 L1446.73 4023.73 L1449.83 4014.13 L1452.94 4004.47 L1456.04 3994.76 L1459.14 3985.01 L1462.24 3975.22 L1465.34 3965.40 L1468.45 3955.55 L1471.55 3945.69 L1474.65 3935.81 L1477.75 3925.92 L1480.85 3916.03 L1483.96 3906.16 L1487.06 3896.30 L1490.16 3886.47 L1493.26 3876.67 L1496.36 3866.92 L1499.46 3857.22 L1502.57 3847.58 L1505.67 3838.01 L1508.77 3828.52 L1511.87 3819.12 L1514.97 3809.82 L1518.08 3800.63 L1521.18 3791.57 L1524.28 3782.63 L1527.38 3773.84 L1530.48 3765.20 L1533.58 3756.72 L1536.69 3748.42 L1539.79 3740.31 L1542.89 3732.39 L1545.99 3724.68 L1549.09 3717.18 L1552.20 3709.91 L1555.30 3702.89 L1558.40 3696.11 L1561.50 3689.58 L1564.60 3683.33 L1567.71 3677.36 L1570.81 3671.67 L1573.91 3666.28 L1577.01 3661.19 L1580.11 3656.42 L1583.21 3651.96 L1586.32 3647.84 L1589.42 3644.05 L1592.52 3640.60 L1595.62 3637.50 L1598.72 3634.75 L1601.83 3632.36 L1604.93 3630.33 L1608.03 3628.66 L1611.13 3627.36 L1614.23 3626.43 L1617.33 3625.87 L1620.44 3625.69" fill="none" stroke="#ff0000" stroke-width="12.0" stroke-linejoin="round" stroke-dasharray="29.682 37.723" stroke-dashoffset="6.58"/>
<path d="M1620.44 3625.69 L1623.54 3625.69 L1626.64 3625.69 L1629.74 3625.69 L1632.84 3625.69 L1635.95 3625.69 L1639.05 3625.69 L1642.15 3625.69 L1645.25 3625.69 L1648.35 3625.69 L1651.46 3625.69 L1654.56 3625.69 L1657.66 3625.69 L1660.76 3625.69 L1663.86 3625.69 L1666.96 3625.69 L1670.07 3625.69 L1673.17 3625.69 L1676.27 3625.69 L1679.37 3625.69 L1682.47 3625.69 L1685.58 3625.69 L1688.68 3625.69 L1691.78 3625.69 L1694.88 3625.69 L1697.98 3625.69 L1701.08 3625.69 L1704.19 3625.69 L1707.29 3625.69 L1710.39 3625.69 L1713.49 3625.69 L1716.59 3625.69 L1719.70 3625.69 L1722.80 3625.69 L1725.90 3625.69 L1729.00 3625.69 L1732.10 3625.69 L1735.21 3625.69 L1738.31 3625.69 L1741.41 3625.69 L1744.51 3625.69 L1747.61 3625.69 L1750.71 3625.69 L1753.82 3625.69 L1756.92 3625.69 L1760.02 3625.69 L1763.12 3625.69 L1766.22 3625.69 L1769.33 3625.69 L1772.43 3625.69 L1775.53 3625.69 L1778.63 3625.69 L1781.73 3625.69 L1784.83 3625.69 L1787.94 3625.69 L1791.04 3625.69 L1794.14 3625.69 L1797.24 3625.69 L1800.34 3625.69 L1803.45 3625.69 L1806.55 3625.69 L1809.65 3625.69 L1812.75 3625.69 L1815.85 3625.69 L1818.96 3625.69 L1822.06 3625.69 L1825.16 3625.69 L1828.26 3625.69 L1831.36 3625.69 L1834.46 3625.69 L1837.57 3625.69 L1840.67 3625.69 L1843.77 3625.69 L1846.87 3625.69 L1849.97 3625.69 L1853.08 3625.69 L1856.18 3625.69 L1859.28 3625.69 L1862.38 3625.69 L1865.48 3625.69 L1868.58 3625.69 L1871.69 3625.69 L1874.79 3625.69 L1877.89 3625.69 L1880.99 3625.69 L1884.09 3625.69 L1887.20 3625.69 L1890.30 3625.69 L1893.40 3625.69 L1896.50 3625.69 L1899.60 3625.69 L1902.71 3625.69 L1905.81 3625.69 L1908.91 3625.69 L1912.01 3625.69 L1915.11 3625.69 L1918.21 3625.69 L1921.32 3625.69 L1924.42 3625.69 L1927.52 3625.69 L1930.62 3625.69 L1933.72 3625.69 L1936.83 3625.69 L1939.93 3625.69 L1943.03 3625.69 L1946.13 3625.69 L1949.23 3625.69 L1952.33 3625.69 L1955.44 3625.69 L1958.54 3625.69 L1961.64 3625.69 L1964.74 3625.69 L1967.84 3625.69 L1970.95 3625.69 L1974.05 3625.69 L1977.15 3625.69 L1980.25 3625.69 L1983.35 3625.69 L1986.46 3625.69 L1989.56 3625.69 L1992.66 3625.69 L1995.76 3625.69 L1998.86 3625.69 L2001.96 3625.69 L2005.07 3625.69 L2008.17 3625.69 L2011.27 3625.69 L2014.37 3625.69 L2017.47 3625.69 L2020.58 3625.69 L2023.68 3625.69 L2026.78 3625.69 L2029.88 3625.69 L2032.98 3625.69 L2036.08 3625.69 L2039.19 3625.69 L2042.29 3625.69 L2045.39 3625.69 L2048.49 3625.69 L2051.59 3625.69 L2054.70 3625.69 L2057.80 3625.69 L2060.90 3625.69 L2064.00 3625.69 L2067.10 3625.69 L2070.21 3625.69 L2073.31 3625.69 L2076.41 3625.69 L2079.51 3625.69 L2082.61 3625.69 L2085.71 3625.69" fill="none" stroke="#ff0000" stroke-width="12.0" stroke-linejoin="round" stroke-dasharray="30.600 38.890" stroke-dashoffset="60.85"/>
<path d="M226.10 3625.69 L218.60 3625.69" stroke="#ff0000" stroke-width="12.0" fill="none"/>
<path d="M2084.21 3625.69 L2091.71 3625.69" stroke="#ff0000" stroke-width="12.0" fill="none"/>
<path d="M224.60 3721.39 L227.71 3721.39 L230.81 3721.39 L233.91 3721.39 L237.01 3721.39 L240.11 3721.39 L243.21 3721.39 L246.32 3721.39 L249.42 3721.39 L252.52 3721.39 L255.62 3721.39 L258.72 3721.39 L261.83 3721.39 L264.93 3721.39 L268.03 3721.39 L271.13 3721.39 L274.23 3721.39 L277.33 3721.39 L280.44 3721.39 L283.54 3721.39 L286.64 3721.39 L289.74 3721.39 L292.84 3721.39 L295.95 3721.39 L299.05 3721.39 L302.15 3721.39 L305.25 3721.39 L308.35 3721.39 L311.46 3721.39 L314.56 3721.39 L317.66 3721.39 L320.76 3721.39 L323.86 3721.39 L326.96 3721.39 L330.07 3721.39 L333.17 3721.39 L336.27 3721.39 L339.37 3721.39 L342.47 3721.39 L345.58 3721.39 L348.68 3721.39 L351.78 3721.39 L354.88 3721.39 L357.98 3721.39 L361.08 3721.39 L364.19 3721.39 L367.29 3721.39 L370.39 3721.39 L373.49 3721.39 L376.59 3721.39 L379.70 3721.39 L382.80 3721.39 L385.90 3721.39 L389.00 3721.39 L392.10 3721.39 L395.21 3721.39 L398.31 3721.39 L401.41 3721.39 L404.51 3721.39 L407.61 3721.39 L410.71 3721.39 L413.82 3721.39 L416.92 3721.39 L420.02 3721.39 L423.12 3721.39 L426.22 3721.39 L429.33 3721.39 L432.43 3721.39 L435.53 3721.39 L438.63 3721.39 L441.73 3721.39 L444.83 3721.39 L447.94 3721.39 L451.04 3721.39 L454.14 3721.39 L457.24 3721.39 L460.34 3721.39 L463.45 3721.39 L466.55 3721.39 L469.65 3721.39 L472.75 3721.39 L475.85 3721.39 L478.96 3721.39 L482.06 3721.39 L485.16 3721.39 L488.26 3721.39 L491.36 3721.39 L494.46 3721.39 L497.57 3721.39 L500.67 3721.39 L503.77 3721.39 L506.87 3721.39 L509.97 3721.39 L513.08 3721.39 L516.18 3721.39 L519.28 3721.39 L522.38 3721.39 L525.48 3721.39 L528.58 3721.39 L531.69 3721.39 L534.79 3721.39 L537.89 3721.39 L540.99 3721.39 L544.09 3721.39 L547.20 3721.39 L550.30 3721.39 L553.40 3721.39 L556.50 3721.39 L559.60 3721.39 L562.71 3721.39 L565.81 3721.39 L568.91 3721.39 L572.01 3721.39 L575.11 3721.39 L578.21 3721.39 L581.32 3721.39 L584.42 3721.39 L587.52 3721.39 L590.62 3721.39 L593.72 3721.39 L596.83 3721.39 L599.93 3721.39 L603.03 3721.39 L606.13 3721.39 L609.23 3721.39 L612.33 3721.39 L615.44 3721.39 L618.54 3721.39 L621.64 3721.39 L624.74 3721.39 L627.84 3721.39 L630.95 3721.39 L634.05 3721.39 L637.15 3721.39 L640.25 3721.39 L643.35 3721.39 L646.46 3721.39 L649.56 3721.39 L652.66 3721.39 L655.76 3721.39 L658.86 3721.39 L661.96 3721.39 L665.07 3721.39 L668.17 3721.39 L671.27 3721.39 L674.37 3721.39 L677.47 3721.39 L680.58 3721.39 L683.68 3721.39 L686.78 3721.39 L689.88 3721.39 L692.98 3721.56 L696.08 3722.07 L699.19 3722.92 L702.29 3724.12 L705.39 3725.65 L708.49 3727.51 L711.59 3729.71 L714.70 3732.24 L717.80 3735.09 L720.90 3738.25 L724.00 3741.73 L727.10 3745.52 L730.21 3749.61 L733.31 3754.00 L736.41 3758.67 L739.51 3763.63 L742.61 3768.86 L745.71 3774.35 L748.82 3780.09 L751.92 3786.09 L755.02 3792.32 L758.12 3798.79 L761.22 3805.47 L764.33 3812.36 L767.43 3819.46 L770.53 3826.74 L773.63 3834.21 L776.73 3841.85 L779.83 3849.65 L782.94 3857.60 L786.04 3865.69 L789.14 3873.92 L792.24 3882.27 L795.34 3890.73 L798.45 3899.30 L801.55 3907.96 L804.65 3916.70 L807.75 3925.52 L810.85 3934.41 L813.96 3943.35 L817.06 3952.35 L820.16 3961.38 L823.26 3970.45 L826.36 3979.55 L829.46 3988.66 L832.57 3997.78 L835.67 4006.91 L838.77 4016.03 L841.87 4025.14 L844.97 4034.24 L848.08 4043.31 L851.18 4052.36 L854.28 4061.37 L857.38 4070.34 L860.48 4079.26 L863.58 4088.14 L866.69 4096.96 L869.79 4105.73 L872.89 4114.43 L875.99 4123.06 L879.09 4131.63 L882.20 4140.12 L885.30 4148.53 L888.40 4156.86 L891.50 4165.11 L894.60 4173.27 L897.71 4181.35 L900.81 4189.33 L903.91 4197.22 L907.01 4205.02 L910.11 4212.72 L913.21 4220.32 L916.32 4227.82 L919.42 4235.22 L922.52 4242.52 L925.62 4249.71 L928.72 4256.80 L931.83 4263.78 L934.93 4270.66 L938.03 4277.43 L941.13 4284.09 L944.23 4290.65 L947.33 4297.10 L950.44 4303.44 L953.54 4309.67 L956.64 4315.79 L959.74 4321.80 L962.84 4327.70 L965.95 4333.50 L969.05 4339.19 L972.15 4344.76 L975.25 4350.23 L978.35 4355.60 L981.46 4360.85 L984.56 4366.00 L987.66 4371.04 L990.76 4375.98 L993.86 4380.80 L996.96 4385.53 L1000.07 4390.15 L1003.17 4394.66 L1006.27 4399.07 L1009.37 4403.38 L1012.47 4407.58 L1015.58 4411.69 L1018.68 4415.69 L1021.78 4419.59 L1024.88 4423.39 L1027.98 4427.09 L1031.08 4430.69 L1034.19 4434.19 L1037.29 4437.60 L1040.39 4440.91 L1043.49 4444.12 L1046.59 4447.23 L1049.70 4450.25 L1052.80 4453.18 L1055.90 4456.01 L1059.00 4458.75 L1062.10 4461.39 L1065.21 4463.95 L1068.31 4466.41 L1071.41 4468.78 L1074.51 4471.05 L1077.61 4473.24 L1080.71 4475.34 L1083.82 4477.35 L1086.92 4479.27 L1090.02 4481.10 L1093.12 4482.84 L1096.22 4484.50 L1099.33 4486.07 L1102.43 4487.55 L1105.53 4488.94 L1108.63 4490.25 L1111.73 4491.47 L1114.83 4492.61 L1117.94 4493.66 L1121.04 4494.63 L1124.14 4495.51 L1127.24 4496.31 L1130.34 4497.02 L1133.45 4497.65 L1136.55 4498.19 L1139.65 4498.65 L1142.75 4499.03 L1145.85 4499.32 L1148.96 4499.53 L1152.06 4499.66 L1155.16 4499.70 L1158.26 4499.66 L1161.36 4499.53 L1164.46 4499.32 L1167.57 4499.03 L1170.67 4498.65 L1173.77 4498.19 L1176.87 4497.65 L1179.97 4497.02 L1183.08 4496.31 L1186.18 4495.51 L1189.28 4494.63 L1192.38 4493.66 L1195.48 4492.61 L1198.58 4491.47 L1201.69 4490.25 L1204.79 4488.94 L1207.89 4487.55 L1210.99 4486.07 L1214.09 4484.50 L1217.20 4482.84 L1220.30 4481.10 L1223.40 4479.27 L1226.50 4477.35 L1229.60 4475.34 L1232.71 4473.24 L1235.81 4471.05 L1238.91 4468.78 L1242.01 4466.41 L1245.11 4463.95 L1248.21 4461.39 L1251.32 4458.75 L1254.42 4456.01 L1257.52 4453.18 L1260.62 4450.25 L1263.72 4447.23 L1266.83 4444.12 L1269.93 4440.91 L1273.03 4437.60 L1276.13 4434.19 L1279.23 4430.69 L1282.33 4427.09 L1285.44 4423.39 L1288.54 4419.59 L1291.64 4415.69 L1294.74 4411.69 L1297.84 4407.58 L1300.95 4403.38 L1304.05 4399.07 L1307.15 4394.66 L1310.25 4390.15 L1313.35 4385.53 L1316.46 4380.80 L1319.56 4375.98 L1322.66 4371.04 L1325.76 4366.00 L1328.86 4360.85 L1331.96 4355.60 L1335.07 4350.23 L1338.17 4344.76 L1341.27 4339.19 L1344.37 4333.50 L1347.47 4327.70 L1350.58 4321.80 L1353.68 4315.79 L1356.78 4309.67 L1359.88 4303.44 L1362.98 4297.10 L1366.08 4290.65 L1369.19 4284.09 L1372.29 4277.43 L1375.39 4270.66 L1378.49 4263.78 L1381.59 4256.80 L1384.70 4249.71 L1387.80 4242.52 L1390.90 4235.22 L1394.00 4227.82 L1397.10 4220.32 L1400.21 4212.72 L1403.31 4205.02 L1406.41 4197.22 L1409.51 4189.33 L1412.61 4181.35 L1415.71 4173.27 L1418.82 4165.11 L1421.92 4156.86 L1425.02 4148.53 L1428.12 4140.12 L1431.22 4131.63 L1434.33 4123.06 L1437.43 4114.43 L1440.53 4105.73 L1443.63 4096.96 L1446.73 4088.14 L1449.83 4079.26 L1452.94 4070.34 L1456.04 4061.37 L1459.14 4052.36 L1462.24 4043.31 L1465.34 4034.24 L1468.45 4025.14 L1471.55 4016.03 L1474.65 4006.91 L1477.75 3997.78 L1480.85 3988.66 L1483.96 3979.55 L1487.06 3970.45 L1490.16 3961.38 L1493.26 3952.35 L1496.36 3943.35 L1499.46 3934.41 L1502.57 3925.52 L1505.67 3916.70 L1508.77 3907.96 L1511.87 3899.30 L1514.97 3890.73 L1518.08 3882.27 L1521.18 3873.92 L1524.28 3865.69 L1527.38 3857.60 L1530.48 3849.65 L1533.58 3841.85 L1536.69 3834.21 L1539.79 3826.74 L1542.89 3819.46 L1545.99 3812.36 L1549.09 3805.47 L1552.20 3798.79 L1555.30 3792.32 L1558.40 3786.09 L1561.50 3780.09 L1564.60 3774.35 L1567.71 3768.86 L1570.81 3763.63 L1573.91 3758.67 L1577.01 3754.00 L1580.11 3749.61 L1583.21 3745.52 L1586.32 3741.73 L1589.42 3738.25 L1592.52 3735.09 L1595.62 3732.24 L1598.72 3729.71 L1601.83 3727.51 L1604.93 3725.65 L1608.03 3724.12 L1611.13 3722.92 L1614.23 3722.07 L1617.33 3721.56 L1620.44 3721.39" fill="none" stroke="#0000ff" stroke-width="12.0" stroke-linejoin="round" stroke-dasharray="12.080 12.080"/>
<path d="M1620.44 3721.39 L1623.54 3721.39 L1626.64 3721.39 L1629.74 3721.39 L1632.84 3721.39 L1635.95 3721.39 L1639.05 3721.39 L1642.15 3721.39 L1645.25 3721.39 L1648.35 3721.39 L1651.46 3721.39 L1654.56 3721.39 L1657.66 3721.39 L1660.76 3721.39 L1663.86 3721.39 L1666.96 3721.39 L1670.07 3721.39 L1673.17 3721.39 L1676.27 3721.39 L1679.37 3721.39 L1682.47 3721.39 L1685.58 3721.39 L1688.68 3721.39 L1691.78 3721.39 L1694.88 3721.39 L1697.98 3721.39 L1701.08 3721.39 L1704.19 3721.39 L1707.29 3721.39 L1710.39 3721.39 L1713.49 3721.39 L1716.59 3721.39 L1719.70 3721.39 L1722.80 3721.39 L1725.90 3721.39 L1729.00 3721.39 L1732.10 3721.39 L1735.21 3721.39 L1738.31 3721.39 L1741.41 3721.39 L1744.51 3721.39 L1747.61 3721.39 L1750.71 3721.39 L1753.82 3721.39 L1756.92 3721.39 L1760.02 3721.39 L1763.12 3721.39 L1766.22 3721.39 L1769.33 3721.39 L1772.43 3721.39 L1775.53 3721.39 L1778.63 3721.39 L1781.73 3721.39 L1784.83 3721.39 L1787.94 3721.39 L1791.04 3721.39 L1794.14 3721.39 L1797.24 3721.39 L1800.34 3721.39 L1803.45 3721.39 L1806.55 3721.39 L1809.65 3721.39 L1812.75 3721.39 L1815.85 3721.39 L1818.96 3721.39 L1822.06 3721.39 L1825.16 3721.39 L1828.26 3721.39 L1831.36 3721.39 L1834.46 3721.39 L1837.57 3721.39 L1840.67 3721.39 L1843.77 3721.39 L1846.87 3721.39 L1849.97 3721.39 L1853.08 3721.39 L1856.18 3721.39 L1859.28 3721.39 L1862.38 3721.39 L1865.48 3721.39 L1868.58 3721.39 L1871.69 3721.39 L1874.79 3721.39 L1877.89 3721.39 L1880.99 3721.39 L1884.09 3721.39 L1887.20 3721.39 L1890.30 3721.39 L1893.40 3721.39 L1896.50 3721.39 L1899.60 3721.39 L1902.71 3721.39 L1905.81 3721.39 L1908.91 3721.39 L1912.01 3721.39 L1915.11 3721.39 L1918.21 3721.39 L1921.32 3721.39 L1924.42 3721.39 L1927.52 3721.39 L1930.62 3721.39 L1933.72 3721.39 L1936.83 3721.39 L1939.93 3721.39 L1943.03 3721.39 L1946.13 3721.39 L1949.23 3721.39 L1952.33 3721.39 L1955.44 3721.39 L1958.54 3721.39 L1961.64 3721.39 L1964.74 3721.39 L1967.84 3721.39 L1970.95 3721.39 L1974.05 3721.39 L1977.15 3721.39 L1980.25 3721.39 L1983.35 3721.39 L1986.46 3721.39 L1989.56 3721.39 L1992.66 3721.39 L1995.76 3721.39 L1998.86 3721.39 L2001.96 3721.39 L2005.07 3721.39 L2008.17 3721.39 L2011.27 3721.39 L2014.37 3721.39 L2017.47 3721.39 L2020.58 3721.39 L2023.68 3721.39 L2026.78 3721.39 L2029.88 3721.39 L2032.98 3721.39 L2036.08 3721.39 L2039.19 3721.39 L2042.29 3721.39 L2045.39 3721.39 L2048.49 3721.39 L2051.59 3721.39 L2054.70 3721.39 L2057.80 3721.39 L2060.90 3721.39 L2064.00 3721.39 L2067.10 3721.39 L2070.21 3721.39 L2073.31 3721.39 L2076.41 3721.39 L2079.51 3721.39 L2082.61 3721.39 L2085.71 3721.39" fill="none" stroke="#0000ff" stroke-width="12.0" stroke-linejoin="round" stroke-dasharray="12.080 12.080" stroke-dashoffset="13.50"/>
<path d="M226.10 3721.39 L218.60 3721.39" stroke="#0000ff" stroke-width="12.0" fill="none"/>
<path d="M2084.21 3721.39 L2091.71 3721.39" stroke="#0000ff" stroke-width="12.0" fill="none"/>
</g>
<rect x="206.00" y="3353.50" width="10.00" height="1188.20" fill="#000"/>
<rect x="2405.00" y="3353.50" width="8.00" height="1188.20" fill="#000"/>
<rect x="206.00" y="3353.50" width="2207.00" height="8.10" fill="#000"/>
<rect x="206.00" y="4533.60" width="2207.00" height="8.10" fill="#000"/>
<rect x="251.20" y="3361.60" width="7.00" height="4.20" fill="#000"/>
<rect x="251.20" y="4529.40" width="7.00" height="4.20" fill="#000"/>
<rect x="356.48" y="3361.60" width="7.50" height="2.30" fill="#000"/>
<rect x="462.00" y="3361.60" width="7.50" height="2.30" fill="#000"/>
<rect x="567.52" y="3361.60" width="7.50" height="2.30" fill="#000"/>
<rect x="673.05" y="3361.60" width="7.50" height="2.30" fill="#000"/>
<rect x="778.83" y="3361.60" width="7.00" height="4.20" fill="#000"/>
<rect x="778.83" y="4529.40" width="7.00" height="4.20" fill="#000"/>
<rect x="884.10" y="3361.60" width="7.50" height="2.30" fill="#000"/>
<rect x="989.62" y="3361.60" width="7.50" height="2.30" fill="#000"/>
<rect x="1095.15" y="3361.60" width="7.50" height="2.30" fill="#000"/>
<rect x="1200.67" y="3361.60" width="7.50" height="2.30" fill="#000"/>
<rect x="1306.45" y="3361.60" width="7.00" height="4.20" fill="#000"/>
<rect x="1306.45" y="4529.40" width="7.00" height="4.20" fill="#000"/>
<rect x="1411.73" y="3361.60" width="7.50" height="2.30" fill="#000"/>
<rect x="1517.25" y="3361.60" width="7.50" height="2.30" fill="#000"/>
<rect x="1622.78" y="3361.60" width="7.50" height="2.30" fill="#000"/>
<rect x="1728.30" y="3361.60" width="7.50" height="2.30" fill="#000"/>
<rect x="1834.08" y="3361.60" width="7.00" height="4.20" fill="#000"/>
<rect x="1834.08" y="4529.40" width="7.00" height="4.20" fill="#000"/>
<rect x="1939.35" y="3361.60" width="7.50" height="2.30" fill="#000"/>
<rect x="2044.88" y="3361.60" width="7.50" height="2.30" fill="#000"/>
<rect x="2150.40" y="3361.60" width="7.50" height="2.30" fill="#000"/>
<rect x="2255.92" y="3361.60" width="7.50" height="2.30" fill="#000"/>
<rect x="2361.70" y="3361.60" width="7.00" height="4.20" fill="#000"/>
<rect x="2361.70" y="4529.40" width="7.00" height="4.20" fill="#000"/>
<rect x="2402.50" y="4526.44" width="2.50" height="6.00" fill="#000"/>
<rect x="2402.50" y="4478.47" width="2.50" height="6.00" fill="#000"/>
<rect x="216.00" y="4430.00" width="5.50" height="7.00" fill="#000"/>
<rect x="2399.50" y="4430.00" width="5.50" height="7.00" fill="#000"/>
<rect x="2402.50" y="4382.53" width="2.50" height="6.00" fill="#000"/>
<rect x="2402.50" y="4334.56" width="2.50" height="6.00" fill="#000"/>
<rect x="2402.50" y="4286.59" width="2.50" height="6.00" fill="#000"/>
<rect x="2402.50" y="4238.62" width="2.50" height="6.00" fill="#000"/>
<rect x="216.00" y="4190.15" width="5.50" height="7.00" fill="#000"/>
<rect x="2399.50" y="4190.15" width="5.50" height="7.00" fill="#000"/>
<rect x="2402.50" y="4142.68" width="2.50" height="6.00" fill="#000"/>
<rect x="2402.50" y="4094.71" width="2.50" height="6.00" fill="#000"/>
<rect x="2402.50" y="4046.74" width="2.50" height="6.00" fill="#000"/>
<rect x="2402.50" y="3998.77" width="2.50" height="6.00" fill="#000"/>
<rect x="216.00" y="3950.30" width="5.50" height="7.00" fill="#000"/>
<rect x="2399.50" y="3950.30" width="5.50" height="7.00" fill="#000"/>
<rect x="2402.50" y="3902.83" width="2.50" height="6.00" fill="#000"/>
<rect x="2402.50" y="3854.86" width="2.50" height="6.00" fill="#000"/>
<rect x="2402.50" y="3806.89" width="2.50" height="6.00" fill="#000"/>
<rect x="2402.50" y="3758.92" width="2.50" height="6.00" fill="#000"/>
<rect x="216.00" y="3710.45" width="5.50" height="7.00" fill="#000"/>
<rect x="2399.50" y="3710.45" width="5.50" height="7.00" fill="#000"/>
<rect x="2402.50" y="3662.98" width="2.50" height="6.00" fill="#000"/>
<rect x="2402.50" y="3615.01" width="2.50" height="6.00" fill="#000"/>
<rect x="2402.50" y="3567.04" width="2.50" height="6.00" fill="#000"/>
<rect x="2402.50" y="3519.07" width="2.50" height="6.00" fill="#000"/>
<rect x="216.00" y="3470.60" width="5.50" height="7.00" fill="#000"/>
<rect x="2399.50" y="3470.60" width="5.50" height="7.00" fill="#000"/>
<rect x="2402.50" y="3423.13" width="2.50" height="6.00" fill="#000"/>
<rect x="2402.50" y="3375.16" width="2.50" height="6.00" fill="#000"/>
<text transform="translate(203.90 4602.80) scale(1.1600 1)" style="font-family:'Liberation Serif',serif;font-size:68px" fill="#000" stroke="#000" stroke-width="0.2">0.0</text>
<text transform="translate(731.53 4602.80) scale(1.1600 1)" style="font-family:'Liberation Serif',serif;font-size:68px" fill="#000" stroke="#000" stroke-width="0.2">0.5</text>
<text transform="translate(1259.15 4602.80) scale(1.1600 1)" style="font-family:'Liberation Serif',serif;font-size:68px" fill="#000" stroke="#000" stroke-width="0.2">1.0</text>
<text transform="translate(1786.78 4602.80) scale(1.1600 1)" style="font-family:'Liberation Serif',serif;font-size:68px" fill="#000" stroke="#000" stroke-width="0.2">1.5</text>
<text transform="translate(2314.40 4602.80) scale(1.1600 1)" style="font-family:'Liberation Serif',serif;font-size:68px" fill="#000" stroke="#000" stroke-width="0.2">2.0</text>
<text transform="translate(120.08 4451.50) scale(1.1600 1)" style="font-family:'Liberation Serif',serif;font-size:68px" fill="#000" stroke="#000" stroke-width="0.2">30</text>
<text transform="translate(120.08 4211.65) scale(1.1600 1)" style="font-family:'Liberation Serif',serif;font-size:68px" fill="#000" stroke="#000" stroke-width="0.2">40</text>
<text transform="translate(120.08 3971.80) scale(1.1600 1)" style="font-family:'Liberation Serif',serif;font-size:68px" fill="#000" stroke="#000" stroke-width="0.2">50</text>
<text transform="translate(120.08 3731.95) scale(1.1600 1)" style="font-family:'Liberation Serif',serif;font-size:68px" fill="#000" stroke="#000" stroke-width="0.2">60</text>
<text transform="translate(120.08 3492.10) scale(1.1600 1)" style="font-family:'Liberation Serif',serif;font-size:68px" fill="#000" stroke="#000" stroke-width="0.2">70</text>
<rect x="1086.00" y="3231.50" width="444.10" height="115.80" fill="#fff" stroke="#000" stroke-width="7.4"/>
<text transform="translate(1103.54 3313.30) scale(1.1683 1)" style="font-family:'Liberation Serif',serif;font-size:74px" fill="#000" stroke="#000" stroke-width="0.6">Geometry.3</text>
<g filter="url(#thinU)">
<text transform="translate(84.02 4089.28) rotate(-90) scale(0.9347 1.0809)" style="font-family:'Liberation Mono',monospace;font-style:italic;font-size:100px">u</text>
</g><g filter="url(#thinF)">
<text transform="translate(102.21 4034.99) rotate(-90) scale(1.0123 1.0117)" style="font-family:'Liberation Mono',monospace;font-style:italic;font-size:78px">fluid</text>
</g>
<text transform="translate(1256.18 4700.96) scale(1.1147 0.8402) skewX(-30)" style="font-family:'DejaVu Sans',sans-serif;font-weight:200;font-size:100px" stroke="#000" stroke-width="0.9">ξ</text>
<text x="1332.50" y="4807.00" text-anchor="middle" style="font-family:'Liberation Serif',serif;font-size:73px">(<tspan font-weight="bold">c</tspan>)</text>
<rect x="1740.00" y="3905.40" width="585.10" height="482.40" rx="11" ry="11" fill="#fff" stroke="#555" stroke-width="2.6"/>
<path d="M1763.90 3965.10 L2085.30 3965.10" stroke="#00ff00" stroke-width="2.2" fill="none"/>
<text transform="translate(2126.21 3974.50) scale(1.2238 1)" style="font-family:'Liberation Serif',serif;font-size:76px" fill="#000" stroke="#000" stroke-width="0.6">M=2</text>
<path d="M1763.90 4092.00 L2085.30 4092.00" stroke="#222" stroke-width="2.2" fill="none" stroke-dasharray="4.0 13.15"/>
<text transform="translate(2126.27 4101.70) scale(1.1982 1)" style="font-family:'Liberation Serif',serif;font-size:76px" fill="#000" stroke="#000" stroke-width="0.6">M=4</text>
<path d="M1763.90 4219.90 L2085.30 4219.90" stroke="#ff0000" stroke-width="2.2" fill="none" stroke-dasharray="35.5 43.1"/>
<text transform="translate(2126.25 4228.90) scale(1.2077 1)" style="font-family:'Liberation Serif',serif;font-size:76px" fill="#000" stroke="#000" stroke-width="0.6">M=6</text>
<path d="M1763.90 4347.80 L2085.30 4347.80" stroke="#0000ff" stroke-width="2.2" fill="none" stroke-dasharray="14.8 12.47"/>
<text transform="translate(2126.24 4356.10) scale(1.2125 1)" style="font-family:'Liberation Serif',serif;font-size:76px" fill="#000" stroke="#000" stroke-width="0.6">M=8</text>
</svg></body></html>
